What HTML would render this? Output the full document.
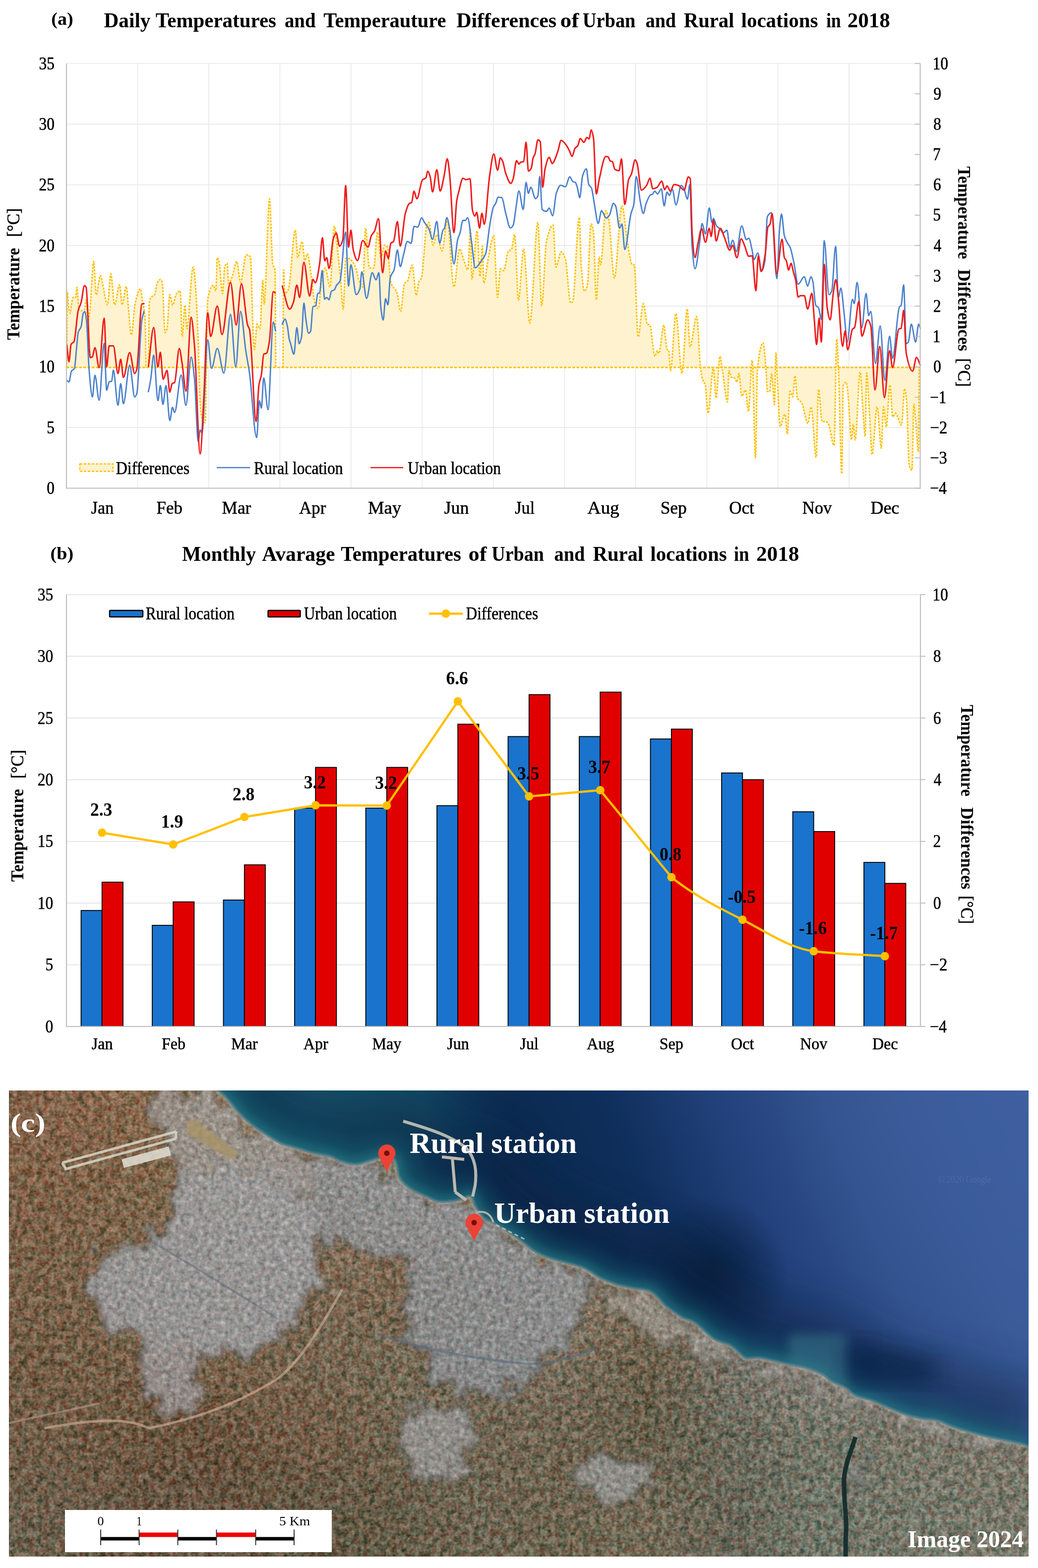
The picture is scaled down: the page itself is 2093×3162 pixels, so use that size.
<!DOCTYPE html>
<html><head><meta charset="utf-8"><title>Urban and Rural temperatures 2018</title>
<style>
html,body{margin:0;padding:0;background:#fff;}
body{width:2093px;height:3162px;overflow:hidden;position:relative;}
svg{position:absolute;left:0;top:0;display:block;}
</style></head><body>
<svg width="2093" height="3162" viewBox="0 0 2093 3162" xmlns="http://www.w3.org/2000/svg">
<rect width="2093" height="3162" fill="#fff"/>
<g id="chartA">
<line x1="134.0" y1="862.1" x2="1855.5" y2="862.1" stroke="#E8E8E8" stroke-width="1.6"/>
<line x1="134.0" y1="739.8" x2="1855.5" y2="739.8" stroke="#E8E8E8" stroke-width="1.6"/>
<line x1="134.0" y1="617.4" x2="1855.5" y2="617.4" stroke="#E8E8E8" stroke-width="1.6"/>
<line x1="134.0" y1="495.1" x2="1855.5" y2="495.1" stroke="#E8E8E8" stroke-width="1.6"/>
<line x1="134.0" y1="372.7" x2="1855.5" y2="372.7" stroke="#E8E8E8" stroke-width="1.6"/>
<line x1="134.0" y1="250.4" x2="1855.5" y2="250.4" stroke="#E8E8E8" stroke-width="1.6"/>
<line x1="134.0" y1="128.0" x2="1855.5" y2="128.0" stroke="#E8E8E8" stroke-width="1.6"/>
<line x1="277.5" y1="128.0" x2="277.5" y2="984.5" stroke="#E8E8E8" stroke-width="1.6"/>
<line x1="420.9" y1="128.0" x2="420.9" y2="984.5" stroke="#E8E8E8" stroke-width="1.6"/>
<line x1="564.4" y1="128.0" x2="564.4" y2="984.5" stroke="#E8E8E8" stroke-width="1.6"/>
<line x1="707.8" y1="128.0" x2="707.8" y2="984.5" stroke="#E8E8E8" stroke-width="1.6"/>
<line x1="851.3" y1="128.0" x2="851.3" y2="984.5" stroke="#E8E8E8" stroke-width="1.6"/>
<line x1="994.8" y1="128.0" x2="994.8" y2="984.5" stroke="#E8E8E8" stroke-width="1.6"/>
<line x1="1138.2" y1="128.0" x2="1138.2" y2="984.5" stroke="#E8E8E8" stroke-width="1.6"/>
<line x1="1281.7" y1="128.0" x2="1281.7" y2="984.5" stroke="#E8E8E8" stroke-width="1.6"/>
<line x1="1425.1" y1="128.0" x2="1425.1" y2="984.5" stroke="#E8E8E8" stroke-width="1.6"/>
<line x1="1568.6" y1="128.0" x2="1568.6" y2="984.5" stroke="#E8E8E8" stroke-width="1.6"/>
<line x1="1712.0" y1="128.0" x2="1712.0" y2="984.5" stroke="#E8E8E8" stroke-width="1.6"/>
<path d="M134.5,741.0 C134.9,689.9 135.3,587.8 135.7,587.8 C136.5,587.8 137.4,613.1 138.2,618.2 C139.3,625.2 140.5,631.7 141.6,631.7 C142.4,631.7 143.3,619.3 144.1,614.8 C145.2,608.6 146.4,599.6 147.5,599.6 C149.2,599.6 150.9,599.6 152.6,599.6 C153.4,599.6 154.3,579.4 155.1,579.4 C156.5,579.4 157.9,624.1 159.3,625.0 C161.0,626.1 162.7,626.6 164.4,626.6 C166.6,626.6 168.9,625.7 171.1,623.3 C172.0,622.4 172.8,604.7 173.7,604.7 C175.1,604.7 176.5,646.9 177.9,646.9 C179.0,646.9 180.2,634.3 181.3,625.0 C183.8,604.1 186.4,527.0 188.9,527.0 C190.6,527.0 192.3,594.6 194.0,594.6 C196.8,594.6 199.6,555.7 202.4,555.7 C203.8,555.7 205.2,565.4 206.6,570.9 C210.0,584.0 213.3,614.8 216.7,614.8 C219.0,614.8 221.2,552.3 223.5,552.3 C226.0,552.3 228.6,614.8 231.1,614.8 C234.5,614.8 237.8,574.3 241.2,574.3 C242.9,574.3 244.6,614.8 246.3,614.8 C249.1,614.8 251.9,577.7 254.7,577.7 C256.1,577.7 257.6,607.7 259.0,621.6 C261.0,640.6 262.9,675.6 264.9,675.6 C267.4,675.6 270.0,622.0 272.5,611.5 C276.1,596.4 279.8,582.7 283.4,582.7 C284.5,582.7 285.7,597.2 286.8,604.7 C288.8,617.8 290.7,617.1 292.7,645.2 C293.3,653.3 293.8,709.4 294.4,741.5 L294.4,741.0 L134.5,741.0 Z" fill="#FFF2CC" fill-opacity="0.95"/>
<path d="M299.0,741.0 C299.8,697.2 300.5,614.7 301.3,609.6 C302.2,603.4 303.2,601.3 304.1,600.0 C306.7,596.5 309.2,597.7 311.8,594.3 C313.7,591.8 315.6,572.5 317.5,569.4 C319.4,566.3 321.4,563.7 323.3,563.7 C324.6,563.7 325.8,566.1 327.1,569.4 C329.0,574.4 330.9,670.8 332.8,670.8 C334.1,670.8 335.4,667.4 336.7,663.2 C338.6,657.1 340.5,594.3 342.4,594.3 C344.3,594.3 346.2,615.3 348.1,615.3 C350.7,615.3 353.2,595.5 355.8,592.4 C358.3,589.3 360.9,586.6 363.4,586.6 C364.7,586.6 366.0,678.5 367.3,678.5 C369.2,678.5 371.1,615.3 373.0,615.3 C374.3,615.3 375.5,663.2 376.8,663.2 C381.0,663.2 385.1,538.8 389.3,538.8 C392.8,538.8 396.3,603.4 399.8,690.0 C400.2,699.9 400.6,728.6 401.0,741.0 C402.3,782.3 403.7,820.0 405.0,830.0 C406.7,842.6 408.3,852.0 410.0,852.0 C411.3,852.0 412.7,852.0 414.0,852.0 C414.7,852.0 415.3,775.2 416.0,741.0 C417.0,691.4 417.9,609.5 418.9,603.9 C422.7,581.8 426.6,575.2 430.4,575.2 C432.0,575.2 433.6,586.6 435.2,586.6 C436.2,586.6 437.1,519.7 438.1,519.7 C439.4,519.7 440.6,524.4 441.9,529.2 C444.1,537.6 446.4,592.4 448.6,592.4 C450.2,592.4 451.8,540.5 453.4,536.9 C455.0,533.4 456.5,531.1 458.1,531.1 C459.1,531.1 460.0,571.3 461.0,571.3 C463.6,571.3 466.1,562.4 468.7,556.0 C471.6,548.9 474.4,527.3 477.3,527.3 C479.9,527.3 482.4,569.4 485.0,569.4 C488.8,569.4 492.6,513.9 496.4,513.9 C499.3,513.9 502.1,515.1 505.0,517.8 C506.9,519.6 508.9,650.6 510.8,680.0 C511.5,691.1 512.3,705.0 513.0,705.0 C514.8,705.0 516.6,653.6 518.4,653.6 C520.3,653.6 522.3,663.2 524.2,663.2 C526.1,663.2 528.0,565.6 529.9,565.6 C530.9,565.6 531.8,613.4 532.8,613.4 C536.3,613.4 539.8,401.0 543.3,401.0 C545.5,401.0 547.8,522.4 550.0,533.0 C551.6,540.6 553.2,535.2 554.8,546.5 C555.1,548.6 555.4,627.2 555.7,680.0 C555.8,697.6 555.9,720.7 556.0,741.0 L556.0,741.0 L299.0,741.0 Z" fill="#FFF2CC" fill-opacity="0.95"/>
<path d="M570.7,741.0 C571.0,675.3 571.4,544.0 571.7,544.0 C572.7,544.0 573.6,591.8 574.6,591.8 C576.8,591.8 579.1,588.3 581.3,584.2 C586.1,575.5 590.8,463.9 595.6,463.9 C597.2,463.9 598.8,519.4 600.4,519.4 C603.3,519.4 606.1,486.9 609.0,486.9 C610.9,486.9 612.8,525.2 614.7,525.2 C616.3,525.2 617.9,511.8 619.5,511.8 C622.4,511.8 625.2,539.7 628.1,559.6 C629.7,570.7 631.3,595.3 632.9,601.7 C635.8,613.2 638.6,622.5 641.5,622.5 C644.1,622.5 646.6,572.9 649.2,561.5 C651.4,551.6 653.7,540.5 655.9,540.5 C659.1,540.5 662.2,578.7 665.4,578.7 C668.3,578.7 671.2,456.3 674.1,456.3 C676.6,456.3 679.2,492.1 681.7,513.7 C683.3,527.3 684.9,543.1 686.5,559.6 C688.4,579.2 690.3,623.5 692.2,623.5 C693.8,623.5 695.4,521.3 697.0,521.3 C698.9,521.3 700.9,521.3 702.8,521.3 C707.2,521.3 711.7,528.4 716.1,536.6 C718.7,541.3 721.2,559.2 723.8,565.3 C726.4,571.4 728.9,578.7 731.5,578.7 C733.4,578.7 735.3,460.1 737.2,460.1 C739.7,460.1 742.3,540.5 744.8,540.5 C747.7,540.5 750.6,540.5 753.5,540.5 C756.0,540.5 758.6,467.8 761.1,467.8 C763.3,467.8 765.6,521.3 767.8,521.3 C770.4,521.3 772.9,494.5 775.5,494.5 C777.4,494.5 779.3,496.0 781.2,498.4 C783.4,501.2 785.7,562.2 787.9,569.2 C792.0,582.2 796.2,579.4 800.3,590.2 C802.9,596.9 805.4,628.0 808.0,628.0 C810.5,628.0 813.1,574.1 815.6,571.1 C817.5,568.8 819.5,569.3 821.4,567.2 C824.6,563.8 827.8,534.5 831.0,534.5 C833.8,534.5 836.7,595.7 839.5,595.7 C841.1,595.7 842.7,573.3 844.3,569.2 C846.2,564.2 848.2,564.7 850.1,559.6 C853.6,550.3 857.1,461.8 860.6,454.4 C862.1,451.3 863.5,448.6 865.0,448.6 C867.7,448.6 870.5,494.3 873.2,494.3 C875.7,494.3 878.3,473.2 880.8,473.2 C884.3,473.2 887.9,505.8 891.4,505.8 C894.9,505.8 898.4,444.5 901.9,444.5 C906.4,444.5 910.8,578.6 915.3,578.6 C919.1,578.6 922.9,501.9 926.7,501.9 C929.6,501.9 932.5,517.4 935.4,524.9 C937.9,531.5 940.5,544.2 943.0,544.2 C944.9,544.2 946.8,463.7 948.7,463.7 C949.7,463.7 950.6,563.3 951.6,563.3 C955.1,563.3 958.6,465.6 962.1,465.6 C964.0,465.6 966.0,557.6 967.9,557.6 C969.5,557.6 971.1,496.2 972.7,496.2 C973.6,496.2 974.6,571.0 975.5,571.0 C978.7,571.0 981.9,532.2 985.1,517.2 C988.6,500.8 992.1,475.2 995.6,475.2 C998.2,475.2 1000.7,599.7 1003.3,599.7 C1005.2,599.7 1007.1,542.1 1009.0,542.1 C1011.2,542.1 1013.5,545.9 1015.7,545.9 C1018.9,545.9 1022.1,507.6 1025.3,505.8 C1027.2,504.7 1029.1,505.1 1031.0,503.9 C1033.2,502.5 1035.5,473.2 1037.7,473.2 C1040.3,473.2 1042.8,605.4 1045.4,605.4 C1048.9,605.4 1052.4,501.9 1055.9,501.9 C1060.0,501.9 1064.2,651.3 1068.3,651.3 C1073.7,651.3 1079.2,448.4 1084.6,448.4 C1087.1,448.4 1089.7,616.9 1092.2,616.9 C1095.4,616.9 1098.6,500.3 1101.8,486.6 C1106.3,467.5 1110.7,454.1 1115.2,454.1 C1117.1,454.1 1119.1,538.4 1121.0,538.4 C1124.5,538.4 1128.0,507.8 1131.5,507.8 C1134.4,507.8 1137.2,514.9 1140.1,523.1 C1143.6,533.2 1147.1,611.1 1150.6,611.1 C1151.9,611.1 1153.3,609.9 1154.6,608.5 C1159.1,603.7 1163.5,438.5 1168.0,438.5 C1169.3,438.5 1170.5,517.8 1171.8,533.9 C1174.0,562.4 1176.3,587.5 1178.5,587.5 C1180.4,587.5 1182.3,582.6 1184.2,576.0 C1186.8,567.1 1189.3,451.5 1191.9,451.5 C1193.5,451.5 1195.1,459.0 1196.7,468.9 C1198.6,480.6 1200.5,604.7 1202.4,604.7 C1204.3,604.7 1206.2,518.6 1208.1,518.6 C1209.1,518.6 1210.0,533.9 1211.0,533.9 C1214.5,533.9 1218.0,425.0 1221.5,425.0 C1223.4,425.0 1225.4,432.6 1227.3,440.2 C1231.1,455.2 1234.9,560.7 1238.7,560.7 C1243.8,560.7 1249.0,415.0 1254.1,415.0 C1257.9,415.0 1261.7,471.7 1265.5,491.8 C1268.7,508.7 1271.9,533.9 1275.1,533.9 C1276.4,533.9 1277.6,533.9 1278.9,533.9 C1281.5,533.9 1284.0,679.3 1286.6,679.3 C1290.1,679.3 1293.6,612.4 1297.1,612.4 C1300.0,612.4 1302.8,654.5 1305.7,654.5 C1307.0,654.5 1308.2,654.5 1309.5,654.5 C1310.0,654.5 1310.5,656.1 1311.0,657.4 C1314.2,665.8 1317.4,718.6 1320.6,718.6 C1322.2,718.6 1323.8,707.1 1325.4,707.1 C1326.4,707.1 1327.3,712.9 1328.3,712.9 C1331.8,712.9 1335.3,655.5 1338.8,655.5 C1339.8,655.5 1340.7,673.2 1341.7,680.4 C1343.0,689.9 1344.2,703.7 1345.5,705.2 C1346.5,706.3 1347.4,706.0 1348.4,707.1 C1349.7,708.6 1350.9,747.3 1352.2,747.3 C1355.7,747.3 1359.2,632.5 1362.7,632.5 C1366.8,632.5 1371.0,753.1 1375.1,753.1 C1378.6,753.1 1382.2,623.0 1385.7,623.0 C1387.6,623.0 1389.5,699.5 1391.4,699.5 C1395.9,699.5 1400.3,638.3 1404.8,638.3 C1407.3,638.3 1409.9,718.7 1412.4,739.7 C1413.7,750.5 1415.0,760.4 1416.3,764.5 C1418.2,770.5 1420.1,769.6 1422.0,776.0 C1423.9,782.5 1425.9,833.4 1427.8,833.4 C1431.3,833.4 1434.8,743.5 1438.3,743.5 C1440.2,743.5 1442.1,802.8 1444.0,802.8 C1446.6,802.8 1449.1,718.6 1451.7,718.6 C1453.3,718.6 1454.9,736.1 1456.5,745.4 C1460.0,765.8 1463.5,810.5 1467.0,810.5 C1467.9,810.5 1468.9,747.3 1469.8,747.3 C1471.4,747.3 1473.0,759.8 1474.6,760.7 C1476.8,761.9 1479.1,761.5 1481.3,762.6 C1482.9,763.4 1484.5,770.3 1486.1,770.3 C1487.4,770.3 1488.6,753.1 1489.9,753.1 C1491.8,753.1 1493.8,799.0 1495.7,799.0 C1498.2,799.0 1500.8,786.5 1503.3,786.5 C1505.2,786.5 1507.2,829.6 1509.1,829.6 C1511.6,829.6 1514.2,726.3 1516.7,726.3 C1518.9,726.3 1521.2,924.0 1523.4,924.0 C1524.7,924.0 1525.9,757.9 1527.2,745.4 C1531.0,707.7 1534.9,691.8 1538.7,691.8 C1540.6,691.8 1542.6,722.2 1544.5,745.4 C1545.4,756.6 1546.4,789.4 1547.3,789.4 C1548.9,789.4 1550.5,789.4 1552.1,789.4 C1553.4,789.4 1554.6,753.1 1555.9,753.1 C1557.8,753.1 1559.8,816.2 1561.7,816.2 C1562.7,816.2 1563.6,711.0 1564.6,711.0 C1565.5,711.0 1566.5,746.1 1567.4,762.6 C1569.3,796.8 1571.3,860.2 1573.2,860.2 C1576.4,860.2 1579.5,835.3 1582.7,835.3 C1584.3,835.3 1585.9,875.5 1587.5,875.5 C1589.3,875.5 1591.1,789.1 1592.9,789.1 C1594.8,789.1 1596.6,800.2 1598.5,800.2 C1600.0,800.2 1601.6,757.7 1603.1,757.7 C1604.6,757.7 1606.2,798.5 1607.7,802.1 C1610.8,809.3 1613.9,807.8 1617.0,813.2 C1621.0,820.1 1625.0,853.9 1629.0,853.9 C1631.2,853.9 1633.3,820.6 1635.5,820.6 C1638.9,820.6 1642.3,922.3 1645.7,922.3 C1647.2,922.3 1648.8,785.4 1650.3,785.4 C1652.8,785.4 1655.2,850.2 1657.7,850.2 C1660.2,850.2 1662.6,850.2 1665.1,850.2 C1666.9,850.2 1668.8,853.0 1670.6,855.7 C1674.3,861.2 1678.0,898.2 1681.7,898.2 C1683.6,898.2 1685.4,683.7 1687.3,683.7 C1688.5,683.7 1689.8,725.4 1691.0,754.0 C1693.1,803.5 1695.3,955.6 1697.4,955.6 C1698.3,955.6 1699.3,780.7 1700.2,778.0 C1702.1,772.6 1703.9,770.6 1705.8,770.6 C1707.0,770.6 1708.3,781.9 1709.5,791.0 C1712.0,809.3 1714.4,887.1 1716.9,887.1 C1718.1,887.1 1719.4,855.7 1720.6,855.7 C1721.8,855.7 1723.1,887.1 1724.3,887.1 C1727.7,887.1 1731.0,750.3 1734.4,750.3 C1736.3,750.3 1738.1,804.9 1740.0,828.0 C1741.5,847.0 1743.1,879.7 1744.6,879.7 C1745.5,879.7 1746.5,752.1 1747.4,752.1 C1749.2,752.1 1751.1,801.0 1752.9,828.0 C1754.8,855.5 1756.6,916.7 1758.5,916.7 C1761.9,916.7 1765.2,820.6 1768.6,820.6 C1771.4,820.6 1774.2,903.8 1777.0,903.8 C1778.5,903.8 1780.1,820.6 1781.6,820.6 C1783.4,820.6 1785.3,861.2 1787.1,861.2 C1789.6,861.2 1792.0,776.2 1794.5,776.2 C1796.4,776.2 1798.2,840.9 1800.1,840.9 C1801.9,840.9 1803.8,833.5 1805.6,833.5 C1809.6,833.5 1813.7,857.5 1817.7,857.5 C1819.8,857.5 1822.0,783.6 1824.1,783.6 C1825.3,783.6 1826.6,794.4 1827.8,805.8 C1829.7,823.0 1831.5,933.0 1833.4,938.9 C1835.2,944.7 1837.1,948.2 1838.9,948.2 C1840.1,948.2 1841.4,815.0 1842.6,815.0 C1843.8,815.0 1845.1,834.5 1846.3,846.5 C1848.2,864.6 1850.0,911.2 1851.9,911.2 C1852.5,911.2 1853.1,749.2 1853.7,743.0 C1853.8,742.0 1853.9,741.7 1854.0,741.0 L1854.0,741.0 L570.7,741.0 Z" fill="#FFF2CC" fill-opacity="0.95"/>
<path d="M134.5,741.0 C134.9,689.9 135.3,587.8 135.7,587.8 C136.5,587.8 137.4,613.1 138.2,618.2 C139.3,625.2 140.5,631.7 141.6,631.7 C142.4,631.7 143.3,619.3 144.1,614.8 C145.2,608.6 146.4,599.6 147.5,599.6 C149.2,599.6 150.9,599.6 152.6,599.6 C153.4,599.6 154.3,579.4 155.1,579.4 C156.5,579.4 157.9,624.1 159.3,625.0 C161.0,626.1 162.7,626.6 164.4,626.6 C166.6,626.6 168.9,625.7 171.1,623.3 C172.0,622.4 172.8,604.7 173.7,604.7 C175.1,604.7 176.5,646.9 177.9,646.9 C179.0,646.9 180.2,634.3 181.3,625.0 C183.8,604.1 186.4,527.0 188.9,527.0 C190.6,527.0 192.3,594.6 194.0,594.6 C196.8,594.6 199.6,555.7 202.4,555.7 C203.8,555.7 205.2,565.4 206.6,570.9 C210.0,584.0 213.3,614.8 216.7,614.8 C219.0,614.8 221.2,552.3 223.5,552.3 C226.0,552.3 228.6,614.8 231.1,614.8 C234.5,614.8 237.8,574.3 241.2,574.3 C242.9,574.3 244.6,614.8 246.3,614.8 C249.1,614.8 251.9,577.7 254.7,577.7 C256.1,577.7 257.6,607.7 259.0,621.6 C261.0,640.6 262.9,675.6 264.9,675.6 C267.4,675.6 270.0,622.0 272.5,611.5 C276.1,596.4 279.8,582.7 283.4,582.7 C284.5,582.7 285.7,597.2 286.8,604.7 C288.8,617.8 290.7,617.1 292.7,645.2 C293.3,653.3 293.8,709.4 294.4,741.5" fill="none" stroke="#FFC000" stroke-width="3" stroke-dasharray="4 2.5" stroke-linejoin="round"/>
<path d="M299.0,741.0 C299.8,697.2 300.5,614.7 301.3,609.6 C302.2,603.4 303.2,601.3 304.1,600.0 C306.7,596.5 309.2,597.7 311.8,594.3 C313.7,591.8 315.6,572.5 317.5,569.4 C319.4,566.3 321.4,563.7 323.3,563.7 C324.6,563.7 325.8,566.1 327.1,569.4 C329.0,574.4 330.9,670.8 332.8,670.8 C334.1,670.8 335.4,667.4 336.7,663.2 C338.6,657.1 340.5,594.3 342.4,594.3 C344.3,594.3 346.2,615.3 348.1,615.3 C350.7,615.3 353.2,595.5 355.8,592.4 C358.3,589.3 360.9,586.6 363.4,586.6 C364.7,586.6 366.0,678.5 367.3,678.5 C369.2,678.5 371.1,615.3 373.0,615.3 C374.3,615.3 375.5,663.2 376.8,663.2 C381.0,663.2 385.1,538.8 389.3,538.8 C392.8,538.8 396.3,603.4 399.8,690.0 C400.2,699.9 400.6,728.6 401.0,741.0 C402.3,782.3 403.7,820.0 405.0,830.0 C406.7,842.6 408.3,852.0 410.0,852.0 C411.3,852.0 412.7,852.0 414.0,852.0 C414.7,852.0 415.3,775.2 416.0,741.0 C417.0,691.4 417.9,609.5 418.9,603.9 C422.7,581.8 426.6,575.2 430.4,575.2 C432.0,575.2 433.6,586.6 435.2,586.6 C436.2,586.6 437.1,519.7 438.1,519.7 C439.4,519.7 440.6,524.4 441.9,529.2 C444.1,537.6 446.4,592.4 448.6,592.4 C450.2,592.4 451.8,540.5 453.4,536.9 C455.0,533.4 456.5,531.1 458.1,531.1 C459.1,531.1 460.0,571.3 461.0,571.3 C463.6,571.3 466.1,562.4 468.7,556.0 C471.6,548.9 474.4,527.3 477.3,527.3 C479.9,527.3 482.4,569.4 485.0,569.4 C488.8,569.4 492.6,513.9 496.4,513.9 C499.3,513.9 502.1,515.1 505.0,517.8 C506.9,519.6 508.9,650.6 510.8,680.0 C511.5,691.1 512.3,705.0 513.0,705.0 C514.8,705.0 516.6,653.6 518.4,653.6 C520.3,653.6 522.3,663.2 524.2,663.2 C526.1,663.2 528.0,565.6 529.9,565.6 C530.9,565.6 531.8,613.4 532.8,613.4 C536.3,613.4 539.8,401.0 543.3,401.0 C545.5,401.0 547.8,522.4 550.0,533.0 C551.6,540.6 553.2,535.2 554.8,546.5 C555.1,548.6 555.4,627.2 555.7,680.0 C555.8,697.6 555.9,720.7 556.0,741.0" fill="none" stroke="#FFC000" stroke-width="3" stroke-dasharray="4 2.5" stroke-linejoin="round"/>
<path d="M570.7,741.0 C571.0,675.3 571.4,544.0 571.7,544.0 C572.7,544.0 573.6,591.8 574.6,591.8 C576.8,591.8 579.1,588.3 581.3,584.2 C586.1,575.5 590.8,463.9 595.6,463.9 C597.2,463.9 598.8,519.4 600.4,519.4 C603.3,519.4 606.1,486.9 609.0,486.9 C610.9,486.9 612.8,525.2 614.7,525.2 C616.3,525.2 617.9,511.8 619.5,511.8 C622.4,511.8 625.2,539.7 628.1,559.6 C629.7,570.7 631.3,595.3 632.9,601.7 C635.8,613.2 638.6,622.5 641.5,622.5 C644.1,622.5 646.6,572.9 649.2,561.5 C651.4,551.6 653.7,540.5 655.9,540.5 C659.1,540.5 662.2,578.7 665.4,578.7 C668.3,578.7 671.2,456.3 674.1,456.3 C676.6,456.3 679.2,492.1 681.7,513.7 C683.3,527.3 684.9,543.1 686.5,559.6 C688.4,579.2 690.3,623.5 692.2,623.5 C693.8,623.5 695.4,521.3 697.0,521.3 C698.9,521.3 700.9,521.3 702.8,521.3 C707.2,521.3 711.7,528.4 716.1,536.6 C718.7,541.3 721.2,559.2 723.8,565.3 C726.4,571.4 728.9,578.7 731.5,578.7 C733.4,578.7 735.3,460.1 737.2,460.1 C739.7,460.1 742.3,540.5 744.8,540.5 C747.7,540.5 750.6,540.5 753.5,540.5 C756.0,540.5 758.6,467.8 761.1,467.8 C763.3,467.8 765.6,521.3 767.8,521.3 C770.4,521.3 772.9,494.5 775.5,494.5 C777.4,494.5 779.3,496.0 781.2,498.4 C783.4,501.2 785.7,562.2 787.9,569.2 C792.0,582.2 796.2,579.4 800.3,590.2 C802.9,596.9 805.4,628.0 808.0,628.0 C810.5,628.0 813.1,574.1 815.6,571.1 C817.5,568.8 819.5,569.3 821.4,567.2 C824.6,563.8 827.8,534.5 831.0,534.5 C833.8,534.5 836.7,595.7 839.5,595.7 C841.1,595.7 842.7,573.3 844.3,569.2 C846.2,564.2 848.2,564.7 850.1,559.6 C853.6,550.3 857.1,461.8 860.6,454.4 C862.1,451.3 863.5,448.6 865.0,448.6 C867.7,448.6 870.5,494.3 873.2,494.3 C875.7,494.3 878.3,473.2 880.8,473.2 C884.3,473.2 887.9,505.8 891.4,505.8 C894.9,505.8 898.4,444.5 901.9,444.5 C906.4,444.5 910.8,578.6 915.3,578.6 C919.1,578.6 922.9,501.9 926.7,501.9 C929.6,501.9 932.5,517.4 935.4,524.9 C937.9,531.5 940.5,544.2 943.0,544.2 C944.9,544.2 946.8,463.7 948.7,463.7 C949.7,463.7 950.6,563.3 951.6,563.3 C955.1,563.3 958.6,465.6 962.1,465.6 C964.0,465.6 966.0,557.6 967.9,557.6 C969.5,557.6 971.1,496.2 972.7,496.2 C973.6,496.2 974.6,571.0 975.5,571.0 C978.7,571.0 981.9,532.2 985.1,517.2 C988.6,500.8 992.1,475.2 995.6,475.2 C998.2,475.2 1000.7,599.7 1003.3,599.7 C1005.2,599.7 1007.1,542.1 1009.0,542.1 C1011.2,542.1 1013.5,545.9 1015.7,545.9 C1018.9,545.9 1022.1,507.6 1025.3,505.8 C1027.2,504.7 1029.1,505.1 1031.0,503.9 C1033.2,502.5 1035.5,473.2 1037.7,473.2 C1040.3,473.2 1042.8,605.4 1045.4,605.4 C1048.9,605.4 1052.4,501.9 1055.9,501.9 C1060.0,501.9 1064.2,651.3 1068.3,651.3 C1073.7,651.3 1079.2,448.4 1084.6,448.4 C1087.1,448.4 1089.7,616.9 1092.2,616.9 C1095.4,616.9 1098.6,500.3 1101.8,486.6 C1106.3,467.5 1110.7,454.1 1115.2,454.1 C1117.1,454.1 1119.1,538.4 1121.0,538.4 C1124.5,538.4 1128.0,507.8 1131.5,507.8 C1134.4,507.8 1137.2,514.9 1140.1,523.1 C1143.6,533.2 1147.1,611.1 1150.6,611.1 C1151.9,611.1 1153.3,609.9 1154.6,608.5 C1159.1,603.7 1163.5,438.5 1168.0,438.5 C1169.3,438.5 1170.5,517.8 1171.8,533.9 C1174.0,562.4 1176.3,587.5 1178.5,587.5 C1180.4,587.5 1182.3,582.6 1184.2,576.0 C1186.8,567.1 1189.3,451.5 1191.9,451.5 C1193.5,451.5 1195.1,459.0 1196.7,468.9 C1198.6,480.6 1200.5,604.7 1202.4,604.7 C1204.3,604.7 1206.2,518.6 1208.1,518.6 C1209.1,518.6 1210.0,533.9 1211.0,533.9 C1214.5,533.9 1218.0,425.0 1221.5,425.0 C1223.4,425.0 1225.4,432.6 1227.3,440.2 C1231.1,455.2 1234.9,560.7 1238.7,560.7 C1243.8,560.7 1249.0,415.0 1254.1,415.0 C1257.9,415.0 1261.7,471.7 1265.5,491.8 C1268.7,508.7 1271.9,533.9 1275.1,533.9 C1276.4,533.9 1277.6,533.9 1278.9,533.9 C1281.5,533.9 1284.0,679.3 1286.6,679.3 C1290.1,679.3 1293.6,612.4 1297.1,612.4 C1300.0,612.4 1302.8,654.5 1305.7,654.5 C1307.0,654.5 1308.2,654.5 1309.5,654.5 C1310.0,654.5 1310.5,656.1 1311.0,657.4 C1314.2,665.8 1317.4,718.6 1320.6,718.6 C1322.2,718.6 1323.8,707.1 1325.4,707.1 C1326.4,707.1 1327.3,712.9 1328.3,712.9 C1331.8,712.9 1335.3,655.5 1338.8,655.5 C1339.8,655.5 1340.7,673.2 1341.7,680.4 C1343.0,689.9 1344.2,703.7 1345.5,705.2 C1346.5,706.3 1347.4,706.0 1348.4,707.1 C1349.7,708.6 1350.9,747.3 1352.2,747.3 C1355.7,747.3 1359.2,632.5 1362.7,632.5 C1366.8,632.5 1371.0,753.1 1375.1,753.1 C1378.6,753.1 1382.2,623.0 1385.7,623.0 C1387.6,623.0 1389.5,699.5 1391.4,699.5 C1395.9,699.5 1400.3,638.3 1404.8,638.3 C1407.3,638.3 1409.9,718.7 1412.4,739.7 C1413.7,750.5 1415.0,760.4 1416.3,764.5 C1418.2,770.5 1420.1,769.6 1422.0,776.0 C1423.9,782.5 1425.9,833.4 1427.8,833.4 C1431.3,833.4 1434.8,743.5 1438.3,743.5 C1440.2,743.5 1442.1,802.8 1444.0,802.8 C1446.6,802.8 1449.1,718.6 1451.7,718.6 C1453.3,718.6 1454.9,736.1 1456.5,745.4 C1460.0,765.8 1463.5,810.5 1467.0,810.5 C1467.9,810.5 1468.9,747.3 1469.8,747.3 C1471.4,747.3 1473.0,759.8 1474.6,760.7 C1476.8,761.9 1479.1,761.5 1481.3,762.6 C1482.9,763.4 1484.5,770.3 1486.1,770.3 C1487.4,770.3 1488.6,753.1 1489.9,753.1 C1491.8,753.1 1493.8,799.0 1495.7,799.0 C1498.2,799.0 1500.8,786.5 1503.3,786.5 C1505.2,786.5 1507.2,829.6 1509.1,829.6 C1511.6,829.6 1514.2,726.3 1516.7,726.3 C1518.9,726.3 1521.2,924.0 1523.4,924.0 C1524.7,924.0 1525.9,757.9 1527.2,745.4 C1531.0,707.7 1534.9,691.8 1538.7,691.8 C1540.6,691.8 1542.6,722.2 1544.5,745.4 C1545.4,756.6 1546.4,789.4 1547.3,789.4 C1548.9,789.4 1550.5,789.4 1552.1,789.4 C1553.4,789.4 1554.6,753.1 1555.9,753.1 C1557.8,753.1 1559.8,816.2 1561.7,816.2 C1562.7,816.2 1563.6,711.0 1564.6,711.0 C1565.5,711.0 1566.5,746.1 1567.4,762.6 C1569.3,796.8 1571.3,860.2 1573.2,860.2 C1576.4,860.2 1579.5,835.3 1582.7,835.3 C1584.3,835.3 1585.9,875.5 1587.5,875.5 C1589.3,875.5 1591.1,789.1 1592.9,789.1 C1594.8,789.1 1596.6,800.2 1598.5,800.2 C1600.0,800.2 1601.6,757.7 1603.1,757.7 C1604.6,757.7 1606.2,798.5 1607.7,802.1 C1610.8,809.3 1613.9,807.8 1617.0,813.2 C1621.0,820.1 1625.0,853.9 1629.0,853.9 C1631.2,853.9 1633.3,820.6 1635.5,820.6 C1638.9,820.6 1642.3,922.3 1645.7,922.3 C1647.2,922.3 1648.8,785.4 1650.3,785.4 C1652.8,785.4 1655.2,850.2 1657.7,850.2 C1660.2,850.2 1662.6,850.2 1665.1,850.2 C1666.9,850.2 1668.8,853.0 1670.6,855.7 C1674.3,861.2 1678.0,898.2 1681.7,898.2 C1683.6,898.2 1685.4,683.7 1687.3,683.7 C1688.5,683.7 1689.8,725.4 1691.0,754.0 C1693.1,803.5 1695.3,955.6 1697.4,955.6 C1698.3,955.6 1699.3,780.7 1700.2,778.0 C1702.1,772.6 1703.9,770.6 1705.8,770.6 C1707.0,770.6 1708.3,781.9 1709.5,791.0 C1712.0,809.3 1714.4,887.1 1716.9,887.1 C1718.1,887.1 1719.4,855.7 1720.6,855.7 C1721.8,855.7 1723.1,887.1 1724.3,887.1 C1727.7,887.1 1731.0,750.3 1734.4,750.3 C1736.3,750.3 1738.1,804.9 1740.0,828.0 C1741.5,847.0 1743.1,879.7 1744.6,879.7 C1745.5,879.7 1746.5,752.1 1747.4,752.1 C1749.2,752.1 1751.1,801.0 1752.9,828.0 C1754.8,855.5 1756.6,916.7 1758.5,916.7 C1761.9,916.7 1765.2,820.6 1768.6,820.6 C1771.4,820.6 1774.2,903.8 1777.0,903.8 C1778.5,903.8 1780.1,820.6 1781.6,820.6 C1783.4,820.6 1785.3,861.2 1787.1,861.2 C1789.6,861.2 1792.0,776.2 1794.5,776.2 C1796.4,776.2 1798.2,840.9 1800.1,840.9 C1801.9,840.9 1803.8,833.5 1805.6,833.5 C1809.6,833.5 1813.7,857.5 1817.7,857.5 C1819.8,857.5 1822.0,783.6 1824.1,783.6 C1825.3,783.6 1826.6,794.4 1827.8,805.8 C1829.7,823.0 1831.5,933.0 1833.4,938.9 C1835.2,944.7 1837.1,948.2 1838.9,948.2 C1840.1,948.2 1841.4,815.0 1842.6,815.0 C1843.8,815.0 1845.1,834.5 1846.3,846.5 C1848.2,864.6 1850.0,911.2 1851.9,911.2 C1852.5,911.2 1853.1,749.2 1853.7,743.0 C1853.8,742.0 1853.9,741.7 1854.0,741.0" fill="none" stroke="#FFC000" stroke-width="3" stroke-dasharray="4 2.5" stroke-linejoin="round"/>
<line x1="134.0" y1="741.0" x2="1855.5" y2="741.0" stroke="#FFC000" stroke-width="3" stroke-dasharray="5.5 3"/>
<path d="M134.8,766.8 C136.2,767.9 137.7,770.2 139.1,770.2 C140.8,770.2 142.4,750.6 144.1,748.2 C146.1,745.4 148.0,746.4 150.0,743.2 C151.4,740.9 152.9,716.3 154.3,702.6 C155.4,692.1 156.5,674.5 157.6,670.6 C159.6,663.6 161.6,665.0 163.6,658.7 C165.0,654.3 166.4,634.1 167.8,631.7 C168.9,629.8 170.0,628.3 171.1,628.3 C172.2,628.3 173.4,637.6 174.5,646.9 C176.2,660.9 177.9,724.8 179.6,744.9 C181.8,771.3 184.1,800.6 186.3,800.6 C188.0,800.6 189.7,756.7 191.4,756.7 C194.2,756.7 197.1,807.3 199.9,807.3 C203.3,807.3 206.6,692.5 210.0,692.5 C211.7,692.5 213.4,787.1 215.1,787.1 C216.8,787.1 218.4,771.2 220.1,770.2 C221.8,769.2 223.5,769.6 225.2,768.5 C226.3,767.7 227.5,746.5 228.6,746.5 C231.7,746.5 234.8,817.5 237.9,817.5 C239.7,817.5 241.6,773.6 243.4,773.6 C245.2,773.6 247.0,814.1 248.8,814.1 C253.0,814.1 257.3,736.4 261.5,736.4 C264.9,736.4 268.2,800.6 271.6,800.6 C273.0,800.6 274.4,797.5 275.8,793.8 C279.2,784.9 282.6,665.1 286.0,645.2 C287.4,637.0 288.8,633.9 290.2,628.3" fill="none" stroke="#4A80CC" stroke-width="2.8" stroke-linejoin="round" stroke-linecap="round"/>
<path d="M299.3,789.8 C300.9,781.2 302.5,774.3 304.1,763.9 C306.0,751.4 308.0,716.1 309.9,716.1 C312.8,716.1 315.6,807.9 318.5,807.9 C320.1,807.9 321.7,777.3 323.3,777.3 C325.1,777.3 326.8,815.6 328.6,815.6 C330.6,815.6 332.7,777.3 334.7,777.3 C337.3,777.3 339.8,848.1 342.4,848.1 C344.2,848.1 346.0,821.3 347.8,821.3 C349.2,821.3 350.6,831.8 352.0,831.8 C356.5,831.8 360.9,756.3 365.4,756.3 C368.6,756.3 371.7,817.5 374.9,817.5 C378.4,817.5 381.9,719.9 385.4,719.9 C387.6,719.9 389.9,743.2 392.1,763.9 C394.7,787.7 397.2,890.2 399.8,890.2 C401.1,890.2 402.3,867.2 403.6,867.2 C404.9,867.2 406.1,873.0 407.4,873.0 C411.2,873.0 415.1,685.5 418.9,685.5 C421.5,685.5 424.0,742.9 426.6,742.9 C430.4,742.9 434.3,702.7 438.1,702.7 C442.6,702.7 447.0,752.4 451.5,752.4 C455.9,752.4 460.4,634.0 464.8,634.0 C468.3,634.0 471.9,740.0 475.4,740.0 C478.6,740.0 481.8,627.8 485.0,627.8 C488.5,627.8 492.0,683.2 495.5,706.5 C498.0,723.3 500.6,734.4 503.1,752.4 C507.9,786.5 512.7,882.5 517.5,882.5 C519.4,882.5 521.3,807.9 523.2,807.9 C524.5,807.9 525.7,823.2 527.0,823.2 C528.6,823.2 530.2,762.0 531.8,762.0 C534.7,762.0 537.5,826.1 540.4,826.1 C543.9,826.1 547.5,649.5 551.0,649.5 C552.6,649.5 554.1,661.2 555.7,667.0" fill="none" stroke="#4A80CC" stroke-width="2.8" stroke-linejoin="round" stroke-linecap="round"/>
<path d="M569.1,653.6 C570.9,650.2 572.8,643.5 574.6,643.5 C576.2,643.5 577.7,650.5 579.3,656.9 C580.6,662.2 581.9,677.9 583.2,683.7 C584.1,687.9 585.1,690.1 586.0,693.2 C588.2,700.5 590.5,714.3 592.7,714.3 C594.6,714.3 596.6,660.7 598.5,660.7 C600.1,660.7 601.7,693.2 603.3,693.2 C604.9,693.2 606.4,687.2 608.0,679.8 C609.6,672.2 611.2,611.0 612.8,611.0 C614.1,611.0 615.4,635.2 616.7,643.5 C618.6,655.6 620.5,672.2 622.4,672.2 C623.7,672.2 624.9,670.6 626.2,668.4 C627.8,665.6 629.4,619.7 631.0,618.6 C632.9,617.3 634.8,618.0 636.7,616.7 C638.0,615.8 639.3,591.8 640.6,591.5 C641.9,591.2 643.1,591.3 644.4,591.0 C646.1,590.6 647.9,545.5 649.6,545.5 C651.2,545.5 652.9,603.5 654.5,603.5 C655.9,603.5 657.3,599.8 658.7,599.8 C660.3,599.8 661.9,604.5 663.5,604.5 C665.1,604.5 666.7,588.7 668.3,587.3 C670.2,585.6 672.2,586.0 674.1,584.5 C675.7,583.2 677.2,577.2 678.8,574.9 C681.0,571.6 683.3,571.4 685.5,567.2 C689.3,559.9 693.2,467.8 697.0,467.8 C698.9,467.8 700.9,576.8 702.8,576.8 C704.4,576.8 705.9,533.8 707.5,533.8 C711.0,533.8 714.6,594.0 718.1,594.0 C720.6,594.0 723.2,589.6 725.7,582.5 C727.0,578.9 728.2,548.1 729.5,548.1 C732.7,548.1 735.9,601.7 739.1,601.7 C742.9,601.7 746.8,550.0 750.6,550.0 C753.1,550.0 755.7,564.4 758.2,564.4 C760.1,564.4 762.1,549.7 764.0,549.7 C765.3,549.7 766.5,607.6 767.8,618.6 C769.4,632.5 771.0,645.4 772.6,645.4 C774.2,645.4 775.8,602.4 777.4,602.4 C779.0,602.4 780.6,614.8 782.2,614.8 C783.8,614.8 785.3,565.1 786.9,559.5 C789.5,550.3 792.0,552.0 794.6,544.3 C796.8,537.6 799.1,504.1 801.3,504.1 C803.2,504.1 805.1,537.6 807.0,537.6 C809.2,537.6 811.5,521.6 813.7,513.7 C816.3,504.7 818.8,486.9 821.4,486.9 C823.9,486.9 826.5,490.7 829.0,490.7 C830.9,490.7 832.9,456.3 834.8,456.3 C837.3,456.3 839.9,458.2 842.4,458.2 C845.0,458.2 847.5,439.1 850.1,439.1 C852.0,439.1 853.9,445.6 855.8,448.6 C858.9,453.4 861.9,456.0 865.0,462.0 C867.4,466.7 869.8,482.8 872.2,482.8 C875.1,482.8 877.9,446.5 880.8,446.5 C882.7,446.5 884.7,490.5 886.6,490.5 C888.8,490.5 891.1,467.1 893.3,463.7 C894.2,462.3 895.2,462.3 896.1,460.8 C897.7,458.2 899.3,438.8 900.9,438.8 C902.8,438.8 904.8,451.7 906.7,461.8 C909.6,476.8 912.4,532.5 915.3,532.5 C917.8,532.5 920.4,492.4 922.9,482.8 C924.5,476.7 926.1,474.8 927.7,469.4 C929.6,463.0 931.5,444.5 933.4,444.5 C935.0,444.5 936.6,444.5 938.2,444.5 C939.8,444.5 941.4,438.8 943.0,438.8 C945.6,438.8 948.1,469.6 950.7,486.6 C953.2,503.3 955.8,540.2 958.3,540.2 C962.1,540.2 966.0,532.0 969.8,526.8 C973.0,522.5 976.2,520.0 979.4,511.5 C981.9,504.7 984.5,473.1 987.0,457.9 C989.6,442.5 992.1,423.8 994.7,417.8 C996.3,414.0 997.9,413.3 999.5,410.1 C1001.1,407.0 1002.6,397.7 1004.2,397.7 C1006.8,397.7 1009.3,398.0 1011.9,398.6 C1014.4,399.2 1017.0,420.1 1019.5,429.2 C1022.7,440.6 1025.9,459.8 1029.1,459.8 C1031.0,459.8 1032.9,457.4 1034.8,454.1 C1036.7,450.8 1038.7,429.4 1040.6,417.8 C1042.5,406.4 1044.4,385.2 1046.3,385.2 C1049.2,385.2 1052.1,422.5 1055.0,422.5 C1056.9,422.5 1058.8,368.0 1060.7,368.0 C1062.3,368.0 1063.9,390.0 1065.5,390.0 C1067.1,390.0 1068.6,377.6 1070.2,377.6 C1073.4,377.6 1076.6,400.5 1079.8,400.5 C1081.4,400.5 1083.0,398.3 1084.6,394.8 C1085.9,392.0 1087.1,355.6 1088.4,355.6 C1090.0,355.6 1091.6,421.0 1093.2,422.5 C1096.1,425.3 1098.9,426.4 1101.8,426.4 C1103.7,426.4 1105.6,419.7 1107.5,419.7 C1109.7,419.7 1112.0,435.0 1114.2,435.0 C1116.8,435.0 1119.3,396.2 1121.9,389.1 C1124.8,381.1 1127.6,373.7 1130.5,373.7 C1133.7,373.7 1136.9,376.6 1140.1,376.6 C1143.0,376.6 1145.8,356.5 1148.7,356.5 C1150.8,356.5 1152.9,364.8 1155.0,366.1 C1156.8,367.2 1158.5,366.9 1160.3,368.2 C1161.6,369.1 1162.8,373.8 1164.1,377.8 C1165.7,382.9 1167.3,398.8 1168.9,398.8 C1170.8,398.8 1172.8,360.8 1174.7,354.8 C1177.2,346.9 1179.8,340.4 1182.3,340.4 C1183.9,340.4 1185.5,368.3 1187.1,372.0 C1189.0,376.3 1190.9,375.6 1192.8,379.7 C1194.7,383.9 1196.7,401.9 1198.6,412.2 C1201.1,425.7 1203.7,450.5 1206.2,450.5 C1208.4,450.5 1210.7,425.0 1212.9,425.0 C1216.1,425.0 1219.3,440.0 1222.5,440.0 C1224.7,440.0 1227.0,436.6 1229.2,433.2 C1231.7,429.4 1234.3,410.0 1236.8,410.0 C1238.4,410.0 1240.0,412.9 1241.6,416.0 C1244.2,421.0 1246.7,460.0 1249.3,460.0 C1250.9,460.0 1252.5,452.0 1254.1,452.0 C1256.0,452.0 1257.9,503.2 1259.8,503.2 C1263.9,503.2 1268.1,448.1 1272.2,431.3 C1274.1,423.4 1276.1,422.3 1278.0,412.2 C1279.6,403.8 1281.2,355.8 1282.8,355.8 C1285.7,355.8 1288.5,395.0 1291.4,408.4 C1293.3,417.3 1295.2,430.4 1297.1,430.4 C1299.0,430.4 1300.9,415.2 1302.8,410.3 C1305.7,402.8 1308.6,395.0 1311.5,393.1 C1313.1,392.1 1314.6,392.2 1316.2,391.1 C1317.5,390.2 1318.8,385.4 1320.1,385.4 C1322.0,385.4 1323.9,391.1 1325.8,391.1 C1328.4,391.1 1330.9,380.6 1333.5,380.6 C1335.4,380.6 1337.3,415.1 1339.2,415.1 C1341.1,415.1 1343.1,387.3 1345.0,387.3 C1346.6,387.3 1348.1,394.0 1349.7,394.0 C1351.6,394.0 1353.6,381.6 1355.5,381.6 C1358.0,381.6 1360.6,413.1 1363.1,413.1 C1366.6,413.1 1370.1,373.9 1373.6,373.9 C1375.5,373.9 1377.5,378.1 1379.4,381.6 C1381.6,385.7 1383.9,401.7 1386.1,401.7 C1387.7,401.7 1389.3,372.0 1390.9,372.0 C1392.5,372.0 1394.0,479.5 1395.6,498.3 C1397.5,521.5 1399.5,542.0 1401.4,542.0 C1404.6,542.0 1407.7,509.2 1410.9,488.0 C1412.5,477.3 1414.1,450.6 1415.7,450.6 C1417.9,450.6 1420.2,472.0 1422.4,472.0 C1425.0,472.0 1427.5,419.5 1430.1,419.5 C1432.0,419.5 1433.9,449.0 1435.8,449.0 C1436.8,449.0 1437.7,440.5 1438.7,440.5 C1440.8,440.5 1442.9,453.1 1445.0,455.8 C1447.5,459.0 1449.9,459.7 1452.4,462.3 C1454.3,464.3 1456.3,469.9 1458.2,469.9 C1460.7,469.9 1463.3,464.2 1465.8,464.2 C1467.7,464.2 1469.7,498.6 1471.6,498.6 C1473.5,498.6 1475.4,484.3 1477.3,484.3 C1479.9,484.3 1482.4,507.2 1485.0,507.2 C1488.5,507.2 1492.0,455.6 1495.5,455.6 C1498.7,455.6 1501.8,483.3 1505.0,483.3 C1506.6,483.3 1508.2,480.4 1509.8,480.4 C1512.0,480.4 1514.3,495.0 1516.5,504.4 C1517.8,509.9 1519.1,523.5 1520.4,523.5 C1522.9,523.5 1525.5,510.1 1528.0,510.1 C1530.6,510.1 1533.1,546.5 1535.7,546.5 C1537.9,546.5 1540.2,538.0 1542.4,525.4 C1544.0,516.6 1545.5,440.6 1547.1,437.4 C1550.0,431.4 1552.9,428.8 1555.8,428.8 C1559.3,428.8 1562.8,561.8 1566.3,561.8 C1568.2,561.8 1570.1,480.0 1572.0,460.4 C1573.3,447.3 1574.5,431.7 1575.8,431.7 C1577.7,431.7 1579.7,468.8 1581.6,475.7 C1583.5,482.5 1585.4,485.4 1587.3,489.1 C1589.2,492.8 1591.2,494.2 1593.1,498.6 C1595.6,504.4 1598.2,517.8 1600.7,529.2 C1603.6,542.1 1606.4,573.2 1609.3,573.2 C1613.5,573.2 1617.6,557.9 1621.8,557.9 C1624.0,557.9 1626.3,577.1 1628.5,577.1 C1630.7,577.1 1633.0,557.9 1635.2,557.9 C1636.5,557.9 1637.7,562.8 1639.0,567.5 C1640.9,574.6 1642.8,611.9 1644.7,615.3 C1646.6,618.8 1648.6,618.0 1650.5,621.1 C1652.4,624.1 1654.3,644.0 1656.2,644.0 C1658.1,644.0 1660.0,485.2 1661.9,485.2 C1665.1,485.2 1668.3,594.3 1671.5,594.3 C1673.4,594.3 1675.3,591.0 1677.2,586.6 C1679.8,580.6 1682.3,496.7 1684.9,496.7 C1686.8,496.7 1688.7,600.0 1690.6,600.0 C1692.2,600.0 1693.8,580.9 1695.4,580.9 C1697.6,580.9 1699.9,614.0 1702.1,632.5 C1704.2,650.2 1706.4,689.8 1708.5,689.8 C1711.9,689.8 1715.4,603.7 1718.8,603.7 C1720.0,603.7 1721.1,612.3 1722.3,612.3 C1724.3,612.3 1726.3,569.3 1728.3,569.3 C1731.5,569.3 1734.6,660.5 1737.8,660.5 C1740.7,660.5 1743.5,591.7 1746.4,591.7 C1748.1,591.7 1749.8,636.4 1751.5,636.4 C1752.9,636.4 1754.4,627.8 1755.8,627.8 C1759.0,627.8 1762.1,732.9 1765.3,732.9 C1768.5,732.9 1771.6,657.1 1774.8,657.1 C1777.9,657.1 1781.1,767.3 1784.2,767.3 C1787.4,767.3 1790.5,677.8 1793.7,677.8 C1795.7,677.8 1797.7,722.5 1799.7,722.5 C1804.3,722.5 1808.9,626.1 1813.5,619.2 C1814.7,617.5 1815.8,617.7 1817.0,615.8 C1818.7,613.0 1820.4,574.4 1822.1,574.4 C1823.8,574.4 1825.6,693.3 1827.3,693.3 C1828.7,693.3 1830.2,691.8 1831.6,689.8 C1833.6,687.0 1835.6,653.6 1837.6,653.6 C1840.5,653.6 1843.3,689.8 1846.2,689.8 C1848.2,689.8 1850.3,653.6 1852.3,653.6 C1853.4,653.6 1854.6,659.4 1855.7,662.3" fill="none" stroke="#4A80CC" stroke-width="2.8" stroke-linejoin="round" stroke-linecap="round"/>
<path d="M134.8,695.9 C136.2,707.1 137.7,729.6 139.1,729.6 C140.5,729.6 141.9,696.5 143.3,694.2 C145.3,691.0 147.2,692.0 149.2,689.1 C152.0,685.0 154.8,637.7 157.6,626.6 C159.6,618.7 161.6,617.0 163.6,609.8 C165.8,601.8 168.1,576.0 170.3,576.0 C171.4,576.0 172.6,577.5 173.7,579.4 C176.5,584.1 179.3,721.2 182.1,721.2 C183.5,721.2 184.9,720.5 186.3,719.5 C188.0,718.3 189.7,701.0 191.4,701.0 C194.2,701.0 197.1,741.5 199.9,741.5 C203.3,741.5 206.6,641.8 210.0,641.8 C211.7,641.8 213.4,739.8 215.1,739.8 C216.8,739.8 218.4,697.6 220.1,697.6 C222.9,697.6 225.8,697.6 228.6,697.6 C231.7,697.6 234.8,753.3 237.9,753.3 C239.7,753.3 241.6,724.6 243.4,724.6 C245.2,724.6 247.0,760.9 248.8,760.9 C253.0,760.9 257.3,711.1 261.5,711.1 C264.9,711.1 268.2,753.3 271.6,753.3 C273.0,753.3 274.4,749.3 275.8,744.9 C279.2,734.2 282.6,614.2 286.0,613.1 C287.4,612.6 288.8,612.6 290.2,612.3" fill="none" stroke="#EE1C1C" stroke-width="3" stroke-linejoin="round" stroke-linecap="round"/>
<path d="M299.3,739.1 C302.8,712.9 306.4,660.6 309.9,660.6 C312.8,660.6 315.6,740.0 318.5,740.0 C320.1,740.0 321.7,710.4 323.3,710.4 C325.2,710.4 327.1,764.9 329.0,764.9 C331.6,764.9 334.1,746.7 336.7,746.7 C338.6,746.7 340.5,790.7 342.4,790.7 C344.0,790.7 345.6,774.6 347.2,773.5 C348.8,772.4 350.4,772.7 352.0,771.6 C355.2,769.4 358.3,702.7 361.5,702.7 C363.4,702.7 365.4,721.5 367.3,733.3 C369.8,748.7 372.4,788.8 374.9,788.8 C378.4,788.8 381.9,639.8 385.4,639.8 C387.6,639.8 389.9,671.6 392.1,697.0 C395.9,740.7 399.8,915.1 403.6,915.1 C406.1,915.1 408.5,844.4 411.0,800.0 C413.6,752.6 416.3,630.6 418.9,630.6 C420.8,630.6 422.8,678.5 424.7,678.5 C429.2,678.5 433.6,617.2 438.1,617.2 C441.3,617.2 444.4,674.6 447.6,674.6 C453.3,674.6 459.1,569.4 464.8,569.4 C468.6,569.4 472.5,655.5 476.3,655.5 C479.8,655.5 483.3,572.3 486.8,572.3 C491.0,572.3 495.1,642.2 499.3,655.5 C500.6,659.5 501.8,659.9 503.1,664.4 C507.6,680.2 512.0,850.0 516.5,850.0 C518.4,850.0 520.3,786.8 522.2,775.4 C523.8,765.8 525.4,765.1 527.0,756.3 C528.6,747.5 530.2,715.3 531.8,714.2 C533.7,712.9 535.6,713.5 537.5,712.3 C539.4,711.1 541.4,699.6 543.3,687.4 C545.9,671.3 548.4,588.5 551.0,588.5 C552.3,588.5 553.5,589.8 554.8,590.5" fill="none" stroke="#EE1C1C" stroke-width="3" stroke-linejoin="round" stroke-linecap="round"/>
<path d="M569.1,577.1 C574.1,592.5 579.1,623.4 584.1,623.4 C586.7,623.4 589.2,616.3 591.8,609.3 C594.0,603.2 596.3,574.9 598.5,574.9 C600.4,574.9 602.3,599.8 604.2,599.8 C607.1,599.8 609.9,529.0 612.8,529.0 C616.6,529.0 620.5,597.0 624.3,597.0 C626.5,597.0 628.8,563.4 631.0,563.4 C632.6,563.4 634.2,570.1 635.8,570.1 C638.7,570.1 641.5,550.3 644.4,532.8 C646.3,521.2 648.2,479.2 650.1,479.2 C651.7,479.2 653.3,526.1 654.9,526.1 C656.2,526.1 657.4,519.4 658.7,519.4 C660.3,519.4 661.9,541.4 663.5,541.4 C666.4,541.4 669.2,489.6 672.1,481.1 C674.0,475.4 676.0,469.7 677.9,469.7 C680.1,469.7 682.4,496.5 684.6,496.5 C686.8,496.5 689.1,491.4 691.3,483.1 C693.2,476.1 695.1,374.0 697.0,374.0 C698.9,374.0 700.9,498.4 702.8,498.4 C704.4,498.4 705.9,463.9 707.5,463.9 C709.1,463.9 710.7,497.7 712.3,504.1 C715.2,515.6 718.0,525.2 720.9,525.2 C724.4,525.2 728.0,485.0 731.5,485.0 C735.0,485.0 738.5,498.4 742.0,498.4 C744.2,498.4 746.5,479.9 748.7,475.4 C750.9,470.9 753.2,470.2 755.4,465.8 C757.9,460.8 760.5,441.0 763.0,441.0 C765.9,441.0 768.7,550.0 771.6,550.0 C773.5,550.0 775.5,506.0 777.4,506.0 C779.3,506.0 781.2,521.3 783.1,521.3 C784.7,521.3 786.3,492.7 787.9,490.7 C789.8,488.4 791.7,489.1 793.6,486.9 C796.2,484.0 798.7,446.7 801.3,446.7 C803.2,446.7 805.1,496.5 807.0,496.5 C810.5,496.5 814.0,441.7 817.5,429.5 C820.1,420.5 822.6,412.1 825.2,410.4 C826.8,409.3 828.4,409.6 830.0,408.4 C831.6,407.2 833.2,385.5 834.8,385.5 C836.7,385.5 838.6,400.8 840.5,400.8 C844.3,400.8 848.2,366.0 852.0,362.5 C854.2,360.5 856.5,361.0 858.7,358.7 C860.0,357.4 861.2,345.3 862.5,345.3 C864.1,345.3 865.8,351.0 867.4,356.5 C869.0,361.9 870.6,387.1 872.2,387.1 C875.1,387.1 877.9,342.2 880.8,342.2 C883.0,342.2 885.3,385.2 887.5,385.2 C890.1,385.2 892.6,367.9 895.2,356.5 C897.4,346.6 899.7,320.2 901.9,320.2 C903.5,320.2 905.1,338.7 906.7,352.7 C909.6,377.8 912.4,469.0 915.3,469.0 C917.2,469.0 919.1,416.3 921.0,404.4 C922.6,394.4 924.2,389.2 925.8,383.3 C928.3,373.9 930.9,359.4 933.4,359.4 C935.3,359.4 937.3,362.3 939.2,362.3 C942.1,362.3 944.9,360.4 947.8,360.4 C949.4,360.4 951.0,416.6 952.6,423.5 C954.2,430.4 955.8,435.9 957.4,435.9 C958.7,435.9 959.9,428.3 961.2,428.3 C963.1,428.3 965.0,459.8 966.9,459.8 C968.5,459.8 970.1,430.2 971.7,430.2 C973.3,430.2 974.9,452.2 976.5,452.2 C980.0,452.2 983.5,379.9 987.0,356.5 C989.9,337.4 992.7,310.6 995.6,310.6 C998.2,310.6 1000.7,343.1 1003.3,343.1 C1005.2,343.1 1007.1,318.3 1009.0,318.3 C1010.6,318.3 1012.2,322.3 1013.8,325.9 C1015.7,330.2 1017.6,343.7 1019.5,348.9 C1023.0,358.6 1026.6,369.9 1030.1,369.9 C1031.7,369.9 1033.2,364.9 1034.8,360.4 C1037.0,354.0 1039.3,324.0 1041.5,324.0 C1043.1,324.0 1044.7,330.7 1046.3,330.7 C1047.6,330.7 1048.9,327.3 1050.2,326.9 C1052.1,326.3 1054.0,326.6 1055.9,325.9 C1057.5,325.3 1059.1,286.7 1060.7,286.7 C1062.3,286.7 1063.9,345.0 1065.5,345.0 C1067.4,345.0 1069.3,342.7 1071.2,339.3 C1072.5,337.1 1073.7,322.1 1075.0,318.3 C1076.3,314.5 1077.5,314.1 1078.8,310.6 C1080.7,305.2 1082.7,281.9 1084.6,281.9 C1086.2,281.9 1087.8,283.3 1089.4,285.7 C1091.0,288.1 1092.6,377.6 1094.2,377.6 C1095.8,377.6 1097.3,347.9 1098.9,341.2 C1101.8,328.9 1104.6,317.3 1107.5,317.3 C1109.4,317.3 1111.4,329.7 1113.3,329.7 C1117.1,329.7 1121.0,315.1 1124.8,304.9 C1127.0,299.0 1129.3,282.9 1131.5,282.9 C1134.4,282.9 1137.2,287.2 1140.1,290.5 C1142.6,293.4 1145.2,298.3 1147.7,303.0 C1149.6,306.6 1151.6,315.4 1153.5,315.4 C1155.4,315.4 1157.4,302.1 1159.3,299.3 C1161.2,296.5 1163.2,296.5 1165.1,293.6 C1166.7,291.2 1168.3,279.2 1169.9,279.2 C1172.4,279.2 1175.0,286.9 1177.5,286.9 C1179.4,286.9 1181.4,277.3 1183.3,277.3 C1184.9,277.3 1186.4,280.2 1188.0,280.2 C1189.3,280.2 1190.6,262.0 1191.9,262.0 C1193.5,262.0 1195.1,269.2 1196.7,278.3 C1198.6,289.1 1200.5,391.1 1202.4,391.1 C1204.3,391.1 1206.2,370.4 1208.1,362.4 C1212.6,343.5 1217.0,315.6 1221.5,315.6 C1223.1,315.6 1224.7,315.9 1226.3,316.5 C1227.6,316.9 1228.8,323.3 1230.1,324.2 C1231.7,325.3 1233.3,325.0 1234.9,326.1 C1236.5,327.2 1238.1,340.3 1239.7,341.4 C1242.6,343.3 1245.4,344.3 1248.3,344.3 C1249.9,344.3 1251.5,320.4 1253.1,320.4 C1255.3,320.4 1257.6,412.2 1259.8,412.2 C1262.3,412.2 1264.9,369.9 1267.4,362.4 C1269.3,356.7 1271.3,355.9 1273.2,351.0 C1275.7,344.5 1278.3,322.3 1280.8,322.3 C1282.1,322.3 1283.4,326.3 1284.7,329.9 C1287.6,337.9 1290.4,383.5 1293.3,383.5 C1296.8,383.5 1300.3,378.5 1303.8,373.9 C1306.0,371.0 1308.3,359.6 1310.5,359.6 C1312.4,359.6 1314.3,380.6 1316.2,380.6 C1319.1,380.6 1321.9,379.3 1324.8,377.8 C1328.0,376.2 1331.2,365.3 1334.4,365.3 C1336.3,365.3 1338.3,382.5 1340.2,382.5 C1341.8,382.5 1343.4,374.9 1345.0,374.9 C1347.2,374.9 1349.4,385.4 1351.6,385.4 C1354.2,385.4 1356.7,372.0 1359.3,372.0 C1362.2,372.0 1365.0,372.9 1367.9,373.9 C1371.7,375.2 1375.6,383.5 1379.4,383.5 C1382.3,383.5 1385.1,356.7 1388.0,356.7 C1389.3,356.7 1390.5,358.1 1391.8,360.5 C1393.1,362.9 1394.3,452.2 1395.6,469.6 C1397.5,496.1 1399.5,519.3 1401.4,519.3 C1403.3,519.3 1405.2,500.8 1407.1,492.5 C1409.7,481.2 1412.2,461.0 1414.8,461.0 C1417.3,461.0 1419.9,488.5 1422.4,488.5 C1425.0,488.5 1427.5,460.5 1430.1,460.5 C1431.4,460.5 1432.6,477.0 1433.9,477.0 C1435.5,477.0 1437.1,444.0 1438.7,444.0 C1440.5,444.0 1442.2,486.0 1444.0,486.0 C1446.8,486.0 1449.6,460.4 1452.4,460.4 C1455.3,460.4 1458.1,473.0 1461.0,479.5 C1464.5,487.6 1468.1,504.4 1471.6,504.4 C1473.5,504.4 1475.4,494.8 1477.3,494.8 C1480.2,494.8 1483.0,519.7 1485.9,519.7 C1488.8,519.7 1491.6,481.4 1494.5,481.4 C1496.7,481.4 1499.0,489.8 1501.2,494.8 C1504.1,501.2 1506.9,516.8 1509.8,516.8 C1512.0,516.8 1514.3,515.8 1516.5,515.8 C1519.1,515.8 1521.6,586.6 1524.2,586.6 C1525.8,586.6 1527.4,515.8 1529.0,515.8 C1530.9,515.8 1532.8,547.4 1534.7,547.4 C1537.6,547.4 1540.4,528.6 1543.3,510.1 C1544.9,499.8 1546.5,462.4 1548.1,458.4 C1549.7,454.4 1551.3,455.4 1552.9,451.7 C1554.2,448.8 1555.4,430.7 1556.7,430.7 C1559.9,430.7 1563.1,552.2 1566.3,552.2 C1569.8,552.2 1573.3,482.4 1576.8,482.4 C1578.4,482.4 1580.0,515.8 1581.6,519.7 C1582.9,522.8 1584.1,522.7 1585.4,525.4 C1587.0,528.8 1588.6,544.5 1590.2,544.5 C1591.8,544.5 1593.4,531.1 1595.0,531.1 C1596.6,531.1 1598.2,542.6 1599.8,548.4 C1601.4,554.1 1602.9,558.1 1604.5,565.6 C1606.1,573.3 1607.7,599.1 1609.3,599.1 C1610.9,599.1 1612.5,596.2 1614.1,596.2 C1616.7,596.2 1619.2,596.2 1621.8,596.2 C1624.0,596.2 1626.3,623.0 1628.5,623.0 C1631.4,623.0 1634.2,591.4 1637.1,591.4 C1638.5,591.4 1639.9,621.0 1641.3,636.4 C1643.0,655.4 1644.8,695.0 1646.5,695.0 C1648.2,695.0 1650.0,641.6 1651.7,641.6 C1653.1,641.6 1654.6,689.8 1656.0,689.8 C1658.0,689.8 1660.0,533.0 1662.0,533.0 C1664.0,533.0 1666.0,608.3 1668.0,620.9 C1670.0,633.5 1672.0,645.0 1674.0,645.0 C1676.0,645.0 1678.1,605.2 1680.1,591.7 C1681.8,580.4 1683.5,564.1 1685.2,564.1 C1686.9,564.1 1688.7,587.0 1690.4,602.0 C1693.3,626.9 1696.1,698.4 1699.0,698.4 C1700.7,698.4 1702.5,667.4 1704.2,667.4 C1705.9,667.4 1707.6,705.3 1709.3,705.3 C1712.5,705.3 1715.6,668.0 1718.8,664.0 C1720.2,662.2 1721.7,662.4 1723.1,660.5 C1726.0,656.7 1728.8,608.0 1731.7,608.0 C1733.7,608.0 1735.8,677.8 1737.8,677.8 C1741.8,677.8 1745.8,645.0 1749.8,645.0 C1751.8,645.0 1753.8,650.3 1755.8,657.1 C1758.7,666.9 1761.5,786.2 1764.4,786.2 C1767.6,786.2 1770.7,698.4 1773.9,698.4 C1777.1,698.4 1780.2,801.7 1783.4,801.7 C1786.8,801.7 1790.3,707.0 1793.7,707.0 C1795.7,707.0 1797.7,741.5 1799.7,741.5 C1804.0,741.5 1808.4,664.5 1812.7,663.1 C1814.1,662.7 1815.6,662.8 1817.0,662.3 C1818.7,661.7 1820.4,626.1 1822.1,626.1 C1823.8,626.1 1825.6,703.0 1827.3,712.2 C1831.6,735.1 1835.9,748.4 1840.2,748.4 C1842.8,748.4 1845.4,720.8 1848.0,720.8 C1850.6,720.8 1853.1,731.1 1855.7,736.3" fill="none" stroke="#EE1C1C" stroke-width="3" stroke-linejoin="round" stroke-linecap="round"/>
<line x1="134.0" y1="128.0" x2="134.0" y2="985.5" stroke="#BFBFBF" stroke-width="2.2"/>
<line x1="133.0" y1="984.5" x2="1856.5" y2="984.5" stroke="#BFBFBF" stroke-width="2.2"/>
<line x1="1855.5" y1="128.0" x2="1855.5" y2="985.5" stroke="#BFBFBF" stroke-width="2.2"/>
<line x1="1844.5" y1="128.0" x2="1855.5" y2="128.0" stroke="#BFBFBF" stroke-width="2"/>
<line x1="1844.5" y1="189.2" x2="1855.5" y2="189.2" stroke="#BFBFBF" stroke-width="2"/>
<line x1="1844.5" y1="250.4" x2="1855.5" y2="250.4" stroke="#BFBFBF" stroke-width="2"/>
<line x1="1844.5" y1="311.5" x2="1855.5" y2="311.5" stroke="#BFBFBF" stroke-width="2"/>
<line x1="1844.5" y1="372.7" x2="1855.5" y2="372.7" stroke="#BFBFBF" stroke-width="2"/>
<line x1="1844.5" y1="433.9" x2="1855.5" y2="433.9" stroke="#BFBFBF" stroke-width="2"/>
<line x1="1844.5" y1="495.1" x2="1855.5" y2="495.1" stroke="#BFBFBF" stroke-width="2"/>
<line x1="1844.5" y1="556.2" x2="1855.5" y2="556.2" stroke="#BFBFBF" stroke-width="2"/>
<line x1="1844.5" y1="617.4" x2="1855.5" y2="617.4" stroke="#BFBFBF" stroke-width="2"/>
<line x1="1844.5" y1="678.6" x2="1855.5" y2="678.6" stroke="#BFBFBF" stroke-width="2"/>
<line x1="1844.5" y1="739.8" x2="1855.5" y2="739.8" stroke="#BFBFBF" stroke-width="2"/>
<line x1="1844.5" y1="801.0" x2="1855.5" y2="801.0" stroke="#BFBFBF" stroke-width="2"/>
<line x1="1844.5" y1="862.1" x2="1855.5" y2="862.1" stroke="#BFBFBF" stroke-width="2"/>
<line x1="1844.5" y1="923.3" x2="1855.5" y2="923.3" stroke="#BFBFBF" stroke-width="2"/>
<line x1="1844.5" y1="984.5" x2="1855.5" y2="984.5" stroke="#BFBFBF" stroke-width="2"/>
<text x="94.25" y="996.10" font-family="'Liberation Serif','Times New Roman',serif" font-size="35" stroke="#000" stroke-width="0.55" fill="#000" textLength="15.75" lengthAdjust="spacingAndGlyphs" xml:space="preserve" >0</text>
<text x="94.28" y="873.74" font-family="'Liberation Serif','Times New Roman',serif" font-size="35" stroke="#000" stroke-width="0.55" fill="#000" textLength="15.75" lengthAdjust="spacingAndGlyphs" xml:space="preserve" >5</text>
<text x="78.50" y="751.39" font-family="'Liberation Serif','Times New Roman',serif" font-size="35" stroke="#000" stroke-width="0.55" fill="#000" textLength="31.50" lengthAdjust="spacingAndGlyphs" xml:space="preserve" >10</text>
<text x="78.53" y="629.03" font-family="'Liberation Serif','Times New Roman',serif" font-size="35" stroke="#000" stroke-width="0.55" fill="#000" textLength="31.50" lengthAdjust="spacingAndGlyphs" xml:space="preserve" >15</text>
<text x="78.50" y="506.67" font-family="'Liberation Serif','Times New Roman',serif" font-size="35" stroke="#000" stroke-width="0.55" fill="#000" textLength="31.50" lengthAdjust="spacingAndGlyphs" xml:space="preserve" >20</text>
<text x="78.53" y="384.31" font-family="'Liberation Serif','Times New Roman',serif" font-size="35" stroke="#000" stroke-width="0.55" fill="#000" textLength="31.50" lengthAdjust="spacingAndGlyphs" xml:space="preserve" >25</text>
<text x="78.50" y="261.96" font-family="'Liberation Serif','Times New Roman',serif" font-size="35" stroke="#000" stroke-width="0.55" fill="#000" textLength="31.50" lengthAdjust="spacingAndGlyphs" xml:space="preserve" >30</text>
<text x="78.53" y="139.60" font-family="'Liberation Serif','Times New Roman',serif" font-size="35" stroke="#000" stroke-width="0.55" fill="#000" textLength="31.50" lengthAdjust="spacingAndGlyphs" xml:space="preserve" >35</text>
<text x="1880.43" y="139.60" font-family="'Liberation Serif','Times New Roman',serif" font-size="35" stroke="#000" stroke-width="0.55" fill="#000" textLength="31.50" lengthAdjust="spacingAndGlyphs" xml:space="preserve" >10</text>
<text x="1882.18" y="200.78" font-family="'Liberation Serif','Times New Roman',serif" font-size="35" stroke="#000" stroke-width="0.55" fill="#000" textLength="15.75" lengthAdjust="spacingAndGlyphs" xml:space="preserve" >9</text>
<text x="1882.00" y="261.96" font-family="'Liberation Serif','Times New Roman',serif" font-size="35" stroke="#000" stroke-width="0.55" fill="#000" textLength="15.75" lengthAdjust="spacingAndGlyphs" xml:space="preserve" >8</text>
<text x="1881.12" y="323.14" font-family="'Liberation Serif','Times New Roman',serif" font-size="35" stroke="#000" stroke-width="0.55" fill="#000" textLength="15.75" lengthAdjust="spacingAndGlyphs" xml:space="preserve" >7</text>
<text x="1881.85" y="384.31" font-family="'Liberation Serif','Times New Roman',serif" font-size="35" stroke="#000" stroke-width="0.55" fill="#000" textLength="15.75" lengthAdjust="spacingAndGlyphs" xml:space="preserve" >6</text>
<text x="1881.37" y="445.49" font-family="'Liberation Serif','Times New Roman',serif" font-size="35" stroke="#000" stroke-width="0.55" fill="#000" textLength="15.75" lengthAdjust="spacingAndGlyphs" xml:space="preserve" >5</text>
<text x="1882.58" y="506.67" font-family="'Liberation Serif','Times New Roman',serif" font-size="35" stroke="#000" stroke-width="0.55" fill="#000" textLength="15.75" lengthAdjust="spacingAndGlyphs" xml:space="preserve" >4</text>
<text x="1881.69" y="567.85" font-family="'Liberation Serif','Times New Roman',serif" font-size="35" stroke="#000" stroke-width="0.55" fill="#000" textLength="15.75" lengthAdjust="spacingAndGlyphs" xml:space="preserve" >3</text>
<text x="1881.82" y="629.03" font-family="'Liberation Serif','Times New Roman',serif" font-size="35" stroke="#000" stroke-width="0.55" fill="#000" textLength="15.75" lengthAdjust="spacingAndGlyphs" xml:space="preserve" >2</text>
<text x="1880.43" y="690.21" font-family="'Liberation Serif','Times New Roman',serif" font-size="35" stroke="#000" stroke-width="0.55" fill="#000" textLength="15.75" lengthAdjust="spacingAndGlyphs" xml:space="preserve" >1</text>
<text x="1882.00" y="751.39" font-family="'Liberation Serif','Times New Roman',serif" font-size="35" stroke="#000" stroke-width="0.55" fill="#000" textLength="15.75" lengthAdjust="spacingAndGlyphs" xml:space="preserve" >0</text>
<text x="1875.27" y="812.56" font-family="'Liberation Serif','Times New Roman',serif" font-size="35" stroke="#000" stroke-width="0.55" fill="#000" textLength="32.79" lengthAdjust="spacingAndGlyphs" xml:space="preserve" >−1</text>
<text x="1875.15" y="873.74" font-family="'Liberation Serif','Times New Roman',serif" font-size="35" stroke="#000" stroke-width="0.55" fill="#000" textLength="35.17" lengthAdjust="spacingAndGlyphs" xml:space="preserve" >−2</text>
<text x="1875.18" y="934.92" font-family="'Liberation Serif','Times New Roman',serif" font-size="35" stroke="#000" stroke-width="0.55" fill="#000" textLength="34.59" lengthAdjust="spacingAndGlyphs" xml:space="preserve" >−3</text>
<text x="1875.22" y="996.10" font-family="'Liberation Serif','Times New Roman',serif" font-size="35" stroke="#000" stroke-width="0.55" fill="#000" textLength="33.78" lengthAdjust="spacingAndGlyphs" xml:space="preserve" >−4</text>
<text x="183.78" y="1035.80" font-family="'Liberation Serif','Times New Roman',serif" font-size="35" stroke="#000" stroke-width="0.55" fill="#000" textLength="45.43" lengthAdjust="spacingAndGlyphs" xml:space="preserve" >Jan</text>
<text x="315.60" y="1035.80" font-family="'Liberation Serif','Times New Roman',serif" font-size="35" stroke="#000" stroke-width="0.55" fill="#000" textLength="52.23" lengthAdjust="spacingAndGlyphs" xml:space="preserve" >Feb</text>
<text x="447.58" y="1035.80" font-family="'Liberation Serif','Times New Roman',serif" font-size="35" stroke="#000" stroke-width="0.55" fill="#000" textLength="58.73" lengthAdjust="spacingAndGlyphs" xml:space="preserve" >Mar</text>
<text x="603.26" y="1035.80" font-family="'Liberation Serif','Times New Roman',serif" font-size="35" stroke="#000" stroke-width="0.55" fill="#000" textLength="53.94" lengthAdjust="spacingAndGlyphs" xml:space="preserve" >Apr</text>
<text x="741.94" y="1035.80" font-family="'Liberation Serif','Times New Roman',serif" font-size="35" stroke="#000" stroke-width="0.55" fill="#000" textLength="67.20" lengthAdjust="spacingAndGlyphs" xml:space="preserve" >May</text>
<text x="895.54" y="1035.80" font-family="'Liberation Serif','Times New Roman',serif" font-size="35" stroke="#000" stroke-width="0.55" fill="#000" textLength="50.10" lengthAdjust="spacingAndGlyphs" xml:space="preserve" >Jun</text>
<text x="1038.28" y="1035.80" font-family="'Liberation Serif','Times New Roman',serif" font-size="35" stroke="#000" stroke-width="0.55" fill="#000" textLength="39.90" lengthAdjust="spacingAndGlyphs" xml:space="preserve" >Jul</text>
<text x="1184.44" y="1035.80" font-family="'Liberation Serif','Times New Roman',serif" font-size="35" stroke="#000" stroke-width="0.55" fill="#000" textLength="64.28" lengthAdjust="spacingAndGlyphs" xml:space="preserve" >Aug</text>
<text x="1331.63" y="1035.80" font-family="'Liberation Serif','Times New Roman',serif" font-size="35" stroke="#000" stroke-width="0.55" fill="#000" textLength="53.15" lengthAdjust="spacingAndGlyphs" xml:space="preserve" >Sep</text>
<text x="1470.37" y="1035.80" font-family="'Liberation Serif','Times New Roman',serif" font-size="35" stroke="#000" stroke-width="0.55" fill="#000" textLength="50.44" lengthAdjust="spacingAndGlyphs" xml:space="preserve" >Oct</text>
<text x="1617.80" y="1035.80" font-family="'Liberation Serif','Times New Roman',serif" font-size="35" stroke="#000" stroke-width="0.55" fill="#000" textLength="59.50" lengthAdjust="spacingAndGlyphs" xml:space="preserve" >Nov</text>
<text x="1755.46" y="1035.80" font-family="'Liberation Serif','Times New Roman',serif" font-size="35" stroke="#000" stroke-width="0.55" fill="#000" textLength="57.84" lengthAdjust="spacingAndGlyphs" xml:space="preserve" >Dec</text>
<rect x="161" y="935.5" width="67" height="15" fill="#FFF2CC" stroke="#FFC000" stroke-width="2.4" stroke-dasharray="5 3"/>
<text x="233.78" y="955.50" font-family="'Liberation Serif','Times New Roman',serif" font-size="36" stroke="#000" stroke-width="0.55" fill="#000" textLength="148.37" lengthAdjust="spacingAndGlyphs" xml:space="preserve" >Differences</text>
<line x1="437" y1="943" x2="504.5" y2="943" stroke="#4A7FCB" stroke-width="2.6"/>
<text x="512.09" y="955.50" font-family="'Liberation Serif','Times New Roman',serif" font-size="36" stroke="#000" stroke-width="0.55" fill="#000" textLength="179.38" lengthAdjust="spacingAndGlyphs" xml:space="preserve" >Rural location</text>
<line x1="747" y1="943" x2="813" y2="943" stroke="#F21818" stroke-width="2.6"/>
<text x="822.34" y="955.50" font-family="'Liberation Serif','Times New Roman',serif" font-size="36" stroke="#000" stroke-width="0.55" fill="#000" textLength="187.74" lengthAdjust="spacingAndGlyphs" xml:space="preserve" >Urban location</text>
<g transform="translate(39,685) rotate(-90)">
<text x="-0.51" y="0.00" font-family="'Liberation Serif','Times New Roman',serif" font-size="36" font-weight="bold" fill="#000" textLength="185.56" lengthAdjust="spacingAndGlyphs" xml:space="preserve" >Temperature</text>
<text x="207.22" y="0.00" font-family="'Liberation Serif','Times New Roman',serif" font-size="36" stroke="#000" stroke-width="0.55" fill="#000" textLength="57.97" lengthAdjust="spacingAndGlyphs" xml:space="preserve" >[°C]</text>
</g>
<g transform="translate(1932.3,336) rotate(90)">
<text x="-0.52" y="0.00" font-family="'Liberation Serif','Times New Roman',serif" font-size="36" font-weight="bold" fill="#000" textLength="187.07" lengthAdjust="spacingAndGlyphs" xml:space="preserve" >Temperature</text>
<text x="206.90" y="0.00" font-family="'Liberation Serif','Times New Roman',serif" font-size="36" font-weight="bold" fill="#000" textLength="165.34" lengthAdjust="spacingAndGlyphs" xml:space="preserve" >Differences</text>
<text x="386.54" y="0.00" font-family="'Liberation Serif','Times New Roman',serif" font-size="36" stroke="#000" stroke-width="0.55" fill="#000" textLength="57.53" lengthAdjust="spacingAndGlyphs" xml:space="preserve" >[°C]</text>
</g>
<text x="103.22" y="49.60" font-family="'Liberation Serif','Times New Roman',serif" font-size="35.3" font-weight="bold" fill="#000" textLength="44.45" lengthAdjust="spacingAndGlyphs" xml:space="preserve" >(a)</text>
<text x="209.47" y="55.40" font-family="'Liberation Serif','Times New Roman',serif" font-size="43" font-weight="bold" fill="#000" textLength="94.03" lengthAdjust="spacingAndGlyphs" xml:space="preserve" >Daily</text>
<text x="313.67" y="55.40" font-family="'Liberation Serif','Times New Roman',serif" font-size="43" font-weight="bold" fill="#000" textLength="243.41" lengthAdjust="spacingAndGlyphs" xml:space="preserve" >Temperatures</text>
<text x="573.95" y="55.40" font-family="'Liberation Serif','Times New Roman',serif" font-size="43" font-weight="bold" fill="#000" textLength="62.59" lengthAdjust="spacingAndGlyphs" xml:space="preserve" >and</text>
<text x="652.28" y="55.40" font-family="'Liberation Serif','Times New Roman',serif" font-size="43" font-weight="bold" fill="#000" textLength="247.25" lengthAdjust="spacingAndGlyphs" xml:space="preserve" >Temperauture</text>
<text x="920.17" y="55.40" font-family="'Liberation Serif','Times New Roman',serif" font-size="43" font-weight="bold" fill="#000" textLength="201.96" lengthAdjust="spacingAndGlyphs" xml:space="preserve" >Differences</text>
<text x="1129.56" y="55.40" font-family="'Liberation Serif','Times New Roman',serif" font-size="43" font-weight="bold" fill="#000" textLength="37.99" lengthAdjust="spacingAndGlyphs" xml:space="preserve" >of</text>
<text x="1174.74" y="55.40" font-family="'Liberation Serif','Times New Roman',serif" font-size="43" font-weight="bold" fill="#000" textLength="106.74" lengthAdjust="spacingAndGlyphs" xml:space="preserve" >Urban</text>
<text x="1301.67" y="55.40" font-family="'Liberation Serif','Times New Roman',serif" font-size="43" font-weight="bold" fill="#000" textLength="61.35" lengthAdjust="spacingAndGlyphs" xml:space="preserve" >and</text>
<text x="1378.81" y="55.40" font-family="'Liberation Serif','Times New Roman',serif" font-size="43" font-weight="bold" fill="#000" textLength="101.59" lengthAdjust="spacingAndGlyphs" xml:space="preserve" >Rural</text>
<text x="1494.50" y="55.40" font-family="'Liberation Serif','Times New Roman',serif" font-size="43" font-weight="bold" fill="#000" textLength="154.90" lengthAdjust="spacingAndGlyphs" xml:space="preserve" >locations</text>
<text x="1665.91" y="55.40" font-family="'Liberation Serif','Times New Roman',serif" font-size="43" font-weight="bold" fill="#000" textLength="29.93" lengthAdjust="spacingAndGlyphs" xml:space="preserve" >in</text>
<text x="1708.80" y="55.40" font-family="'Liberation Serif','Times New Roman',serif" font-size="43" font-weight="bold" fill="#000" textLength="85.93" lengthAdjust="spacingAndGlyphs" xml:space="preserve" >2018</text>
</g>
<g id="chartB">
<line x1="134.0" y1="1945.6" x2="1856.0" y2="1945.6" stroke="#E3E3E3" stroke-width="1.8"/>
<line x1="134.0" y1="1821.2" x2="1856.0" y2="1821.2" stroke="#E3E3E3" stroke-width="1.8"/>
<line x1="134.0" y1="1696.8" x2="1856.0" y2="1696.8" stroke="#E3E3E3" stroke-width="1.8"/>
<line x1="134.0" y1="1572.3" x2="1856.0" y2="1572.3" stroke="#E3E3E3" stroke-width="1.8"/>
<line x1="134.0" y1="1447.9" x2="1856.0" y2="1447.9" stroke="#E3E3E3" stroke-width="1.8"/>
<line x1="134.0" y1="1323.5" x2="1856.0" y2="1323.5" stroke="#E3E3E3" stroke-width="1.8"/>
<line x1="134.0" y1="1199.1" x2="1856.0" y2="1199.1" stroke="#E3E3E3" stroke-width="1.8"/>
<rect x="163.5" y="1836.1" width="42.2" height="233.9" fill="#1A73CC" stroke="#000" stroke-width="1.8"/>
<rect x="205.8" y="1778.9" width="42.2" height="291.1" fill="#E00000" stroke="#000" stroke-width="1.8"/>
<rect x="307.0" y="1866.0" width="42.2" height="204.0" fill="#1A73CC" stroke="#000" stroke-width="1.8"/>
<rect x="349.2" y="1818.7" width="42.2" height="251.3" fill="#E00000" stroke="#000" stroke-width="1.8"/>
<rect x="450.5" y="1815.0" width="42.2" height="255.0" fill="#1A73CC" stroke="#000" stroke-width="1.8"/>
<rect x="492.8" y="1744.0" width="42.2" height="326.0" fill="#E00000" stroke="#000" stroke-width="1.8"/>
<rect x="594.0" y="1629.6" width="42.2" height="440.4" fill="#1A73CC" stroke="#000" stroke-width="1.8"/>
<rect x="636.2" y="1547.5" width="42.2" height="522.5" fill="#E00000" stroke="#000" stroke-width="1.8"/>
<rect x="737.5" y="1629.6" width="42.2" height="440.4" fill="#1A73CC" stroke="#000" stroke-width="1.8"/>
<rect x="779.8" y="1547.5" width="42.2" height="522.5" fill="#E00000" stroke="#000" stroke-width="1.8"/>
<rect x="881.0" y="1624.6" width="42.2" height="445.4" fill="#1A73CC" stroke="#000" stroke-width="1.8"/>
<rect x="923.2" y="1460.4" width="42.2" height="609.6" fill="#E00000" stroke="#000" stroke-width="1.8"/>
<rect x="1024.5" y="1485.3" width="42.2" height="584.7" fill="#1A73CC" stroke="#000" stroke-width="1.8"/>
<rect x="1066.8" y="1400.7" width="42.2" height="669.3" fill="#E00000" stroke="#000" stroke-width="1.8"/>
<rect x="1168.0" y="1485.3" width="42.2" height="584.7" fill="#1A73CC" stroke="#000" stroke-width="1.8"/>
<rect x="1210.2" y="1395.7" width="42.2" height="674.3" fill="#E00000" stroke="#000" stroke-width="1.8"/>
<rect x="1311.5" y="1490.2" width="42.2" height="579.8" fill="#1A73CC" stroke="#000" stroke-width="1.8"/>
<rect x="1353.8" y="1470.3" width="42.2" height="599.7" fill="#E00000" stroke="#000" stroke-width="1.8"/>
<rect x="1455.0" y="1558.7" width="42.2" height="511.3" fill="#1A73CC" stroke="#000" stroke-width="1.8"/>
<rect x="1497.2" y="1572.3" width="42.2" height="497.7" fill="#E00000" stroke="#000" stroke-width="1.8"/>
<rect x="1598.5" y="1637.0" width="42.2" height="433.0" fill="#1A73CC" stroke="#000" stroke-width="1.8"/>
<rect x="1640.8" y="1676.9" width="42.2" height="393.1" fill="#E00000" stroke="#000" stroke-width="1.8"/>
<rect x="1742.0" y="1739.1" width="42.2" height="330.9" fill="#1A73CC" stroke="#000" stroke-width="1.8"/>
<rect x="1784.2" y="1781.4" width="42.2" height="288.6" fill="#E00000" stroke="#000" stroke-width="1.8"/>
<line x1="134.0" y1="1199.1" x2="134.0" y2="2071.0" stroke="#BFBFBF" stroke-width="2.2"/>
<line x1="133.0" y1="2070.0" x2="1857.0" y2="2070.0" stroke="#BFBFBF" stroke-width="2.2"/>
<line x1="1856.0" y1="1199.1" x2="1856.0" y2="2071.0" stroke="#BFBFBF" stroke-width="2.2"/>
<line x1="1856.0" y1="1199.1" x2="1866.0" y2="1199.1" stroke="#BFBFBF" stroke-width="2"/>
<line x1="1856.0" y1="1323.5" x2="1866.0" y2="1323.5" stroke="#BFBFBF" stroke-width="2"/>
<line x1="1856.0" y1="1447.9" x2="1866.0" y2="1447.9" stroke="#BFBFBF" stroke-width="2"/>
<line x1="1856.0" y1="1572.3" x2="1866.0" y2="1572.3" stroke="#BFBFBF" stroke-width="2"/>
<line x1="1856.0" y1="1696.8" x2="1866.0" y2="1696.8" stroke="#BFBFBF" stroke-width="2"/>
<line x1="1856.0" y1="1821.2" x2="1866.0" y2="1821.2" stroke="#BFBFBF" stroke-width="2"/>
<line x1="1856.0" y1="1945.6" x2="1866.0" y2="1945.6" stroke="#BFBFBF" stroke-width="2"/>
<line x1="1856.0" y1="2070.0" x2="1866.0" y2="2070.0" stroke="#BFBFBF" stroke-width="2"/>
<path d="M205.8,1679.3 L349.2,1703.0 L492.8,1647.6 L636.2,1624.0 L779.8,1624.6 L923.2,1414.3 L1066.8,1605.9 L1210.2,1593.5 L1353.8,1768.9 C1401.6,1807.3 1449.4,1830.4 1497.2,1854.8 C1545.1,1879.1 1592.9,1912.5 1640.8,1918.2 C1688.6,1924.0 1736.4,1924.8 1784.2,1928.2" fill="none" stroke="#FFC000" stroke-width="4.5" stroke-linejoin="round"/>
<circle cx="205.8" cy="1679.3" r="8.5" fill="#FFC000"/>
<circle cx="349.2" cy="1703.0" r="8.5" fill="#FFC000"/>
<circle cx="492.8" cy="1647.6" r="8.5" fill="#FFC000"/>
<circle cx="636.2" cy="1624.0" r="8.5" fill="#FFC000"/>
<circle cx="779.8" cy="1624.6" r="8.5" fill="#FFC000"/>
<circle cx="923.2" cy="1414.3" r="8.5" fill="#FFC000"/>
<circle cx="1066.8" cy="1605.9" r="8.5" fill="#FFC000"/>
<circle cx="1210.2" cy="1593.5" r="8.5" fill="#FFC000"/>
<circle cx="1353.8" cy="1768.9" r="8.5" fill="#FFC000"/>
<circle cx="1497.2" cy="1854.8" r="8.5" fill="#FFC000"/>
<circle cx="1640.8" cy="1918.2" r="8.5" fill="#FFC000"/>
<circle cx="1784.2" cy="1928.2" r="8.5" fill="#FFC000"/>
<text x="181.91" y="1645.34" font-family="'Liberation Serif','Times New Roman',serif" font-size="37" font-weight="bold" fill="#000" textLength="44.40" lengthAdjust="spacingAndGlyphs" xml:space="preserve" >2.3</text>
<text x="324.77" y="1668.98" font-family="'Liberation Serif','Times New Roman',serif" font-size="37" font-weight="bold" fill="#000" textLength="44.40" lengthAdjust="spacingAndGlyphs" xml:space="preserve" >1.9</text>
<text x="468.89" y="1613.61" font-family="'Liberation Serif','Times New Roman',serif" font-size="37" font-weight="bold" fill="#000" textLength="44.40" lengthAdjust="spacingAndGlyphs" xml:space="preserve" >2.8</text>
<text x="612.65" y="1589.97" font-family="'Liberation Serif','Times New Roman',serif" font-size="37" font-weight="bold" fill="#000" textLength="44.40" lengthAdjust="spacingAndGlyphs" xml:space="preserve" >3.2</text>
<text x="756.15" y="1590.60" font-family="'Liberation Serif','Times New Roman',serif" font-size="37" font-weight="bold" fill="#000" textLength="44.40" lengthAdjust="spacingAndGlyphs" xml:space="preserve" >3.2</text>
<text x="899.46" y="1380.34" font-family="'Liberation Serif','Times New Roman',serif" font-size="37" font-weight="bold" fill="#000" textLength="44.40" lengthAdjust="spacingAndGlyphs" xml:space="preserve" >6.6</text>
<text x="1043.03" y="1571.93" font-family="'Liberation Serif','Times New Roman',serif" font-size="37" font-weight="bold" fill="#000" textLength="44.40" lengthAdjust="spacingAndGlyphs" xml:space="preserve" >3.5</text>
<text x="1186.32" y="1559.49" font-family="'Liberation Serif','Times New Roman',serif" font-size="37" font-weight="bold" fill="#000" textLength="44.40" lengthAdjust="spacingAndGlyphs" xml:space="preserve" >3.7</text>
<text x="1329.96" y="1734.92" font-family="'Liberation Serif','Times New Roman',serif" font-size="37" font-weight="bold" fill="#000" textLength="44.40" lengthAdjust="spacingAndGlyphs" xml:space="preserve" >0.8</text>
<text x="1467.64" y="1820.76" font-family="'Liberation Serif','Times New Roman',serif" font-size="37" font-weight="bold" fill="#000" textLength="56.23" lengthAdjust="spacingAndGlyphs" xml:space="preserve" >-0.5</text>
<text x="1611.01" y="1884.21" font-family="'Liberation Serif','Times New Roman',serif" font-size="37" font-weight="bold" fill="#000" textLength="56.23" lengthAdjust="spacingAndGlyphs" xml:space="preserve" >-1.6</text>
<text x="1754.42" y="1894.17" font-family="'Liberation Serif','Times New Roman',serif" font-size="37" font-weight="bold" fill="#000" textLength="56.23" lengthAdjust="spacingAndGlyphs" xml:space="preserve" >-1.7</text>
<text x="91.45" y="2081.60" font-family="'Liberation Serif','Times New Roman',serif" font-size="35" stroke="#000" stroke-width="0.55" fill="#000" textLength="15.75" lengthAdjust="spacingAndGlyphs" xml:space="preserve" >0</text>
<text x="91.48" y="1957.19" font-family="'Liberation Serif','Times New Roman',serif" font-size="35" stroke="#000" stroke-width="0.55" fill="#000" textLength="15.75" lengthAdjust="spacingAndGlyphs" xml:space="preserve" >5</text>
<text x="75.70" y="1832.77" font-family="'Liberation Serif','Times New Roman',serif" font-size="35" stroke="#000" stroke-width="0.55" fill="#000" textLength="31.50" lengthAdjust="spacingAndGlyphs" xml:space="preserve" >10</text>
<text x="75.73" y="1708.36" font-family="'Liberation Serif','Times New Roman',serif" font-size="35" stroke="#000" stroke-width="0.55" fill="#000" textLength="31.50" lengthAdjust="spacingAndGlyphs" xml:space="preserve" >15</text>
<text x="75.70" y="1583.94" font-family="'Liberation Serif','Times New Roman',serif" font-size="35" stroke="#000" stroke-width="0.55" fill="#000" textLength="31.50" lengthAdjust="spacingAndGlyphs" xml:space="preserve" >20</text>
<text x="75.73" y="1459.53" font-family="'Liberation Serif','Times New Roman',serif" font-size="35" stroke="#000" stroke-width="0.55" fill="#000" textLength="31.50" lengthAdjust="spacingAndGlyphs" xml:space="preserve" >25</text>
<text x="75.70" y="1335.11" font-family="'Liberation Serif','Times New Roman',serif" font-size="35" stroke="#000" stroke-width="0.55" fill="#000" textLength="31.50" lengthAdjust="spacingAndGlyphs" xml:space="preserve" >30</text>
<text x="75.73" y="1210.70" font-family="'Liberation Serif','Times New Roman',serif" font-size="35" stroke="#000" stroke-width="0.55" fill="#000" textLength="31.50" lengthAdjust="spacingAndGlyphs" xml:space="preserve" >35</text>
<text x="1880.23" y="1210.70" font-family="'Liberation Serif','Times New Roman',serif" font-size="35" stroke="#000" stroke-width="0.55" fill="#000" textLength="31.50" lengthAdjust="spacingAndGlyphs" xml:space="preserve" >10</text>
<text x="1881.80" y="1335.11" font-family="'Liberation Serif','Times New Roman',serif" font-size="35" stroke="#000" stroke-width="0.55" fill="#000" textLength="15.75" lengthAdjust="spacingAndGlyphs" xml:space="preserve" >8</text>
<text x="1881.65" y="1459.53" font-family="'Liberation Serif','Times New Roman',serif" font-size="35" stroke="#000" stroke-width="0.55" fill="#000" textLength="15.75" lengthAdjust="spacingAndGlyphs" xml:space="preserve" >6</text>
<text x="1882.38" y="1583.94" font-family="'Liberation Serif','Times New Roman',serif" font-size="35" stroke="#000" stroke-width="0.55" fill="#000" textLength="15.75" lengthAdjust="spacingAndGlyphs" xml:space="preserve" >4</text>
<text x="1881.62" y="1708.36" font-family="'Liberation Serif','Times New Roman',serif" font-size="35" stroke="#000" stroke-width="0.55" fill="#000" textLength="15.75" lengthAdjust="spacingAndGlyphs" xml:space="preserve" >2</text>
<text x="1881.80" y="1832.77" font-family="'Liberation Serif','Times New Roman',serif" font-size="35" stroke="#000" stroke-width="0.55" fill="#000" textLength="15.75" lengthAdjust="spacingAndGlyphs" xml:space="preserve" >0</text>
<text x="1874.83" y="1957.19" font-family="'Liberation Serif','Times New Roman',serif" font-size="35" stroke="#000" stroke-width="0.55" fill="#000" textLength="35.61" lengthAdjust="spacingAndGlyphs" xml:space="preserve" >−2</text>
<text x="1874.90" y="2081.60" font-family="'Liberation Serif','Times New Roman',serif" font-size="35" stroke="#000" stroke-width="0.55" fill="#000" textLength="34.20" lengthAdjust="spacingAndGlyphs" xml:space="preserve" >−4</text>
<text x="184.82" y="2116.00" font-family="'Liberation Serif','Times New Roman',serif" font-size="33" stroke="#000" stroke-width="0.55" fill="#000" textLength="42.67" lengthAdjust="spacingAndGlyphs" xml:space="preserve" >Jan</text>
<text x="325.89" y="2116.00" font-family="'Liberation Serif','Times New Roman',serif" font-size="33" stroke="#000" stroke-width="0.55" fill="#000" textLength="48.02" lengthAdjust="spacingAndGlyphs" xml:space="preserve" >Feb</text>
<text x="466.27" y="2116.00" font-family="'Liberation Serif','Times New Roman',serif" font-size="33" stroke="#000" stroke-width="0.55" fill="#000" textLength="53.33" lengthAdjust="spacingAndGlyphs" xml:space="preserve" >Mar</text>
<text x="611.84" y="2116.00" font-family="'Liberation Serif','Times New Roman',serif" font-size="33" stroke="#000" stroke-width="0.55" fill="#000" textLength="49.78" lengthAdjust="spacingAndGlyphs" xml:space="preserve" >Apr</text>
<text x="750.51" y="2116.00" font-family="'Liberation Serif','Times New Roman',serif" font-size="33" stroke="#000" stroke-width="0.55" fill="#000" textLength="58.67" lengthAdjust="spacingAndGlyphs" xml:space="preserve" >May</text>
<text x="901.42" y="2116.00" font-family="'Liberation Serif','Times New Roman',serif" font-size="33" stroke="#000" stroke-width="0.55" fill="#000" textLength="44.47" lengthAdjust="spacingAndGlyphs" xml:space="preserve" >Jun</text>
<text x="1048.56" y="2116.00" font-family="'Liberation Serif','Times New Roman',serif" font-size="33" stroke="#000" stroke-width="0.55" fill="#000" textLength="37.36" lengthAdjust="spacingAndGlyphs" xml:space="preserve" >Jul</text>
<text x="1183.34" y="2116.00" font-family="'Liberation Serif','Times New Roman',serif" font-size="33" stroke="#000" stroke-width="0.55" fill="#000" textLength="55.13" lengthAdjust="spacingAndGlyphs" xml:space="preserve" >Aug</text>
<text x="1329.80" y="2116.00" font-family="'Liberation Serif','Times New Roman',serif" font-size="33" stroke="#000" stroke-width="0.55" fill="#000" textLength="48.01" lengthAdjust="spacingAndGlyphs" xml:space="preserve" >Sep</text>
<text x="1474.08" y="2116.00" font-family="'Liberation Serif','Times New Roman',serif" font-size="33" stroke="#000" stroke-width="0.55" fill="#000" textLength="46.22" lengthAdjust="spacingAndGlyphs" xml:space="preserve" >Oct</text>
<text x="1613.23" y="2116.00" font-family="'Liberation Serif','Times New Roman',serif" font-size="33" stroke="#000" stroke-width="0.55" fill="#000" textLength="55.13" lengthAdjust="spacingAndGlyphs" xml:space="preserve" >Nov</text>
<text x="1759.02" y="2116.00" font-family="'Liberation Serif','Times New Roman',serif" font-size="33" stroke="#000" stroke-width="0.55" fill="#000" textLength="51.53" lengthAdjust="spacingAndGlyphs" xml:space="preserve" >Dec</text>
<rect x="221" y="1231" width="67" height="13" fill="#1A73CC" stroke="#000" stroke-width="2.4" rx="1.5"/>
<text x="293.79" y="1249.00" font-family="'Liberation Serif','Times New Roman',serif" font-size="36" stroke="#000" stroke-width="0.55" fill="#000" textLength="179.28" lengthAdjust="spacingAndGlyphs" xml:space="preserve" >Rural location</text>
<rect x="540.5" y="1231" width="65" height="13" fill="#E00000" stroke="#000" stroke-width="2.4" rx="1.5"/>
<text x="612.64" y="1249.00" font-family="'Liberation Serif','Times New Roman',serif" font-size="36" stroke="#000" stroke-width="0.55" fill="#000" textLength="187.64" lengthAdjust="spacingAndGlyphs" xml:space="preserve" >Urban location</text>
<line x1="865" y1="1237.5" x2="933.5" y2="1237.5" stroke="#FFC000" stroke-width="4.5"/>
<circle cx="899" cy="1237.5" r="8.5" fill="#FFC000"/>
<text x="939.50" y="1249.00" font-family="'Liberation Serif','Times New Roman',serif" font-size="36" stroke="#000" stroke-width="0.55" fill="#000" textLength="145.63" lengthAdjust="spacingAndGlyphs" xml:space="preserve" >Differences</text>
<g transform="translate(46.6,1777.4) rotate(-90)">
<text x="-0.52" y="0.00" font-family="'Liberation Serif','Times New Roman',serif" font-size="36" font-weight="bold" fill="#000" textLength="186.97" lengthAdjust="spacingAndGlyphs" xml:space="preserve" >Temperature</text>
<text x="207.32" y="0.00" font-family="'Liberation Serif','Times New Roman',serif" font-size="36" stroke="#000" stroke-width="0.55" fill="#000" textLength="57.86" lengthAdjust="spacingAndGlyphs" xml:space="preserve" >[°C]</text>
</g>
<g transform="translate(1938,1421.7) rotate(90)">
<text x="-0.51" y="0.00" font-family="'Liberation Serif','Times New Roman',serif" font-size="36" font-weight="bold" fill="#000" textLength="184.75" lengthAdjust="spacingAndGlyphs" xml:space="preserve" >Temperature</text>
<text x="206.40" y="0.00" font-family="'Liberation Serif','Times New Roman',serif" font-size="36" font-weight="bold" fill="#000" textLength="165.34" lengthAdjust="spacingAndGlyphs" xml:space="preserve" >Differences</text>
<text x="384.45" y="0.00" font-family="'Liberation Serif','Times New Roman',serif" font-size="36" stroke="#000" stroke-width="0.55" fill="#000" textLength="57.20" lengthAdjust="spacingAndGlyphs" xml:space="preserve" >[°C]</text>
</g>
<text x="101.62" y="1127.90" font-family="'Liberation Serif','Times New Roman',serif" font-size="35.3" font-weight="bold" fill="#000" textLength="46.66" lengthAdjust="spacingAndGlyphs" xml:space="preserve" >(b)</text>
<text x="366.90" y="1130.80" font-family="'Liberation Serif','Times New Roman',serif" font-size="42.3" font-weight="bold" fill="#000" textLength="149.19" lengthAdjust="spacingAndGlyphs" xml:space="preserve" >Monthly</text>
<text x="528.30" y="1130.80" font-family="'Liberation Serif','Times New Roman',serif" font-size="42.3" font-weight="bold" fill="#000" textLength="147.15" lengthAdjust="spacingAndGlyphs" xml:space="preserve" >Avarage</text>
<text x="687.17" y="1130.80" font-family="'Liberation Serif','Times New Roman',serif" font-size="42.3" font-weight="bold" fill="#000" textLength="242.81" lengthAdjust="spacingAndGlyphs" xml:space="preserve" >Temperatures</text>
<text x="944.61" y="1130.80" font-family="'Liberation Serif','Times New Roman',serif" font-size="42.3" font-weight="bold" fill="#000" textLength="36.96" lengthAdjust="spacingAndGlyphs" xml:space="preserve" >of</text>
<text x="991.25" y="1130.80" font-family="'Liberation Serif','Times New Roman',serif" font-size="42.3" font-weight="bold" fill="#000" textLength="105.62" lengthAdjust="spacingAndGlyphs" xml:space="preserve" >Urban</text>
<text x="1117.56" y="1130.80" font-family="'Liberation Serif','Times New Roman',serif" font-size="42.3" font-weight="bold" fill="#000" textLength="61.87" lengthAdjust="spacingAndGlyphs" xml:space="preserve" >and</text>
<text x="1195.61" y="1130.80" font-family="'Liberation Serif','Times New Roman',serif" font-size="42.3" font-weight="bold" fill="#000" textLength="101.39" lengthAdjust="spacingAndGlyphs" xml:space="preserve" >Rural</text>
<text x="1311.30" y="1130.80" font-family="'Liberation Serif','Times New Roman',serif" font-size="42.3" font-weight="bold" fill="#000" textLength="154.40" lengthAdjust="spacingAndGlyphs" xml:space="preserve" >locations</text>
<text x="1479.69" y="1130.80" font-family="'Liberation Serif','Times New Roman',serif" font-size="42.3" font-weight="bold" fill="#000" textLength="30.87" lengthAdjust="spacingAndGlyphs" xml:space="preserve" >in</text>
<text x="1524.98" y="1130.80" font-family="'Liberation Serif','Times New Roman',serif" font-size="42.3" font-weight="bold" fill="#000" textLength="86.45" lengthAdjust="spacingAndGlyphs" xml:space="preserve" >2018</text>
</g>
<defs><linearGradient id="lg0" gradientUnits="userSpaceOnUse" x1="18.0" y1="0" x2="2074.0" y2="0"><stop offset="0" stop-color="#806654"/><stop offset="0.0417" stop-color="#806654"/><stop offset="0.1250" stop-color="#826a56"/><stop offset="0.2083" stop-color="#8d7f6a"/><stop offset="0.2917" stop-color="#877d70"/><stop offset="0.3750" stop-color="#8c877d"/><stop offset="0.4583" stop-color="#8c877d"/><stop offset="0.5417" stop-color="#8c877d"/><stop offset="0.6250" stop-color="#8c877d"/><stop offset="0.7083" stop-color="#8c877d"/><stop offset="0.7917" stop-color="#8c877d"/><stop offset="0.8750" stop-color="#8b867c"/><stop offset="0.9583" stop-color="#8b867c"/><stop offset="1" stop-color="#8b867c"/></linearGradient><linearGradient id="lg1" gradientUnits="userSpaceOnUse" x1="18.0" y1="0" x2="2074.0" y2="0"><stop offset="0" stop-color="#806654"/><stop offset="0.0417" stop-color="#806654"/><stop offset="0.1250" stop-color="#826a56"/><stop offset="0.2083" stop-color="#8d7f6b"/><stop offset="0.2917" stop-color="#877d70"/><stop offset="0.3750" stop-color="#8c877d"/><stop offset="0.4583" stop-color="#8c877d"/><stop offset="0.5417" stop-color="#8c877d"/><stop offset="0.6250" stop-color="#8c877d"/><stop offset="0.7083" stop-color="#8c877d"/><stop offset="0.7917" stop-color="#8c877d"/><stop offset="0.8750" stop-color="#8b867c"/><stop offset="0.9583" stop-color="#8b867c"/><stop offset="1" stop-color="#8b867c"/></linearGradient><linearGradient id="lg2" gradientUnits="userSpaceOnUse" x1="18.0" y1="0" x2="2074.0" y2="0"><stop offset="0" stop-color="#806654"/><stop offset="0.0417" stop-color="#806654"/><stop offset="0.1250" stop-color="#826a56"/><stop offset="0.2083" stop-color="#8d7f6a"/><stop offset="0.2917" stop-color="#877d70"/><stop offset="0.3750" stop-color="#8c877d"/><stop offset="0.4583" stop-color="#8c877d"/><stop offset="0.5417" stop-color="#8c877d"/><stop offset="0.6250" stop-color="#8c877d"/><stop offset="0.7083" stop-color="#8c877d"/><stop offset="0.7917" stop-color="#8c877d"/><stop offset="0.8750" stop-color="#8b867c"/><stop offset="0.9583" stop-color="#8b867c"/><stop offset="1" stop-color="#8b867c"/></linearGradient><linearGradient id="lg3" gradientUnits="userSpaceOnUse" x1="18.0" y1="0" x2="2074.0" y2="0"><stop offset="0" stop-color="#806654"/><stop offset="0.0417" stop-color="#806654"/><stop offset="0.1250" stop-color="#826a56"/><stop offset="0.2083" stop-color="#8c7e6a"/><stop offset="0.2917" stop-color="#877d70"/><stop offset="0.3750" stop-color="#8c877d"/><stop offset="0.4583" stop-color="#8c877d"/><stop offset="0.5417" stop-color="#8c877d"/><stop offset="0.6250" stop-color="#8c877d"/><stop offset="0.7083" stop-color="#8c877d"/><stop offset="0.7917" stop-color="#8c877d"/><stop offset="0.8750" stop-color="#8b867c"/><stop offset="0.9583" stop-color="#8b867c"/><stop offset="1" stop-color="#8b867c"/></linearGradient><linearGradient id="lg4" gradientUnits="userSpaceOnUse" x1="18.0" y1="0" x2="2074.0" y2="0"><stop offset="0" stop-color="#806654"/><stop offset="0.0417" stop-color="#806654"/><stop offset="0.1250" stop-color="#826a56"/><stop offset="0.2083" stop-color="#8c7e6a"/><stop offset="0.2917" stop-color="#877d70"/><stop offset="0.3750" stop-color="#8c877d"/><stop offset="0.4583" stop-color="#8c877d"/><stop offset="0.5417" stop-color="#8c877d"/><stop offset="0.6250" stop-color="#8c877d"/><stop offset="0.7083" stop-color="#8c877d"/><stop offset="0.7917" stop-color="#8c877d"/><stop offset="0.8750" stop-color="#8b867c"/><stop offset="0.9583" stop-color="#8b867c"/><stop offset="1" stop-color="#8b867c"/></linearGradient><linearGradient id="lg5" gradientUnits="userSpaceOnUse" x1="18.0" y1="0" x2="2074.0" y2="0"><stop offset="0" stop-color="#7f6553"/><stop offset="0.0417" stop-color="#7f6553"/><stop offset="0.1250" stop-color="#816955"/><stop offset="0.2083" stop-color="#8b7d69"/><stop offset="0.2917" stop-color="#867c6f"/><stop offset="0.3750" stop-color="#8b867c"/><stop offset="0.4583" stop-color="#8b867c"/><stop offset="0.5417" stop-color="#8b867c"/><stop offset="0.6250" stop-color="#8b867c"/><stop offset="0.7083" stop-color="#8b867c"/><stop offset="0.7917" stop-color="#8c867c"/><stop offset="0.8750" stop-color="#8c877d"/><stop offset="0.9583" stop-color="#8c877d"/><stop offset="1" stop-color="#8c877d"/></linearGradient><linearGradient id="lg6" gradientUnits="userSpaceOnUse" x1="18.0" y1="0" x2="2074.0" y2="0"><stop offset="0" stop-color="#7f6553"/><stop offset="0.0417" stop-color="#7f6553"/><stop offset="0.1250" stop-color="#816955"/><stop offset="0.2083" stop-color="#8a7c68"/><stop offset="0.2917" stop-color="#867b6e"/><stop offset="0.3750" stop-color="#8b867b"/><stop offset="0.4583" stop-color="#8b867c"/><stop offset="0.5417" stop-color="#8b867c"/><stop offset="0.6250" stop-color="#8b857b"/><stop offset="0.7083" stop-color="#8b867c"/><stop offset="0.7917" stop-color="#8c867c"/><stop offset="0.8750" stop-color="#8c877d"/><stop offset="0.9583" stop-color="#8c877d"/><stop offset="1" stop-color="#8c877d"/></linearGradient><linearGradient id="lg7" gradientUnits="userSpaceOnUse" x1="18.0" y1="0" x2="2074.0" y2="0"><stop offset="0" stop-color="#7e6553"/><stop offset="0.0417" stop-color="#7e6553"/><stop offset="0.1250" stop-color="#806955"/><stop offset="0.2083" stop-color="#887a66"/><stop offset="0.2917" stop-color="#857a6d"/><stop offset="0.3750" stop-color="#8b857a"/><stop offset="0.4583" stop-color="#8b857b"/><stop offset="0.5417" stop-color="#8b867c"/><stop offset="0.6250" stop-color="#8b857a"/><stop offset="0.7083" stop-color="#8b857c"/><stop offset="0.7917" stop-color="#8c867c"/><stop offset="0.8750" stop-color="#8d887e"/><stop offset="0.9583" stop-color="#8d887e"/><stop offset="1" stop-color="#8d887e"/></linearGradient><linearGradient id="lg8" gradientUnits="userSpaceOnUse" x1="18.0" y1="0" x2="2074.0" y2="0"><stop offset="0" stop-color="#7e6553"/><stop offset="0.0417" stop-color="#7e6553"/><stop offset="0.1250" stop-color="#7f6955"/><stop offset="0.2083" stop-color="#877865"/><stop offset="0.2917" stop-color="#84796c"/><stop offset="0.3750" stop-color="#8a8479"/><stop offset="0.4583" stop-color="#8a857b"/><stop offset="0.5417" stop-color="#8b857b"/><stop offset="0.6250" stop-color="#8a8479"/><stop offset="0.7083" stop-color="#8b857b"/><stop offset="0.7917" stop-color="#8c867c"/><stop offset="0.8750" stop-color="#8d887e"/><stop offset="0.9583" stop-color="#8d887e"/><stop offset="1" stop-color="#8d887e"/></linearGradient><linearGradient id="lg9" gradientUnits="userSpaceOnUse" x1="18.0" y1="0" x2="2074.0" y2="0"><stop offset="0" stop-color="#7d6552"/><stop offset="0.0417" stop-color="#7d6552"/><stop offset="0.1250" stop-color="#7e6955"/><stop offset="0.2083" stop-color="#857663"/><stop offset="0.2917" stop-color="#84786a"/><stop offset="0.3750" stop-color="#8a8378"/><stop offset="0.4583" stop-color="#8a847a"/><stop offset="0.5417" stop-color="#8b857b"/><stop offset="0.6250" stop-color="#8a8277"/><stop offset="0.7083" stop-color="#8b847a"/><stop offset="0.7917" stop-color="#8c867c"/><stop offset="0.8750" stop-color="#8e897f"/><stop offset="0.9583" stop-color="#8e897f"/><stop offset="1" stop-color="#8e897f"/></linearGradient><linearGradient id="lg10" gradientUnits="userSpaceOnUse" x1="18.0" y1="0" x2="2074.0" y2="0"><stop offset="0" stop-color="#7c6452"/><stop offset="0.0417" stop-color="#7c6452"/><stop offset="0.1250" stop-color="#7d6855"/><stop offset="0.2083" stop-color="#837461"/><stop offset="0.2917" stop-color="#837769"/><stop offset="0.3750" stop-color="#8a8276"/><stop offset="0.4583" stop-color="#898379"/><stop offset="0.5417" stop-color="#8b847a"/><stop offset="0.6250" stop-color="#898176"/><stop offset="0.7083" stop-color="#8b847a"/><stop offset="0.7917" stop-color="#8c867c"/><stop offset="0.8750" stop-color="#8e897f"/><stop offset="0.9583" stop-color="#8e897f"/><stop offset="1" stop-color="#8e897f"/></linearGradient><linearGradient id="lg11" gradientUnits="userSpaceOnUse" x1="18.0" y1="0" x2="2074.0" y2="0"><stop offset="0" stop-color="#7c6452"/><stop offset="0.0417" stop-color="#7c6452"/><stop offset="0.1250" stop-color="#7c6855"/><stop offset="0.2083" stop-color="#817260"/><stop offset="0.2917" stop-color="#827667"/><stop offset="0.3750" stop-color="#898175"/><stop offset="0.4583" stop-color="#898279"/><stop offset="0.5417" stop-color="#8b837a"/><stop offset="0.6250" stop-color="#888074"/><stop offset="0.7083" stop-color="#8a8379"/><stop offset="0.7917" stop-color="#8c867c"/><stop offset="0.8750" stop-color="#8f8a80"/><stop offset="0.9583" stop-color="#8f8a80"/><stop offset="1" stop-color="#8f8a80"/></linearGradient><linearGradient id="lg12" gradientUnits="userSpaceOnUse" x1="18.0" y1="0" x2="2074.0" y2="0"><stop offset="0" stop-color="#7b6452"/><stop offset="0.0417" stop-color="#7b6452"/><stop offset="0.1250" stop-color="#7b6855"/><stop offset="0.2083" stop-color="#7f705e"/><stop offset="0.2917" stop-color="#817566"/><stop offset="0.3750" stop-color="#888073"/><stop offset="0.4583" stop-color="#888278"/><stop offset="0.5417" stop-color="#8a8379"/><stop offset="0.6250" stop-color="#887f72"/><stop offset="0.7083" stop-color="#8a8379"/><stop offset="0.7917" stop-color="#8c867c"/><stop offset="0.8750" stop-color="#908b81"/><stop offset="0.9583" stop-color="#908b81"/><stop offset="1" stop-color="#908b81"/></linearGradient><linearGradient id="lg13" gradientUnits="userSpaceOnUse" x1="18.0" y1="0" x2="2074.0" y2="0"><stop offset="0" stop-color="#7a6452"/><stop offset="0.0417" stop-color="#7a6452"/><stop offset="0.1250" stop-color="#7a6855"/><stop offset="0.2083" stop-color="#7e6f5d"/><stop offset="0.2917" stop-color="#807465"/><stop offset="0.3750" stop-color="#887e71"/><stop offset="0.4583" stop-color="#878177"/><stop offset="0.5417" stop-color="#8a8278"/><stop offset="0.6250" stop-color="#877e71"/><stop offset="0.7083" stop-color="#8a8278"/><stop offset="0.7917" stop-color="#8c867c"/><stop offset="0.8750" stop-color="#908b81"/><stop offset="0.9583" stop-color="#908b81"/><stop offset="1" stop-color="#908b81"/></linearGradient><linearGradient id="lg14" gradientUnits="userSpaceOnUse" x1="18.0" y1="0" x2="2074.0" y2="0"><stop offset="0" stop-color="#7a6452"/><stop offset="0.0417" stop-color="#7a6452"/><stop offset="0.1250" stop-color="#7a6855"/><stop offset="0.2083" stop-color="#7d6e5c"/><stop offset="0.2917" stop-color="#807364"/><stop offset="0.3750" stop-color="#877d70"/><stop offset="0.4583" stop-color="#878076"/><stop offset="0.5417" stop-color="#8a8278"/><stop offset="0.6250" stop-color="#877d70"/><stop offset="0.7083" stop-color="#8a8278"/><stop offset="0.7917" stop-color="#8c867c"/><stop offset="0.8750" stop-color="#908b81"/><stop offset="0.9583" stop-color="#908b81"/><stop offset="1" stop-color="#908b81"/></linearGradient><linearGradient id="lg15" gradientUnits="userSpaceOnUse" x1="18.0" y1="0" x2="2074.0" y2="0"><stop offset="0" stop-color="#796352"/><stop offset="0.0417" stop-color="#796352"/><stop offset="0.1250" stop-color="#796756"/><stop offset="0.2083" stop-color="#7c6d5b"/><stop offset="0.2917" stop-color="#7f7263"/><stop offset="0.3750" stop-color="#867b6e"/><stop offset="0.4583" stop-color="#867f74"/><stop offset="0.5417" stop-color="#898177"/><stop offset="0.6250" stop-color="#867c6f"/><stop offset="0.7083" stop-color="#898177"/><stop offset="0.7917" stop-color="#8c857b"/><stop offset="0.8750" stop-color="#918c82"/><stop offset="0.9583" stop-color="#918c82"/><stop offset="1" stop-color="#918c82"/></linearGradient><linearGradient id="lg16" gradientUnits="userSpaceOnUse" x1="18.0" y1="0" x2="2074.0" y2="0"><stop offset="0" stop-color="#796352"/><stop offset="0.0417" stop-color="#796352"/><stop offset="0.1250" stop-color="#796756"/><stop offset="0.2083" stop-color="#7b6c5b"/><stop offset="0.2917" stop-color="#7e7162"/><stop offset="0.3750" stop-color="#84796c"/><stop offset="0.4583" stop-color="#857d73"/><stop offset="0.5417" stop-color="#898076"/><stop offset="0.6250" stop-color="#867b6e"/><stop offset="0.7083" stop-color="#898177"/><stop offset="0.7917" stop-color="#8c857b"/><stop offset="0.8750" stop-color="#918c82"/><stop offset="0.9583" stop-color="#918c82"/><stop offset="1" stop-color="#918c82"/></linearGradient><linearGradient id="lg17" gradientUnits="userSpaceOnUse" x1="18.0" y1="0" x2="2074.0" y2="0"><stop offset="0" stop-color="#786352"/><stop offset="0.0417" stop-color="#786352"/><stop offset="0.1250" stop-color="#796756"/><stop offset="0.2083" stop-color="#7b6c5b"/><stop offset="0.2917" stop-color="#7e7061"/><stop offset="0.3750" stop-color="#83776a"/><stop offset="0.4583" stop-color="#847c71"/><stop offset="0.5417" stop-color="#888075"/><stop offset="0.6250" stop-color="#857a6d"/><stop offset="0.7083" stop-color="#898176"/><stop offset="0.7917" stop-color="#8c857b"/><stop offset="0.8750" stop-color="#918c82"/><stop offset="0.9583" stop-color="#918c82"/><stop offset="1" stop-color="#918c82"/></linearGradient><linearGradient id="lg18" gradientUnits="userSpaceOnUse" x1="18.0" y1="0" x2="2074.0" y2="0"><stop offset="0" stop-color="#786452"/><stop offset="0.0417" stop-color="#786452"/><stop offset="0.1250" stop-color="#786856"/><stop offset="0.2083" stop-color="#7b6c5b"/><stop offset="0.2917" stop-color="#7d6f61"/><stop offset="0.3750" stop-color="#817567"/><stop offset="0.4583" stop-color="#837a6f"/><stop offset="0.5417" stop-color="#887f75"/><stop offset="0.6250" stop-color="#85796c"/><stop offset="0.7083" stop-color="#898176"/><stop offset="0.7917" stop-color="#8c857b"/><stop offset="0.8750" stop-color="#918c82"/><stop offset="0.9583" stop-color="#918c82"/><stop offset="1" stop-color="#918c82"/></linearGradient><linearGradient id="lg19" gradientUnits="userSpaceOnUse" x1="18.0" y1="0" x2="2074.0" y2="0"><stop offset="0" stop-color="#786453"/><stop offset="0.0417" stop-color="#786453"/><stop offset="0.1250" stop-color="#786857"/><stop offset="0.2083" stop-color="#7a6c5b"/><stop offset="0.2917" stop-color="#7d6f60"/><stop offset="0.3750" stop-color="#7f7265"/><stop offset="0.4583" stop-color="#82796d"/><stop offset="0.5417" stop-color="#877f74"/><stop offset="0.6250" stop-color="#84786b"/><stop offset="0.7083" stop-color="#898175"/><stop offset="0.7917" stop-color="#8c857b"/><stop offset="0.8750" stop-color="#918c82"/><stop offset="0.9583" stop-color="#918c82"/><stop offset="1" stop-color="#918c82"/></linearGradient><linearGradient id="lg20" gradientUnits="userSpaceOnUse" x1="18.0" y1="0" x2="2074.0" y2="0"><stop offset="0" stop-color="#776453"/><stop offset="0.0417" stop-color="#776453"/><stop offset="0.1250" stop-color="#786857"/><stop offset="0.2083" stop-color="#7a6c5b"/><stop offset="0.2917" stop-color="#7c6e60"/><stop offset="0.3750" stop-color="#7d7062"/><stop offset="0.4583" stop-color="#81776b"/><stop offset="0.5417" stop-color="#877e73"/><stop offset="0.6250" stop-color="#84786a"/><stop offset="0.7083" stop-color="#898175"/><stop offset="0.7917" stop-color="#8c857b"/><stop offset="0.8750" stop-color="#918c81"/><stop offset="0.9583" stop-color="#918c81"/><stop offset="1" stop-color="#918c81"/></linearGradient><linearGradient id="lg21" gradientUnits="userSpaceOnUse" x1="18.0" y1="0" x2="2074.0" y2="0"><stop offset="0" stop-color="#776453"/><stop offset="0.0417" stop-color="#776453"/><stop offset="0.1250" stop-color="#786857"/><stop offset="0.2083" stop-color="#7a6c5b"/><stop offset="0.2917" stop-color="#7b6d5f"/><stop offset="0.3750" stop-color="#7c6e60"/><stop offset="0.4583" stop-color="#7f766a"/><stop offset="0.5417" stop-color="#867e72"/><stop offset="0.6250" stop-color="#837769"/><stop offset="0.7083" stop-color="#888175"/><stop offset="0.7917" stop-color="#8c857b"/><stop offset="0.8750" stop-color="#918c81"/><stop offset="0.9583" stop-color="#918c81"/><stop offset="1" stop-color="#918c81"/></linearGradient><linearGradient id="lg22" gradientUnits="userSpaceOnUse" x1="18.0" y1="0" x2="2074.0" y2="0"><stop offset="0" stop-color="#766453"/><stop offset="0.0417" stop-color="#766453"/><stop offset="0.1250" stop-color="#786857"/><stop offset="0.2083" stop-color="#7a6c5c"/><stop offset="0.2917" stop-color="#7b6d5e"/><stop offset="0.3750" stop-color="#7a6c5e"/><stop offset="0.4583" stop-color="#7e7568"/><stop offset="0.5417" stop-color="#857d71"/><stop offset="0.6250" stop-color="#827668"/><stop offset="0.7083" stop-color="#888074"/><stop offset="0.7917" stop-color="#8c857b"/><stop offset="0.8750" stop-color="#918c81"/><stop offset="0.9583" stop-color="#918c81"/><stop offset="1" stop-color="#918c81"/></linearGradient><linearGradient id="lg23" gradientUnits="userSpaceOnUse" x1="18.0" y1="0" x2="2074.0" y2="0"><stop offset="0" stop-color="#766454"/><stop offset="0.0417" stop-color="#766454"/><stop offset="0.1250" stop-color="#786858"/><stop offset="0.2083" stop-color="#7a6c5c"/><stop offset="0.2917" stop-color="#7a6c5e"/><stop offset="0.3750" stop-color="#796b5d"/><stop offset="0.4583" stop-color="#7d7367"/><stop offset="0.5417" stop-color="#847c70"/><stop offset="0.6250" stop-color="#817567"/><stop offset="0.7083" stop-color="#878074"/><stop offset="0.7917" stop-color="#8c857b"/><stop offset="0.8750" stop-color="#918c81"/><stop offset="0.9583" stop-color="#918c81"/><stop offset="1" stop-color="#918c81"/></linearGradient><linearGradient id="lg24" gradientUnits="userSpaceOnUse" x1="18.0" y1="0" x2="2074.0" y2="0"><stop offset="0" stop-color="#756353"/><stop offset="0.0417" stop-color="#756353"/><stop offset="0.1250" stop-color="#776757"/><stop offset="0.2083" stop-color="#796b5b"/><stop offset="0.2917" stop-color="#796b5d"/><stop offset="0.3750" stop-color="#77695b"/><stop offset="0.4583" stop-color="#7c7265"/><stop offset="0.5417" stop-color="#837b6f"/><stop offset="0.6250" stop-color="#7f7365"/><stop offset="0.7083" stop-color="#867f73"/><stop offset="0.7917" stop-color="#8b867c"/><stop offset="0.8750" stop-color="#908b82"/><stop offset="0.9583" stop-color="#908b82"/><stop offset="1" stop-color="#908b82"/></linearGradient><linearGradient id="lg25" gradientUnits="userSpaceOnUse" x1="18.0" y1="0" x2="2074.0" y2="0"><stop offset="0" stop-color="#756353"/><stop offset="0.0417" stop-color="#756353"/><stop offset="0.1250" stop-color="#776757"/><stop offset="0.2083" stop-color="#796b5b"/><stop offset="0.2917" stop-color="#796b5d"/><stop offset="0.3750" stop-color="#77695b"/><stop offset="0.4583" stop-color="#7c7265"/><stop offset="0.5417" stop-color="#827b6f"/><stop offset="0.6250" stop-color="#7e7264"/><stop offset="0.7083" stop-color="#857f73"/><stop offset="0.7917" stop-color="#8b867c"/><stop offset="0.8750" stop-color="#908b82"/><stop offset="0.9583" stop-color="#908b82"/><stop offset="1" stop-color="#908b82"/></linearGradient><linearGradient id="lg26" gradientUnits="userSpaceOnUse" x1="18.0" y1="0" x2="2074.0" y2="0"><stop offset="0" stop-color="#746353"/><stop offset="0.0417" stop-color="#746353"/><stop offset="0.1250" stop-color="#776757"/><stop offset="0.2083" stop-color="#796b5b"/><stop offset="0.2917" stop-color="#786b5d"/><stop offset="0.3750" stop-color="#76695b"/><stop offset="0.4583" stop-color="#7b7164"/><stop offset="0.5417" stop-color="#817a6e"/><stop offset="0.6250" stop-color="#7c7062"/><stop offset="0.7083" stop-color="#847e73"/><stop offset="0.7917" stop-color="#8b867d"/><stop offset="0.8750" stop-color="#908b82"/><stop offset="0.9583" stop-color="#908b82"/><stop offset="1" stop-color="#908b82"/></linearGradient><linearGradient id="lg27" gradientUnits="userSpaceOnUse" x1="18.0" y1="0" x2="2074.0" y2="0"><stop offset="0" stop-color="#746253"/><stop offset="0.0417" stop-color="#746253"/><stop offset="0.1250" stop-color="#776757"/><stop offset="0.2083" stop-color="#796a5a"/><stop offset="0.2917" stop-color="#776a5c"/><stop offset="0.3750" stop-color="#75695b"/><stop offset="0.4583" stop-color="#7a7164"/><stop offset="0.5417" stop-color="#80796d"/><stop offset="0.6250" stop-color="#796f60"/><stop offset="0.7083" stop-color="#827d73"/><stop offset="0.7917" stop-color="#8b877e"/><stop offset="0.8750" stop-color="#8f8b83"/><stop offset="0.9583" stop-color="#8f8b83"/><stop offset="1" stop-color="#8f8b83"/></linearGradient><linearGradient id="lg28" gradientUnits="userSpaceOnUse" x1="18.0" y1="0" x2="2074.0" y2="0"><stop offset="0" stop-color="#736252"/><stop offset="0.0417" stop-color="#736252"/><stop offset="0.1250" stop-color="#766656"/><stop offset="0.2083" stop-color="#786a5a"/><stop offset="0.2917" stop-color="#766a5c"/><stop offset="0.3750" stop-color="#75695b"/><stop offset="0.4583" stop-color="#797164"/><stop offset="0.5417" stop-color="#7f786c"/><stop offset="0.6250" stop-color="#776d5f"/><stop offset="0.7083" stop-color="#807c73"/><stop offset="0.7917" stop-color="#8b8780"/><stop offset="0.8750" stop-color="#8f8b84"/><stop offset="0.9583" stop-color="#8f8b84"/><stop offset="1" stop-color="#8f8b84"/></linearGradient><linearGradient id="lg29" gradientUnits="userSpaceOnUse" x1="18.0" y1="0" x2="2074.0" y2="0"><stop offset="0" stop-color="#726151"/><stop offset="0.0417" stop-color="#726151"/><stop offset="0.1250" stop-color="#766656"/><stop offset="0.2083" stop-color="#786959"/><stop offset="0.2917" stop-color="#766a5c"/><stop offset="0.3750" stop-color="#746a5c"/><stop offset="0.4583" stop-color="#797164"/><stop offset="0.5417" stop-color="#7e776c"/><stop offset="0.6250" stop-color="#746b5d"/><stop offset="0.7083" stop-color="#7e7b73"/><stop offset="0.7917" stop-color="#8b8781"/><stop offset="0.8750" stop-color="#8e8b85"/><stop offset="0.9583" stop-color="#8e8b85"/><stop offset="1" stop-color="#8e8b85"/></linearGradient><linearGradient id="lg30" gradientUnits="userSpaceOnUse" x1="18.0" y1="0" x2="2074.0" y2="0"><stop offset="0" stop-color="#726151"/><stop offset="0.0417" stop-color="#726151"/><stop offset="0.1250" stop-color="#766656"/><stop offset="0.2083" stop-color="#786959"/><stop offset="0.2917" stop-color="#75695b"/><stop offset="0.3750" stop-color="#746a5c"/><stop offset="0.4583" stop-color="#787064"/><stop offset="0.5417" stop-color="#7c766b"/><stop offset="0.6250" stop-color="#71695b"/><stop offset="0.7083" stop-color="#7c7a73"/><stop offset="0.7917" stop-color="#8b8882"/><stop offset="0.8750" stop-color="#8d8b85"/><stop offset="0.9583" stop-color="#8d8b85"/><stop offset="1" stop-color="#8d8b85"/></linearGradient><linearGradient id="lg31" gradientUnits="userSpaceOnUse" x1="18.0" y1="0" x2="2074.0" y2="0"><stop offset="0" stop-color="#716050"/><stop offset="0.0417" stop-color="#716050"/><stop offset="0.1250" stop-color="#756555"/><stop offset="0.2083" stop-color="#776858"/><stop offset="0.2917" stop-color="#74695b"/><stop offset="0.3750" stop-color="#746b5d"/><stop offset="0.4583" stop-color="#777064"/><stop offset="0.5417" stop-color="#7b756a"/><stop offset="0.6250" stop-color="#6f6759"/><stop offset="0.7083" stop-color="#7a7973"/><stop offset="0.7917" stop-color="#8a8883"/><stop offset="0.8750" stop-color="#8c8b86"/><stop offset="0.9583" stop-color="#8c8b86"/><stop offset="1" stop-color="#8c8b86"/></linearGradient><linearGradient id="lg32" gradientUnits="userSpaceOnUse" x1="18.0" y1="0" x2="2074.0" y2="0"><stop offset="0" stop-color="#706050"/><stop offset="0.0417" stop-color="#706050"/><stop offset="0.1250" stop-color="#756555"/><stop offset="0.2083" stop-color="#776757"/><stop offset="0.2917" stop-color="#74685a"/><stop offset="0.3750" stop-color="#736b5d"/><stop offset="0.4583" stop-color="#777064"/><stop offset="0.5417" stop-color="#7a7469"/><stop offset="0.6250" stop-color="#6d6658"/><stop offset="0.7083" stop-color="#787872"/><stop offset="0.7917" stop-color="#898884"/><stop offset="0.8750" stop-color="#8c8b86"/><stop offset="0.9583" stop-color="#8b8b86"/><stop offset="1" stop-color="#8b8b86"/></linearGradient><linearGradient id="lg33" gradientUnits="userSpaceOnUse" x1="18.0" y1="0" x2="2074.0" y2="0"><stop offset="0" stop-color="#706050"/><stop offset="0.0417" stop-color="#706050"/><stop offset="0.1250" stop-color="#746454"/><stop offset="0.2083" stop-color="#766656"/><stop offset="0.2917" stop-color="#73685a"/><stop offset="0.3750" stop-color="#736c5e"/><stop offset="0.4583" stop-color="#767064"/><stop offset="0.5417" stop-color="#787368"/><stop offset="0.6250" stop-color="#6b6456"/><stop offset="0.7083" stop-color="#777772"/><stop offset="0.7917" stop-color="#888884"/><stop offset="0.8750" stop-color="#8a8a86"/><stop offset="0.9583" stop-color="#8a8a86"/><stop offset="1" stop-color="#8a8a86"/></linearGradient><linearGradient id="lg34" gradientUnits="userSpaceOnUse" x1="18.0" y1="0" x2="2074.0" y2="0"><stop offset="0" stop-color="#6f5f4f"/><stop offset="0.0417" stop-color="#6f5f4f"/><stop offset="0.1250" stop-color="#736353"/><stop offset="0.2083" stop-color="#756555"/><stop offset="0.2917" stop-color="#726759"/><stop offset="0.3750" stop-color="#726b5d"/><stop offset="0.4583" stop-color="#756f63"/><stop offset="0.5417" stop-color="#777267"/><stop offset="0.6250" stop-color="#696355"/><stop offset="0.7083" stop-color="#757671"/><stop offset="0.7917" stop-color="#878783"/><stop offset="0.8750" stop-color="#898985"/><stop offset="0.9583" stop-color="#898985"/><stop offset="1" stop-color="#898985"/></linearGradient><linearGradient id="lg35" gradientUnits="userSpaceOnUse" x1="18.0" y1="0" x2="2074.0" y2="0"><stop offset="0" stop-color="#6f5f4f"/><stop offset="0.0417" stop-color="#6f5f4f"/><stop offset="0.1250" stop-color="#726253"/><stop offset="0.2083" stop-color="#746454"/><stop offset="0.2917" stop-color="#726759"/><stop offset="0.3750" stop-color="#726b5d"/><stop offset="0.4583" stop-color="#756f63"/><stop offset="0.5417" stop-color="#767166"/><stop offset="0.6250" stop-color="#686355"/><stop offset="0.7083" stop-color="#747570"/><stop offset="0.7917" stop-color="#858682"/><stop offset="0.8750" stop-color="#888884"/><stop offset="0.9583" stop-color="#888884"/><stop offset="1" stop-color="#888884"/></linearGradient><linearGradient id="lg36" gradientUnits="userSpaceOnUse" x1="18.0" y1="0" x2="2074.0" y2="0"><stop offset="0" stop-color="#6f5f50"/><stop offset="0.0417" stop-color="#6f5f50"/><stop offset="0.1250" stop-color="#726152"/><stop offset="0.2083" stop-color="#736353"/><stop offset="0.2917" stop-color="#726658"/><stop offset="0.3750" stop-color="#716b5d"/><stop offset="0.4583" stop-color="#746e62"/><stop offset="0.5417" stop-color="#757065"/><stop offset="0.6250" stop-color="#676254"/><stop offset="0.7083" stop-color="#72746f"/><stop offset="0.7917" stop-color="#838581"/><stop offset="0.8750" stop-color="#868783"/><stop offset="0.9583" stop-color="#868783"/><stop offset="1" stop-color="#868783"/></linearGradient><linearGradient id="lg37" gradientUnits="userSpaceOnUse" x1="18.0" y1="0" x2="2074.0" y2="0"><stop offset="0" stop-color="#6f5f50"/><stop offset="0.0417" stop-color="#6f5f50"/><stop offset="0.1250" stop-color="#706051"/><stop offset="0.2083" stop-color="#716151"/><stop offset="0.2917" stop-color="#726557"/><stop offset="0.3750" stop-color="#716a5c"/><stop offset="0.4583" stop-color="#736e62"/><stop offset="0.5417" stop-color="#746f63"/><stop offset="0.6250" stop-color="#666254"/><stop offset="0.7083" stop-color="#71736e"/><stop offset="0.7917" stop-color="#81837f"/><stop offset="0.8750" stop-color="#848581"/><stop offset="0.9583" stop-color="#858581"/><stop offset="1" stop-color="#858581"/></linearGradient><linearGradient id="lg38" gradientUnits="userSpaceOnUse" x1="18.0" y1="0" x2="2074.0" y2="0"><stop offset="0" stop-color="#6e5f50"/><stop offset="0.0417" stop-color="#6e5f50"/><stop offset="0.1250" stop-color="#6f5f50"/><stop offset="0.2083" stop-color="#705f50"/><stop offset="0.2917" stop-color="#726456"/><stop offset="0.3750" stop-color="#716a5b"/><stop offset="0.4583" stop-color="#736d61"/><stop offset="0.5417" stop-color="#736d62"/><stop offset="0.6250" stop-color="#666154"/><stop offset="0.7083" stop-color="#6f726d"/><stop offset="0.7917" stop-color="#7e817d"/><stop offset="0.8750" stop-color="#82837e"/><stop offset="0.9583" stop-color="#83847f"/><stop offset="1" stop-color="#83847f"/></linearGradient><linearGradient id="lg39" gradientUnits="userSpaceOnUse" x1="18.0" y1="0" x2="2074.0" y2="0"><stop offset="0" stop-color="#6e5f50"/><stop offset="0.0417" stop-color="#6e5f50"/><stop offset="0.1250" stop-color="#6e5e4f"/><stop offset="0.2083" stop-color="#6e5e4f"/><stop offset="0.2917" stop-color="#726355"/><stop offset="0.3750" stop-color="#70695b"/><stop offset="0.4583" stop-color="#726c60"/><stop offset="0.5417" stop-color="#726c61"/><stop offset="0.6250" stop-color="#656154"/><stop offset="0.7083" stop-color="#6e716b"/><stop offset="0.7917" stop-color="#7b7f7a"/><stop offset="0.8750" stop-color="#80817c"/><stop offset="0.9583" stop-color="#81827d"/><stop offset="1" stop-color="#81827d"/></linearGradient><linearGradient id="lg40" gradientUnits="userSpaceOnUse" x1="18.0" y1="0" x2="2074.0" y2="0"><stop offset="0" stop-color="#6e5f50"/><stop offset="0.0417" stop-color="#6e5f50"/><stop offset="0.1250" stop-color="#6d5d4e"/><stop offset="0.2083" stop-color="#6c5c4d"/><stop offset="0.2917" stop-color="#716254"/><stop offset="0.3750" stop-color="#70685a"/><stop offset="0.4583" stop-color="#716c60"/><stop offset="0.5417" stop-color="#706b5f"/><stop offset="0.6250" stop-color="#656154"/><stop offset="0.7083" stop-color="#6d706a"/><stop offset="0.7917" stop-color="#797e78"/><stop offset="0.8750" stop-color="#7e7f7a"/><stop offset="0.9583" stop-color="#80807a"/><stop offset="1" stop-color="#80807a"/></linearGradient><linearGradient id="lg41" gradientUnits="userSpaceOnUse" x1="18.0" y1="0" x2="2074.0" y2="0"><stop offset="0" stop-color="#6e5f51"/><stop offset="0.0417" stop-color="#6e5f51"/><stop offset="0.1250" stop-color="#6c5c4d"/><stop offset="0.2083" stop-color="#6b5a4c"/><stop offset="0.2917" stop-color="#716153"/><stop offset="0.3750" stop-color="#6f6759"/><stop offset="0.4583" stop-color="#716b5f"/><stop offset="0.5417" stop-color="#6f6a5e"/><stop offset="0.6250" stop-color="#656254"/><stop offset="0.7083" stop-color="#6c6f68"/><stop offset="0.7917" stop-color="#767c76"/><stop offset="0.8750" stop-color="#7c7e78"/><stop offset="0.9583" stop-color="#7e7f78"/><stop offset="1" stop-color="#7e7f78"/></linearGradient><linearGradient id="lg42" gradientUnits="userSpaceOnUse" x1="18.0" y1="0" x2="2074.0" y2="0"><stop offset="0" stop-color="#6e5f51"/><stop offset="0.0417" stop-color="#6e5f51"/><stop offset="0.1250" stop-color="#6b5b4c"/><stop offset="0.2083" stop-color="#69594b"/><stop offset="0.2917" stop-color="#716153"/><stop offset="0.3750" stop-color="#6f6759"/><stop offset="0.4583" stop-color="#706a5e"/><stop offset="0.5417" stop-color="#6f695d"/><stop offset="0.6250" stop-color="#656255"/><stop offset="0.7083" stop-color="#6b6e67"/><stop offset="0.7917" stop-color="#747a74"/><stop offset="0.8750" stop-color="#7a7c76"/><stop offset="0.9583" stop-color="#7c7d77"/><stop offset="1" stop-color="#7c7d77"/></linearGradient><linearGradient id="lg43" gradientUnits="userSpaceOnUse" x1="18.0" y1="0" x2="2074.0" y2="0"><stop offset="0" stop-color="#6e5f51"/><stop offset="0.0417" stop-color="#6e5f51"/><stop offset="0.1250" stop-color="#6a5a4c"/><stop offset="0.2083" stop-color="#68584a"/><stop offset="0.2917" stop-color="#706052"/><stop offset="0.3750" stop-color="#6e6658"/><stop offset="0.4583" stop-color="#706a5e"/><stop offset="0.5417" stop-color="#6e685c"/><stop offset="0.6250" stop-color="#656255"/><stop offset="0.7083" stop-color="#6a6d66"/><stop offset="0.7917" stop-color="#727972"/><stop offset="0.8750" stop-color="#787b74"/><stop offset="0.9583" stop-color="#7b7c75"/><stop offset="1" stop-color="#7b7c75"/></linearGradient><linearGradient id="lg44" gradientUnits="userSpaceOnUse" x1="18.0" y1="0" x2="2074.0" y2="0"><stop offset="0" stop-color="#6d6052"/><stop offset="0.0417" stop-color="#6d6052"/><stop offset="0.1250" stop-color="#69594b"/><stop offset="0.2083" stop-color="#675749"/><stop offset="0.2917" stop-color="#6f5f51"/><stop offset="0.3750" stop-color="#6d6557"/><stop offset="0.4583" stop-color="#6f695d"/><stop offset="0.5417" stop-color="#6d675b"/><stop offset="0.6250" stop-color="#666356"/><stop offset="0.7083" stop-color="#696c65"/><stop offset="0.7917" stop-color="#717871"/><stop offset="0.8750" stop-color="#777a73"/><stop offset="0.9583" stop-color="#7a7b74"/><stop offset="1" stop-color="#7a7b74"/></linearGradient><linearGradient id="lg45" gradientUnits="userSpaceOnUse" x1="18.0" y1="0" x2="2074.0" y2="0"><stop offset="0" stop-color="#6d6052"/><stop offset="0.0417" stop-color="#6d6052"/><stop offset="0.1250" stop-color="#69594b"/><stop offset="0.2083" stop-color="#665749"/><stop offset="0.2917" stop-color="#6e5f51"/><stop offset="0.3750" stop-color="#6c6457"/><stop offset="0.4583" stop-color="#6f695d"/><stop offset="0.5417" stop-color="#6d675b"/><stop offset="0.6250" stop-color="#666357"/><stop offset="0.7083" stop-color="#696c64"/><stop offset="0.7917" stop-color="#707871"/><stop offset="0.8750" stop-color="#767a72"/><stop offset="0.9583" stop-color="#797b73"/><stop offset="1" stop-color="#797b73"/></linearGradient><linearGradient id="lg46" gradientUnits="userSpaceOnUse" x1="18.0" y1="0" x2="2074.0" y2="0"><stop offset="0" stop-color="#6d6052"/><stop offset="0.0417" stop-color="#6d6052"/><stop offset="0.1250" stop-color="#68594b"/><stop offset="0.2083" stop-color="#665749"/><stop offset="0.2917" stop-color="#6c5e50"/><stop offset="0.3750" stop-color="#6b6456"/><stop offset="0.4583" stop-color="#6e695d"/><stop offset="0.5417" stop-color="#6c675a"/><stop offset="0.6250" stop-color="#676458"/><stop offset="0.7083" stop-color="#686b64"/><stop offset="0.7917" stop-color="#707770"/><stop offset="0.8750" stop-color="#757972"/><stop offset="0.9583" stop-color="#787a73"/><stop offset="1" stop-color="#787a73"/></linearGradient><linearGradient id="lg47" gradientUnits="userSpaceOnUse" x1="18.0" y1="0" x2="2074.0" y2="0"><stop offset="0" stop-color="#6c6053"/><stop offset="0.0417" stop-color="#6c6053"/><stop offset="0.1250" stop-color="#67594c"/><stop offset="0.2083" stop-color="#655649"/><stop offset="0.2917" stop-color="#6a5d50"/><stop offset="0.3750" stop-color="#6a6355"/><stop offset="0.4583" stop-color="#6e685c"/><stop offset="0.5417" stop-color="#6c675a"/><stop offset="0.6250" stop-color="#686559"/><stop offset="0.7083" stop-color="#686a63"/><stop offset="0.7917" stop-color="#6f7770"/><stop offset="0.8750" stop-color="#757972"/><stop offset="0.9583" stop-color="#787a73"/><stop offset="1" stop-color="#787a73"/></linearGradient><linearGradient id="lg48" gradientUnits="userSpaceOnUse" x1="18.0" y1="0" x2="2074.0" y2="0"><stop offset="0" stop-color="#6c6053"/><stop offset="0.0417" stop-color="#6c6053"/><stop offset="0.1250" stop-color="#67594c"/><stop offset="0.2083" stop-color="#65574a"/><stop offset="0.2917" stop-color="#685d4f"/><stop offset="0.3750" stop-color="#696254"/><stop offset="0.4583" stop-color="#6d685c"/><stop offset="0.5417" stop-color="#6c675a"/><stop offset="0.6250" stop-color="#6a665a"/><stop offset="0.7083" stop-color="#676a63"/><stop offset="0.7917" stop-color="#6f7770"/><stop offset="0.8750" stop-color="#747972"/><stop offset="0.9583" stop-color="#777a73"/><stop offset="1" stop-color="#777a73"/></linearGradient><linearGradient id="lg49" gradientUnits="userSpaceOnUse" x1="18.0" y1="0" x2="2074.0" y2="0"><stop offset="0" stop-color="#6b6154"/><stop offset="0.0417" stop-color="#6b6154"/><stop offset="0.1250" stop-color="#67594c"/><stop offset="0.2083" stop-color="#64574a"/><stop offset="0.2917" stop-color="#665c4f"/><stop offset="0.3750" stop-color="#686154"/><stop offset="0.4583" stop-color="#6d685c"/><stop offset="0.5417" stop-color="#6c675a"/><stop offset="0.6250" stop-color="#6b685b"/><stop offset="0.7083" stop-color="#676a63"/><stop offset="0.7917" stop-color="#6f7871"/><stop offset="0.8750" stop-color="#747972"/><stop offset="0.9583" stop-color="#777a73"/><stop offset="1" stop-color="#777a73"/></linearGradient><linearGradient id="lg50" gradientUnits="userSpaceOnUse" x1="18.0" y1="0" x2="2074.0" y2="0"><stop offset="0" stop-color="#6b6154"/><stop offset="0.0417" stop-color="#6b6154"/><stop offset="0.1250" stop-color="#66594d"/><stop offset="0.2083" stop-color="#64574a"/><stop offset="0.2917" stop-color="#645c4e"/><stop offset="0.3750" stop-color="#666053"/><stop offset="0.4583" stop-color="#6c685c"/><stop offset="0.5417" stop-color="#6c675a"/><stop offset="0.6250" stop-color="#6c695c"/><stop offset="0.7083" stop-color="#676962"/><stop offset="0.7917" stop-color="#6f7871"/><stop offset="0.8750" stop-color="#737972"/><stop offset="0.9583" stop-color="#767a73"/><stop offset="1" stop-color="#767a73"/></linearGradient><linearGradient id="lg51" gradientUnits="userSpaceOnUse" x1="18.0" y1="0" x2="2074.0" y2="0"><stop offset="0" stop-color="#6a6155"/><stop offset="0.0417" stop-color="#6a6155"/><stop offset="0.1250" stop-color="#66594d"/><stop offset="0.2083" stop-color="#64574b"/><stop offset="0.2917" stop-color="#635b4e"/><stop offset="0.3750" stop-color="#656053"/><stop offset="0.4583" stop-color="#6c685c"/><stop offset="0.5417" stop-color="#6c675a"/><stop offset="0.6250" stop-color="#6d6a5e"/><stop offset="0.7083" stop-color="#676962"/><stop offset="0.7917" stop-color="#6f7871"/><stop offset="0.8750" stop-color="#737972"/><stop offset="0.9583" stop-color="#767a73"/><stop offset="1" stop-color="#767a73"/></linearGradient><linearGradient id="lg52" gradientUnits="userSpaceOnUse" x1="18.0" y1="0" x2="2074.0" y2="0"><stop offset="0" stop-color="#6a6155"/><stop offset="0.0417" stop-color="#6a6155"/><stop offset="0.1250" stop-color="#66594d"/><stop offset="0.2083" stop-color="#64574b"/><stop offset="0.2917" stop-color="#615b4e"/><stop offset="0.3750" stop-color="#645f52"/><stop offset="0.4583" stop-color="#6c685c"/><stop offset="0.5417" stop-color="#6c675a"/><stop offset="0.6250" stop-color="#6f6b5f"/><stop offset="0.7083" stop-color="#676962"/><stop offset="0.7917" stop-color="#707871"/><stop offset="0.8750" stop-color="#737972"/><stop offset="0.9583" stop-color="#767a73"/><stop offset="1" stop-color="#767a73"/></linearGradient><linearGradient id="lg53" gradientUnits="userSpaceOnUse" x1="18.0" y1="0" x2="2074.0" y2="0"><stop offset="0" stop-color="#6a6155"/><stop offset="0.0417" stop-color="#6a6155"/><stop offset="0.1250" stop-color="#66594d"/><stop offset="0.2083" stop-color="#64574b"/><stop offset="0.2917" stop-color="#605b4e"/><stop offset="0.3750" stop-color="#645f52"/><stop offset="0.4583" stop-color="#6c685c"/><stop offset="0.5417" stop-color="#6c675b"/><stop offset="0.6250" stop-color="#6f6b5f"/><stop offset="0.7083" stop-color="#676962"/><stop offset="0.7917" stop-color="#707871"/><stop offset="0.8750" stop-color="#737a73"/><stop offset="0.9583" stop-color="#767b74"/><stop offset="1" stop-color="#767b74"/></linearGradient><linearGradient id="lg54" gradientUnits="userSpaceOnUse" x1="18.0" y1="0" x2="2074.0" y2="0"><stop offset="0" stop-color="#696256"/><stop offset="0.0417" stop-color="#696256"/><stop offset="0.1250" stop-color="#655a4e"/><stop offset="0.2083" stop-color="#63584c"/><stop offset="0.2917" stop-color="#5f5a4d"/><stop offset="0.3750" stop-color="#635e51"/><stop offset="0.4583" stop-color="#6b675b"/><stop offset="0.5417" stop-color="#6b685a"/><stop offset="0.6250" stop-color="#706c60"/><stop offset="0.7083" stop-color="#666861"/><stop offset="0.7917" stop-color="#6f7972"/><stop offset="0.8750" stop-color="#727972"/><stop offset="0.9583" stop-color="#757a73"/><stop offset="1" stop-color="#757a73"/></linearGradient><linearGradient id="lg55" gradientUnits="userSpaceOnUse" x1="18.0" y1="0" x2="2074.0" y2="0"><stop offset="0" stop-color="#696256"/><stop offset="0.0417" stop-color="#696256"/><stop offset="0.1250" stop-color="#655a4e"/><stop offset="0.2083" stop-color="#63584c"/><stop offset="0.2917" stop-color="#5f5a4d"/><stop offset="0.3750" stop-color="#635e51"/><stop offset="0.4583" stop-color="#6b675b"/><stop offset="0.5417" stop-color="#6b685a"/><stop offset="0.6250" stop-color="#706c60"/><stop offset="0.7083" stop-color="#666861"/><stop offset="0.7917" stop-color="#6f7972"/><stop offset="0.8750" stop-color="#727972"/><stop offset="0.9583" stop-color="#757a73"/><stop offset="1" stop-color="#757a73"/></linearGradient><linearGradient id="lg56" gradientUnits="userSpaceOnUse" x1="18.0" y1="0" x2="2074.0" y2="0"><stop offset="0" stop-color="#696256"/><stop offset="0.0417" stop-color="#696256"/><stop offset="0.1250" stop-color="#655a4e"/><stop offset="0.2083" stop-color="#63584c"/><stop offset="0.2917" stop-color="#5e5a4d"/><stop offset="0.3750" stop-color="#635e51"/><stop offset="0.4583" stop-color="#6b675b"/><stop offset="0.5417" stop-color="#6b685a"/><stop offset="0.6250" stop-color="#706c60"/><stop offset="0.7083" stop-color="#666861"/><stop offset="0.7917" stop-color="#6f7972"/><stop offset="0.8750" stop-color="#727972"/><stop offset="0.9583" stop-color="#757a73"/><stop offset="1" stop-color="#757a73"/></linearGradient><linearGradient id="lg57" gradientUnits="userSpaceOnUse" x1="18.0" y1="0" x2="2074.0" y2="0"><stop offset="0" stop-color="#696256"/><stop offset="0.0417" stop-color="#696256"/><stop offset="0.1250" stop-color="#655a4e"/><stop offset="0.2083" stop-color="#63584c"/><stop offset="0.2917" stop-color="#5e5a4d"/><stop offset="0.3750" stop-color="#635e51"/><stop offset="0.4583" stop-color="#6b675b"/><stop offset="0.5417" stop-color="#6b685a"/><stop offset="0.6250" stop-color="#706c60"/><stop offset="0.7083" stop-color="#666861"/><stop offset="0.7917" stop-color="#6f7972"/><stop offset="0.8750" stop-color="#727972"/><stop offset="0.9583" stop-color="#757a73"/><stop offset="1" stop-color="#757a73"/></linearGradient><linearGradient id="lg58" gradientUnits="userSpaceOnUse" x1="18.0" y1="0" x2="2074.0" y2="0"><stop offset="0" stop-color="#696256"/><stop offset="0.0417" stop-color="#696256"/><stop offset="0.1250" stop-color="#655a4e"/><stop offset="0.2083" stop-color="#63584c"/><stop offset="0.2917" stop-color="#5e5a4d"/><stop offset="0.3750" stop-color="#635e51"/><stop offset="0.4583" stop-color="#6b675b"/><stop offset="0.5417" stop-color="#6b685a"/><stop offset="0.6250" stop-color="#706c60"/><stop offset="0.7083" stop-color="#666861"/><stop offset="0.7917" stop-color="#6f7972"/><stop offset="0.8750" stop-color="#727972"/><stop offset="0.9583" stop-color="#757a73"/><stop offset="1" stop-color="#757a73"/></linearGradient></defs>
<defs>
<clipPath id="mapclip"><rect x="18" y="2199" width="2056" height="940"/></clipPath>
<clipPath id="landclip"><path d="M437.0,2199.0 C440.0,2201.7 447.8,2207.3 455.0,2215.0 C462.2,2222.7 471.7,2236.2 480.0,2245.0 C488.3,2253.8 496.3,2261.0 505.0,2268.0 C513.7,2275.0 522.0,2280.5 532.0,2287.0 C542.0,2293.5 554.0,2302.0 565.0,2307.0 C576.0,2312.0 587.2,2313.7 598.0,2317.0 C608.8,2320.3 619.2,2324.3 630.0,2327.0 C640.8,2329.7 653.7,2330.3 663.0,2333.0 C672.3,2335.7 677.2,2340.2 686.0,2343.0 C694.8,2345.8 706.2,2350.0 716.0,2350.0 C725.8,2350.0 736.3,2345.2 745.0,2343.0 C753.7,2340.8 759.8,2337.5 768.0,2337.0 C776.2,2336.5 788.0,2333.5 794.0,2340.0 C800.0,2346.5 798.5,2366.2 804.0,2376.0 C809.5,2385.8 817.7,2392.5 827.0,2399.0 C836.3,2405.5 850.2,2410.7 860.0,2415.0 C869.8,2419.3 875.2,2423.8 886.0,2425.0 C896.8,2426.2 914.7,2423.8 925.0,2422.0 C935.3,2420.2 942.8,2412.3 948.0,2414.0 C953.2,2415.7 951.5,2424.7 956.0,2432.0 C960.5,2439.3 967.5,2451.5 975.0,2458.0 C982.5,2464.5 989.2,2463.8 1001.0,2471.0 C1012.8,2478.2 1033.0,2491.8 1046.0,2501.0 C1059.0,2510.2 1068.0,2519.5 1079.0,2526.0 C1090.0,2532.5 1101.2,2536.2 1112.0,2540.0 C1122.8,2543.8 1133.2,2545.8 1144.0,2549.0 C1154.8,2552.2 1166.0,2554.0 1177.0,2559.0 C1188.0,2564.0 1199.0,2573.5 1210.0,2579.0 C1221.0,2584.5 1232.2,2588.7 1243.0,2592.0 C1253.8,2595.3 1264.2,2596.8 1275.0,2599.0 C1285.8,2601.2 1299.7,2601.8 1308.0,2605.0 C1316.3,2608.2 1319.5,2613.0 1325.0,2618.0 C1330.5,2623.0 1332.8,2628.3 1341.0,2635.0 C1349.2,2641.7 1364.2,2652.3 1374.0,2658.0 C1383.8,2663.7 1389.2,2661.7 1400.0,2669.0 C1410.8,2676.3 1427.0,2694.3 1439.0,2702.0 C1451.0,2709.7 1462.7,2709.5 1472.0,2715.0 C1481.3,2720.5 1489.5,2730.7 1495.0,2735.0 C1500.5,2739.3 1499.2,2740.2 1505.0,2741.0 C1510.8,2741.8 1520.8,2739.2 1530.0,2740.0 C1539.2,2740.8 1549.5,2743.7 1560.0,2746.0 C1570.5,2748.3 1582.0,2751.5 1593.0,2754.0 C1604.0,2756.5 1615.2,2757.7 1626.0,2761.0 C1636.8,2764.3 1649.8,2769.7 1658.0,2774.0 C1666.2,2778.3 1667.3,2782.7 1675.0,2787.0 C1682.7,2791.3 1695.8,2795.2 1704.0,2800.0 C1712.2,2804.8 1715.2,2811.7 1724.0,2816.0 C1732.8,2820.3 1746.0,2822.0 1757.0,2826.0 C1768.0,2830.0 1779.2,2835.5 1790.0,2840.0 C1800.8,2844.5 1811.2,2849.3 1822.0,2853.0 C1832.8,2856.7 1844.0,2859.8 1855.0,2862.0 C1866.0,2864.2 1877.0,2863.2 1888.0,2866.0 C1899.0,2868.8 1910.2,2875.2 1921.0,2879.0 C1931.8,2882.8 1942.2,2885.8 1953.0,2889.0 C1963.8,2892.2 1975.0,2895.3 1986.0,2898.0 C1997.0,2900.7 2008.0,2902.7 2019.0,2905.0 C2030.0,2907.3 2042.8,2909.8 2052.0,2912.0 C2061.2,2914.2 2070.3,2917.0 2074.0,2918.0 L2074,3139 L18,3139 L18,2199 Z"/></clipPath>
<clipPath id="seaclip"><path d="M437.0,2199.0 C440.0,2201.7 447.8,2207.3 455.0,2215.0 C462.2,2222.7 471.7,2236.2 480.0,2245.0 C488.3,2253.8 496.3,2261.0 505.0,2268.0 C513.7,2275.0 522.0,2280.5 532.0,2287.0 C542.0,2293.5 554.0,2302.0 565.0,2307.0 C576.0,2312.0 587.2,2313.7 598.0,2317.0 C608.8,2320.3 619.2,2324.3 630.0,2327.0 C640.8,2329.7 653.7,2330.3 663.0,2333.0 C672.3,2335.7 677.2,2340.2 686.0,2343.0 C694.8,2345.8 706.2,2350.0 716.0,2350.0 C725.8,2350.0 736.3,2345.2 745.0,2343.0 C753.7,2340.8 759.8,2337.5 768.0,2337.0 C776.2,2336.5 788.0,2333.5 794.0,2340.0 C800.0,2346.5 798.5,2366.2 804.0,2376.0 C809.5,2385.8 817.7,2392.5 827.0,2399.0 C836.3,2405.5 850.2,2410.7 860.0,2415.0 C869.8,2419.3 875.2,2423.8 886.0,2425.0 C896.8,2426.2 914.7,2423.8 925.0,2422.0 C935.3,2420.2 942.8,2412.3 948.0,2414.0 C953.2,2415.7 951.5,2424.7 956.0,2432.0 C960.5,2439.3 967.5,2451.5 975.0,2458.0 C982.5,2464.5 989.2,2463.8 1001.0,2471.0 C1012.8,2478.2 1033.0,2491.8 1046.0,2501.0 C1059.0,2510.2 1068.0,2519.5 1079.0,2526.0 C1090.0,2532.5 1101.2,2536.2 1112.0,2540.0 C1122.8,2543.8 1133.2,2545.8 1144.0,2549.0 C1154.8,2552.2 1166.0,2554.0 1177.0,2559.0 C1188.0,2564.0 1199.0,2573.5 1210.0,2579.0 C1221.0,2584.5 1232.2,2588.7 1243.0,2592.0 C1253.8,2595.3 1264.2,2596.8 1275.0,2599.0 C1285.8,2601.2 1299.7,2601.8 1308.0,2605.0 C1316.3,2608.2 1319.5,2613.0 1325.0,2618.0 C1330.5,2623.0 1332.8,2628.3 1341.0,2635.0 C1349.2,2641.7 1364.2,2652.3 1374.0,2658.0 C1383.8,2663.7 1389.2,2661.7 1400.0,2669.0 C1410.8,2676.3 1427.0,2694.3 1439.0,2702.0 C1451.0,2709.7 1462.7,2709.5 1472.0,2715.0 C1481.3,2720.5 1489.5,2730.7 1495.0,2735.0 C1500.5,2739.3 1499.2,2740.2 1505.0,2741.0 C1510.8,2741.8 1520.8,2739.2 1530.0,2740.0 C1539.2,2740.8 1549.5,2743.7 1560.0,2746.0 C1570.5,2748.3 1582.0,2751.5 1593.0,2754.0 C1604.0,2756.5 1615.2,2757.7 1626.0,2761.0 C1636.8,2764.3 1649.8,2769.7 1658.0,2774.0 C1666.2,2778.3 1667.3,2782.7 1675.0,2787.0 C1682.7,2791.3 1695.8,2795.2 1704.0,2800.0 C1712.2,2804.8 1715.2,2811.7 1724.0,2816.0 C1732.8,2820.3 1746.0,2822.0 1757.0,2826.0 C1768.0,2830.0 1779.2,2835.5 1790.0,2840.0 C1800.8,2844.5 1811.2,2849.3 1822.0,2853.0 C1832.8,2856.7 1844.0,2859.8 1855.0,2862.0 C1866.0,2864.2 1877.0,2863.2 1888.0,2866.0 C1899.0,2868.8 1910.2,2875.2 1921.0,2879.0 C1931.8,2882.8 1942.2,2885.8 1953.0,2889.0 C1963.8,2892.2 1975.0,2895.3 1986.0,2898.0 C1997.0,2900.7 2008.0,2902.7 2019.0,2905.0 C2030.0,2907.3 2042.8,2909.8 2052.0,2912.0 C2061.2,2914.2 2070.3,2917.0 2074.0,2918.0 L2074,2199 Z"/></clipPath>
<filter id="blur40" x="-20%" y="-20%" width="140%" height="140%"><feGaussianBlur stdDeviation="40"/></filter>
<filter id="blurG" x="-10%" y="-10%" width="120%" height="120%"><feGaussianBlur stdDeviation="55"/></filter>
<filter id="blur20" x="-20%" y="-20%" width="140%" height="140%"><feGaussianBlur stdDeviation="20"/></filter>
<filter id="blur10" x="-20%" y="-20%" width="140%" height="140%"><feGaussianBlur stdDeviation="10"/></filter>
<filter id="blur5" x="-20%" y="-20%" width="140%" height="140%"><feGaussianBlur stdDeviation="5"/></filter>
<filter id="blur2"><feGaussianBlur stdDeviation="2"/></filter>
<filter id="landtex" x="-12" y="2169" width="2116" height="1000" filterUnits="userSpaceOnUse" color-interpolation-filters="sRGB">
<feGaussianBlur in="SourceGraphic" stdDeviation="5" result="base"/>
<feTurbulence type="fractalNoise" baseFrequency="0.07 0.09" numOctaves="2" seed="5" result="t1"/>
<feColorMatrix in="t1" type="matrix" values="0 1 0 0 0  0 1 0 0 0  0 1 0 0 0  0 0 0 0 1" result="gg"/>
<feComponentTransfer in="gg" result="hue"><feFuncR type="discrete" tableValues="0.359 0.359 0.359 0.359 0.359 0.359 0.359 0.359 0.359 0.359 0.359 0.359 0.437 0.437 0.500 0.500 0.594 0.594 0.633 0.633 0.531 0.531 0.531 0.531 0.531 0.531 0.531 0.531 0.531 0.531 0.531 0.531"/><feFuncG type="discrete" tableValues="0.390 0.390 0.390 0.390 0.390 0.390 0.390 0.390 0.390 0.390 0.390 0.390 0.500 0.500 0.500 0.500 0.547 0.547 0.469 0.469 0.406 0.406 0.406 0.406 0.406 0.406 0.406 0.406 0.406 0.406 0.406 0.406"/><feFuncB type="discrete" tableValues="0.343 0.343 0.343 0.343 0.343 0.343 0.343 0.343 0.343 0.343 0.343 0.343 0.422 0.422 0.484 0.484 0.469 0.469 0.406 0.406 0.367 0.367 0.367 0.367 0.367 0.367 0.367 0.367 0.367 0.367 0.367 0.367"/></feComponentTransfer>
<feTurbulence type="fractalNoise" baseFrequency="0.09 0.07" numOctaves="2" seed="17" result="t3"/>
<feColorMatrix in="t3" type="matrix" values="1 0 0 0 0  1 0 0 0 0  1 0 0 0 0  0 0 0 0 1" result="ll"/>
<feComponentTransfer in="ll" result="lum"><feFuncR type="discrete" tableValues="0.343 0.343 0.343 0.343 0.343 0.343 0.343 0.343 0.343 0.343 0.343 0.343 0.429 0.429 0.476 0.476 0.524 0.524 0.571 0.571 0.657 0.657 0.657 0.657 0.657 0.657 0.657 0.657 0.657 0.657 0.657 0.657"/><feFuncG type="discrete" tableValues="0.343 0.343 0.343 0.343 0.343 0.343 0.343 0.343 0.343 0.343 0.343 0.343 0.429 0.429 0.476 0.476 0.524 0.524 0.571 0.571 0.657 0.657 0.657 0.657 0.657 0.657 0.657 0.657 0.657 0.657 0.657 0.657"/><feFuncB type="discrete" tableValues="0.343 0.343 0.343 0.343 0.343 0.343 0.343 0.343 0.343 0.343 0.343 0.343 0.429 0.429 0.476 0.476 0.524 0.524 0.571 0.571 0.657 0.657 0.657 0.657 0.657 0.657 0.657 0.657 0.657 0.657 0.657 0.657"/></feComponentTransfer>
<feTurbulence type="fractalNoise" baseFrequency="0.2" numOctaves="2" seed="11" result="t2"/>
<feColorMatrix in="t2" type="matrix" values="1 0 0 0 0  1 0 0 0 0  1 0 0 0 0  0 0 0 0 1" result="g2"/>
<feComposite in="base" in2="hue" operator="arithmetic" k1="0" k2="1" k3="0.5" k4="-0.25" result="b1"/>
<feComposite in="b1" in2="lum" operator="arithmetic" k1="0" k2="1" k3="0.5" k4="-0.25" result="b2"/>
<feComposite in="b2" in2="g2" operator="arithmetic" k1="0" k2="1" k3="0.22" k4="-0.11"/>
</filter>
<filter id="urbtex" x="-12" y="2169" width="2116" height="1000" filterUnits="userSpaceOnUse" color-interpolation-filters="sRGB">
<feTurbulence type="fractalNoise" baseFrequency="0.025" numOctaves="3" seed="8" result="dn"/>
<feDisplacementMap in="SourceGraphic" in2="dn" scale="90" xChannelSelector="R" yChannelSelector="G" result="disp"/>
<feGaussianBlur in="disp" stdDeviation="7" result="base"/>
<feTurbulence type="fractalNoise" baseFrequency="0.11" numOctaves="2" seed="3" result="t1"/>
<feComponentTransfer in="t1" result="p1">
<feFuncR type="discrete" tableValues="0.1 0.15 0.25 0.4 0.5 0.6 0.75 0.85 0.9"/>
<feFuncG type="discrete" tableValues="0.2 0.35 0.5 0.65 0.8"/>
</feComponentTransfer>
<feColorMatrix in="p1" type="matrix" values="1 0.1 0 0 -0.05  1 0 0 0 0  1 -0.2 0 0 0.1  0 0 0 0 1" result="cn"/>
<feComposite in="base" in2="cn" operator="arithmetic" k1="0" k2="1" k3="0.5" k4="-0.25" result="b2"/>
<feComposite in="b2" in2="base" operator="in"/>
</filter>
</defs>
<g clip-path="url(#mapclip)">
<g filter="url(#landtex)">
<rect x="-12.0" y="2169.0" width="2116.0" height="46.6" fill="url(#lg0)"/>
<rect x="-12.0" y="2214.4" width="2116.0" height="17.2" fill="url(#lg1)"/>
<rect x="-12.0" y="2230.4" width="2116.0" height="17.2" fill="url(#lg2)"/>
<rect x="-12.0" y="2246.4" width="2116.0" height="17.2" fill="url(#lg3)"/>
<rect x="-12.0" y="2262.4" width="2116.0" height="17.2" fill="url(#lg4)"/>
<rect x="-12.0" y="2278.4" width="2116.0" height="17.2" fill="url(#lg5)"/>
<rect x="-12.0" y="2294.4" width="2116.0" height="17.2" fill="url(#lg6)"/>
<rect x="-12.0" y="2310.4" width="2116.0" height="17.2" fill="url(#lg7)"/>
<rect x="-12.0" y="2326.4" width="2116.0" height="17.2" fill="url(#lg8)"/>
<rect x="-12.0" y="2342.4" width="2116.0" height="17.2" fill="url(#lg9)"/>
<rect x="-12.0" y="2358.4" width="2116.0" height="17.2" fill="url(#lg10)"/>
<rect x="-12.0" y="2374.4" width="2116.0" height="17.2" fill="url(#lg11)"/>
<rect x="-12.0" y="2390.4" width="2116.0" height="17.2" fill="url(#lg12)"/>
<rect x="-12.0" y="2406.4" width="2116.0" height="17.2" fill="url(#lg13)"/>
<rect x="-12.0" y="2422.4" width="2116.0" height="17.2" fill="url(#lg14)"/>
<rect x="-12.0" y="2438.4" width="2116.0" height="17.2" fill="url(#lg15)"/>
<rect x="-12.0" y="2454.4" width="2116.0" height="17.2" fill="url(#lg16)"/>
<rect x="-12.0" y="2470.4" width="2116.0" height="17.2" fill="url(#lg17)"/>
<rect x="-12.0" y="2486.4" width="2116.0" height="17.2" fill="url(#lg18)"/>
<rect x="-12.0" y="2502.4" width="2116.0" height="17.2" fill="url(#lg19)"/>
<rect x="-12.0" y="2518.4" width="2116.0" height="17.2" fill="url(#lg20)"/>
<rect x="-12.0" y="2534.4" width="2116.0" height="17.2" fill="url(#lg21)"/>
<rect x="-12.0" y="2550.4" width="2116.0" height="17.2" fill="url(#lg22)"/>
<rect x="-12.0" y="2566.4" width="2116.0" height="17.2" fill="url(#lg23)"/>
<rect x="-12.0" y="2582.4" width="2116.0" height="17.2" fill="url(#lg24)"/>
<rect x="-12.0" y="2598.4" width="2116.0" height="17.2" fill="url(#lg25)"/>
<rect x="-12.0" y="2614.4" width="2116.0" height="17.2" fill="url(#lg26)"/>
<rect x="-12.0" y="2630.4" width="2116.0" height="17.2" fill="url(#lg27)"/>
<rect x="-12.0" y="2646.4" width="2116.0" height="17.2" fill="url(#lg28)"/>
<rect x="-12.0" y="2662.4" width="2116.0" height="17.2" fill="url(#lg29)"/>
<rect x="-12.0" y="2678.4" width="2116.0" height="17.2" fill="url(#lg30)"/>
<rect x="-12.0" y="2694.4" width="2116.0" height="17.2" fill="url(#lg31)"/>
<rect x="-12.0" y="2710.4" width="2116.0" height="17.2" fill="url(#lg32)"/>
<rect x="-12.0" y="2726.4" width="2116.0" height="17.2" fill="url(#lg33)"/>
<rect x="-12.0" y="2742.4" width="2116.0" height="17.2" fill="url(#lg34)"/>
<rect x="-12.0" y="2758.4" width="2116.0" height="17.2" fill="url(#lg35)"/>
<rect x="-12.0" y="2774.4" width="2116.0" height="17.2" fill="url(#lg36)"/>
<rect x="-12.0" y="2790.4" width="2116.0" height="17.2" fill="url(#lg37)"/>
<rect x="-12.0" y="2806.4" width="2116.0" height="17.2" fill="url(#lg38)"/>
<rect x="-12.0" y="2822.4" width="2116.0" height="17.2" fill="url(#lg39)"/>
<rect x="-12.0" y="2838.4" width="2116.0" height="17.2" fill="url(#lg40)"/>
<rect x="-12.0" y="2854.4" width="2116.0" height="17.2" fill="url(#lg41)"/>
<rect x="-12.0" y="2870.4" width="2116.0" height="17.2" fill="url(#lg42)"/>
<rect x="-12.0" y="2886.4" width="2116.0" height="17.2" fill="url(#lg43)"/>
<rect x="-12.0" y="2902.4" width="2116.0" height="17.2" fill="url(#lg44)"/>
<rect x="-12.0" y="2918.4" width="2116.0" height="17.2" fill="url(#lg45)"/>
<rect x="-12.0" y="2934.4" width="2116.0" height="17.2" fill="url(#lg46)"/>
<rect x="-12.0" y="2950.4" width="2116.0" height="17.2" fill="url(#lg47)"/>
<rect x="-12.0" y="2966.4" width="2116.0" height="17.2" fill="url(#lg48)"/>
<rect x="-12.0" y="2982.4" width="2116.0" height="17.2" fill="url(#lg49)"/>
<rect x="-12.0" y="2998.4" width="2116.0" height="17.2" fill="url(#lg50)"/>
<rect x="-12.0" y="3014.4" width="2116.0" height="17.2" fill="url(#lg51)"/>
<rect x="-12.0" y="3030.4" width="2116.0" height="17.2" fill="url(#lg52)"/>
<rect x="-12.0" y="3046.4" width="2116.0" height="17.2" fill="url(#lg53)"/>
<rect x="-12.0" y="3062.4" width="2116.0" height="17.2" fill="url(#lg54)"/>
<rect x="-12.0" y="3078.4" width="2116.0" height="17.2" fill="url(#lg55)"/>
<rect x="-12.0" y="3094.4" width="2116.0" height="17.2" fill="url(#lg56)"/>
<rect x="-12.0" y="3110.4" width="2116.0" height="17.2" fill="url(#lg57)"/>
<rect x="-12.0" y="3126.4" width="2116.0" height="42.6" fill="url(#lg58)"/>
</g>
<g filter="url(#urbtex)" opacity="0.66">
<polygon points="346.0,2363.0 450.0,2350.0 532.0,2370.0 600.0,2395.0 640.0,2440.0 645.0,2600.0 600.0,2670.0 545.0,2725.0 450.0,2740.0 320.0,2712.0 215.0,2690.0 180.0,2620.0 201.0,2513.0 300.0,2505.0 346.0,2460.0" fill="#a6adb7"/>
<polygon points="300.0,2199.0 437.0,2199.0 500.0,2268.0 560.0,2300.0 640.0,2330.0 700.0,2345.0 660.0,2410.0 600.0,2395.0 532.0,2370.0 450.0,2350.0 346.0,2363.0 330.0,2300.0" fill="#a09fa0"/>
<polygon points="640.0,2330.0 700.0,2345.0 760.0,2340.0 800.0,2378.0 860.0,2416.0 925.0,2424.0 950.0,2414.0 975.0,2458.0 1046.0,2501.0 1132.0,2540.0 1198.0,2592.0 1172.0,2671.0 1106.0,2750.0 1046.0,2800.0 960.0,2810.0 870.0,2800.0 826.0,2700.0 810.0,2560.0 760.0,2530.0 680.0,2520.0 640.0,2480.0 620.0,2400.0" fill="#939aa3"/>
<polygon points="293.0,2710.0 372.0,2697.0 411.0,2750.0 398.0,2842.0 320.0,2855.0 280.0,2789.0" fill="#a4a4aa"/>
<polygon points="818.0,2842.0 936.0,2828.0 962.0,2933.0 910.0,2986.0 831.0,2973.0 805.0,2907.0" fill="#a2a4a8"/>
<polygon points="1159.0,2946.0 1303.0,2933.0 1329.0,2999.0 1251.0,3038.0 1159.0,3012.0" fill="#a0a2a4"/>
<polygon points="1696.0,2933.0 1762.0,2946.0 1762.0,2999.0 1703.0,2999.0" fill="#9a9c9e"/>
<polygon points="1198.0,2592.0 1300.0,2606.0 1380.0,2660.0 1440.0,2700.0 1500.0,2738.0 1560.0,2746.0 1700.0,2800.0 1760.0,2826.0 1900.0,2872.0 2074.0,2918.0 2074.0,2950.0 1900.0,2905.0 1750.0,2860.0 1600.0,2790.0 1450.0,2760.0 1330.0,2700.0 1240.0,2660.0" fill="#a09c96"/>
</g>
<g clip-path="url(#seaclip)">
<defs><linearGradient id="seaperp" gradientUnits="userSpaceOnUse" x1="1150" y1="2560" x2="2074" y2="2199">
<stop offset="0" stop-color="#0b2a50"/><stop offset="0.2" stop-color="#0f2f5c"/><stop offset="0.4" stop-color="#22417b"/>
<stop offset="0.6" stop-color="#32528e"/><stop offset="0.8" stop-color="#3a5a98"/><stop offset="1" stop-color="#3e5e9e"/>
</linearGradient>
<radialGradient id="seaNW" gradientUnits="userSpaceOnUse" cx="620" cy="2240" r="420">
<stop offset="0" stop-color="#175b72" stop-opacity="1"/><stop offset="0.55" stop-color="#145068" stop-opacity="0.85"/><stop offset="1" stop-color="#0e3558" stop-opacity="0"/>
</radialGradient>
<radialGradient id="seaDark" gradientUnits="userSpaceOnUse" cx="1430" cy="2570" r="160">
<stop offset="0" stop-color="#061d3c" stop-opacity="0.9"/><stop offset="1" stop-color="#061d3c" stop-opacity="0"/>
</radialGradient>
<radialGradient id="seaTR" gradientUnits="userSpaceOnUse" cx="2074" cy="2199" r="520">
<stop offset="0" stop-color="#3f60a2" stop-opacity="0.5"/><stop offset="1" stop-color="#3f60a2" stop-opacity="0"/>
</radialGradient></defs>
<rect x="18" y="2199" width="2056" height="940" fill="url(#seaperp)"/>
<rect x="18" y="2199" width="2056" height="940" fill="url(#seaTR)"/>
<rect x="18" y="2199" width="2056" height="940" fill="url(#seaNW)"/>
<rect x="18" y="2199" width="2056" height="940" fill="url(#seaDark)"/>
<path d="M437.0,2199.0 C440.0,2201.7 447.8,2207.3 455.0,2215.0 C462.2,2222.7 471.7,2236.2 480.0,2245.0 C488.3,2253.8 496.3,2261.0 505.0,2268.0 C513.7,2275.0 522.0,2280.5 532.0,2287.0 C542.0,2293.5 554.0,2302.0 565.0,2307.0 C576.0,2312.0 587.2,2313.7 598.0,2317.0 C608.8,2320.3 619.2,2324.3 630.0,2327.0 C640.8,2329.7 653.7,2330.3 663.0,2333.0 C672.3,2335.7 677.2,2340.2 686.0,2343.0 C694.8,2345.8 706.2,2350.0 716.0,2350.0 C725.8,2350.0 736.3,2345.2 745.0,2343.0 C753.7,2340.8 759.8,2337.5 768.0,2337.0 C776.2,2336.5 788.0,2333.5 794.0,2340.0 C800.0,2346.5 798.5,2366.2 804.0,2376.0 C809.5,2385.8 817.7,2392.5 827.0,2399.0 C836.3,2405.5 850.2,2410.7 860.0,2415.0 C869.8,2419.3 875.2,2423.8 886.0,2425.0 C896.8,2426.2 914.7,2423.8 925.0,2422.0 C935.3,2420.2 942.8,2412.3 948.0,2414.0 C953.2,2415.7 951.5,2424.7 956.0,2432.0 C960.5,2439.3 967.5,2451.5 975.0,2458.0 C982.5,2464.5 989.2,2463.8 1001.0,2471.0 C1012.8,2478.2 1033.0,2491.8 1046.0,2501.0 C1059.0,2510.2 1068.0,2519.5 1079.0,2526.0 C1090.0,2532.5 1101.2,2536.2 1112.0,2540.0 C1122.8,2543.8 1133.2,2545.8 1144.0,2549.0 C1154.8,2552.2 1166.0,2554.0 1177.0,2559.0 C1188.0,2564.0 1199.0,2573.5 1210.0,2579.0 C1221.0,2584.5 1232.2,2588.7 1243.0,2592.0 C1253.8,2595.3 1264.2,2596.8 1275.0,2599.0 C1285.8,2601.2 1299.7,2601.8 1308.0,2605.0 C1316.3,2608.2 1319.5,2613.0 1325.0,2618.0 C1330.5,2623.0 1332.8,2628.3 1341.0,2635.0 C1349.2,2641.7 1364.2,2652.3 1374.0,2658.0 C1383.8,2663.7 1389.2,2661.7 1400.0,2669.0 C1410.8,2676.3 1427.0,2694.3 1439.0,2702.0 C1451.0,2709.7 1462.7,2709.5 1472.0,2715.0 C1481.3,2720.5 1489.5,2730.7 1495.0,2735.0 C1500.5,2739.3 1499.2,2740.2 1505.0,2741.0 C1510.8,2741.8 1520.8,2739.2 1530.0,2740.0 C1539.2,2740.8 1549.5,2743.7 1560.0,2746.0 C1570.5,2748.3 1582.0,2751.5 1593.0,2754.0 C1604.0,2756.5 1615.2,2757.7 1626.0,2761.0 C1636.8,2764.3 1649.8,2769.7 1658.0,2774.0 C1666.2,2778.3 1667.3,2782.7 1675.0,2787.0 C1682.7,2791.3 1695.8,2795.2 1704.0,2800.0 C1712.2,2804.8 1715.2,2811.7 1724.0,2816.0 C1732.8,2820.3 1746.0,2822.0 1757.0,2826.0 C1768.0,2830.0 1779.2,2835.5 1790.0,2840.0 C1800.8,2844.5 1811.2,2849.3 1822.0,2853.0 C1832.8,2856.7 1844.0,2859.8 1855.0,2862.0 C1866.0,2864.2 1877.0,2863.2 1888.0,2866.0 C1899.0,2868.8 1910.2,2875.2 1921.0,2879.0 C1931.8,2882.8 1942.2,2885.8 1953.0,2889.0 C1963.8,2892.2 1975.0,2895.3 1986.0,2898.0 C1997.0,2900.7 2008.0,2902.7 2019.0,2905.0 C2030.0,2907.3 2042.8,2909.8 2052.0,2912.0 C2061.2,2914.2 2070.3,2917.0 2074.0,2918.0" fill="none" stroke="#08223f" stroke-width="260" filter="url(#blur40)" opacity="0.45"/>
<path d="M437.0,2199.0 C440.0,2201.7 447.8,2207.3 455.0,2215.0 C462.2,2222.7 471.7,2236.2 480.0,2245.0 C488.3,2253.8 496.3,2261.0 505.0,2268.0 C513.7,2275.0 522.0,2280.5 532.0,2287.0 C542.0,2293.5 554.0,2302.0 565.0,2307.0 C576.0,2312.0 587.2,2313.7 598.0,2317.0 C608.8,2320.3 619.2,2324.3 630.0,2327.0 C640.8,2329.7 653.7,2330.3 663.0,2333.0 C672.3,2335.7 677.2,2340.2 686.0,2343.0 C694.8,2345.8 706.2,2350.0 716.0,2350.0 C725.8,2350.0 736.3,2345.2 745.0,2343.0 C753.7,2340.8 759.8,2337.5 768.0,2337.0 C776.2,2336.5 788.0,2333.5 794.0,2340.0 C800.0,2346.5 798.5,2366.2 804.0,2376.0 C809.5,2385.8 817.7,2392.5 827.0,2399.0 C836.3,2405.5 850.2,2410.7 860.0,2415.0 C869.8,2419.3 875.2,2423.8 886.0,2425.0 C896.8,2426.2 914.7,2423.8 925.0,2422.0 C935.3,2420.2 942.8,2412.3 948.0,2414.0 C953.2,2415.7 951.5,2424.7 956.0,2432.0 C960.5,2439.3 967.5,2451.5 975.0,2458.0 C982.5,2464.5 989.2,2463.8 1001.0,2471.0 C1012.8,2478.2 1033.0,2491.8 1046.0,2501.0 C1059.0,2510.2 1068.0,2519.5 1079.0,2526.0 C1090.0,2532.5 1101.2,2536.2 1112.0,2540.0 C1122.8,2543.8 1133.2,2545.8 1144.0,2549.0 C1154.8,2552.2 1166.0,2554.0 1177.0,2559.0 C1188.0,2564.0 1199.0,2573.5 1210.0,2579.0 C1221.0,2584.5 1232.2,2588.7 1243.0,2592.0 C1253.8,2595.3 1264.2,2596.8 1275.0,2599.0 C1285.8,2601.2 1299.7,2601.8 1308.0,2605.0 C1316.3,2608.2 1319.5,2613.0 1325.0,2618.0 C1330.5,2623.0 1332.8,2628.3 1341.0,2635.0 C1349.2,2641.7 1364.2,2652.3 1374.0,2658.0 C1383.8,2663.7 1389.2,2661.7 1400.0,2669.0 C1410.8,2676.3 1427.0,2694.3 1439.0,2702.0 C1451.0,2709.7 1462.7,2709.5 1472.0,2715.0 C1481.3,2720.5 1489.5,2730.7 1495.0,2735.0 C1500.5,2739.3 1499.2,2740.2 1505.0,2741.0 C1510.8,2741.8 1520.8,2739.2 1530.0,2740.0 C1539.2,2740.8 1549.5,2743.7 1560.0,2746.0 C1570.5,2748.3 1582.0,2751.5 1593.0,2754.0 C1604.0,2756.5 1615.2,2757.7 1626.0,2761.0 C1636.8,2764.3 1649.8,2769.7 1658.0,2774.0 C1666.2,2778.3 1667.3,2782.7 1675.0,2787.0 C1682.7,2791.3 1695.8,2795.2 1704.0,2800.0 C1712.2,2804.8 1715.2,2811.7 1724.0,2816.0 C1732.8,2820.3 1746.0,2822.0 1757.0,2826.0 C1768.0,2830.0 1779.2,2835.5 1790.0,2840.0 C1800.8,2844.5 1811.2,2849.3 1822.0,2853.0 C1832.8,2856.7 1844.0,2859.8 1855.0,2862.0 C1866.0,2864.2 1877.0,2863.2 1888.0,2866.0 C1899.0,2868.8 1910.2,2875.2 1921.0,2879.0 C1931.8,2882.8 1942.2,2885.8 1953.0,2889.0 C1963.8,2892.2 1975.0,2895.3 1986.0,2898.0 C1997.0,2900.7 2008.0,2902.7 2019.0,2905.0 C2030.0,2907.3 2042.8,2909.8 2052.0,2912.0 C2061.2,2914.2 2070.3,2917.0 2074.0,2918.0" fill="none" stroke="#1a6676" stroke-width="70" filter="url(#blur20)" opacity="0.55"/>
<path d="M437.0,2199.0 C440.0,2201.7 447.8,2207.3 455.0,2215.0 C462.2,2222.7 471.7,2236.2 480.0,2245.0 C488.3,2253.8 496.3,2261.0 505.0,2268.0 C513.7,2275.0 522.0,2280.5 532.0,2287.0 C542.0,2293.5 554.0,2302.0 565.0,2307.0 C576.0,2312.0 587.2,2313.7 598.0,2317.0 C608.8,2320.3 619.2,2324.3 630.0,2327.0 C640.8,2329.7 653.7,2330.3 663.0,2333.0 C672.3,2335.7 677.2,2340.2 686.0,2343.0 C694.8,2345.8 706.2,2350.0 716.0,2350.0 C725.8,2350.0 736.3,2345.2 745.0,2343.0 C753.7,2340.8 759.8,2337.5 768.0,2337.0 C776.2,2336.5 788.0,2333.5 794.0,2340.0 C800.0,2346.5 798.5,2366.2 804.0,2376.0 C809.5,2385.8 817.7,2392.5 827.0,2399.0 C836.3,2405.5 850.2,2410.7 860.0,2415.0 C869.8,2419.3 875.2,2423.8 886.0,2425.0 C896.8,2426.2 914.7,2423.8 925.0,2422.0 C935.3,2420.2 942.8,2412.3 948.0,2414.0 C953.2,2415.7 951.5,2424.7 956.0,2432.0 C960.5,2439.3 967.5,2451.5 975.0,2458.0 C982.5,2464.5 989.2,2463.8 1001.0,2471.0 C1012.8,2478.2 1033.0,2491.8 1046.0,2501.0 C1059.0,2510.2 1068.0,2519.5 1079.0,2526.0 C1090.0,2532.5 1101.2,2536.2 1112.0,2540.0 C1122.8,2543.8 1133.2,2545.8 1144.0,2549.0 C1154.8,2552.2 1166.0,2554.0 1177.0,2559.0 C1188.0,2564.0 1199.0,2573.5 1210.0,2579.0 C1221.0,2584.5 1232.2,2588.7 1243.0,2592.0 C1253.8,2595.3 1264.2,2596.8 1275.0,2599.0 C1285.8,2601.2 1299.7,2601.8 1308.0,2605.0 C1316.3,2608.2 1319.5,2613.0 1325.0,2618.0 C1330.5,2623.0 1332.8,2628.3 1341.0,2635.0 C1349.2,2641.7 1364.2,2652.3 1374.0,2658.0 C1383.8,2663.7 1389.2,2661.7 1400.0,2669.0 C1410.8,2676.3 1427.0,2694.3 1439.0,2702.0 C1451.0,2709.7 1462.7,2709.5 1472.0,2715.0 C1481.3,2720.5 1489.5,2730.7 1495.0,2735.0 C1500.5,2739.3 1499.2,2740.2 1505.0,2741.0 C1510.8,2741.8 1520.8,2739.2 1530.0,2740.0 C1539.2,2740.8 1549.5,2743.7 1560.0,2746.0 C1570.5,2748.3 1582.0,2751.5 1593.0,2754.0 C1604.0,2756.5 1615.2,2757.7 1626.0,2761.0 C1636.8,2764.3 1649.8,2769.7 1658.0,2774.0 C1666.2,2778.3 1667.3,2782.7 1675.0,2787.0 C1682.7,2791.3 1695.8,2795.2 1704.0,2800.0 C1712.2,2804.8 1715.2,2811.7 1724.0,2816.0 C1732.8,2820.3 1746.0,2822.0 1757.0,2826.0 C1768.0,2830.0 1779.2,2835.5 1790.0,2840.0 C1800.8,2844.5 1811.2,2849.3 1822.0,2853.0 C1832.8,2856.7 1844.0,2859.8 1855.0,2862.0 C1866.0,2864.2 1877.0,2863.2 1888.0,2866.0 C1899.0,2868.8 1910.2,2875.2 1921.0,2879.0 C1931.8,2882.8 1942.2,2885.8 1953.0,2889.0 C1963.8,2892.2 1975.0,2895.3 1986.0,2898.0 C1997.0,2900.7 2008.0,2902.7 2019.0,2905.0 C2030.0,2907.3 2042.8,2909.8 2052.0,2912.0 C2061.2,2914.2 2070.3,2917.0 2074.0,2918.0" fill="none" stroke="#257a86" stroke-width="26" filter="url(#blur10)" opacity="0.65"/>
<polygon points="1590,2690 1709,2690 1709,2800 1590,2760" fill="#3c7d8c" opacity="0.5" filter="url(#blur10)"/>
<polygon points="1709,2700 1890,2740 1890,2790 1709,2790" fill="#051d3c" opacity="0.55" filter="url(#blur20)"/>
</g>
<path d="M437.0,2199.0 C440.0,2201.7 447.8,2207.3 455.0,2215.0 C462.2,2222.7 471.7,2236.2 480.0,2245.0 C488.3,2253.8 496.3,2261.0 505.0,2268.0 C513.7,2275.0 522.0,2280.5 532.0,2287.0 C542.0,2293.5 554.0,2302.0 565.0,2307.0 C576.0,2312.0 587.2,2313.7 598.0,2317.0 C608.8,2320.3 619.2,2324.3 630.0,2327.0 C640.8,2329.7 653.7,2330.3 663.0,2333.0 C672.3,2335.7 677.2,2340.2 686.0,2343.0 C694.8,2345.8 706.2,2350.0 716.0,2350.0 C725.8,2350.0 736.3,2345.2 745.0,2343.0 C753.7,2340.8 759.8,2337.5 768.0,2337.0 C776.2,2336.5 788.0,2333.5 794.0,2340.0 C800.0,2346.5 798.5,2366.2 804.0,2376.0 C809.5,2385.8 817.7,2392.5 827.0,2399.0 C836.3,2405.5 850.2,2410.7 860.0,2415.0 C869.8,2419.3 875.2,2423.8 886.0,2425.0 C896.8,2426.2 914.7,2423.8 925.0,2422.0 C935.3,2420.2 942.8,2412.3 948.0,2414.0 C953.2,2415.7 951.5,2424.7 956.0,2432.0 C960.5,2439.3 967.5,2451.5 975.0,2458.0 C982.5,2464.5 989.2,2463.8 1001.0,2471.0 C1012.8,2478.2 1033.0,2491.8 1046.0,2501.0 C1059.0,2510.2 1068.0,2519.5 1079.0,2526.0 C1090.0,2532.5 1101.2,2536.2 1112.0,2540.0 C1122.8,2543.8 1133.2,2545.8 1144.0,2549.0 C1154.8,2552.2 1166.0,2554.0 1177.0,2559.0 C1188.0,2564.0 1199.0,2573.5 1210.0,2579.0 C1221.0,2584.5 1232.2,2588.7 1243.0,2592.0 C1253.8,2595.3 1264.2,2596.8 1275.0,2599.0 C1285.8,2601.2 1299.7,2601.8 1308.0,2605.0 C1316.3,2608.2 1319.5,2613.0 1325.0,2618.0 C1330.5,2623.0 1332.8,2628.3 1341.0,2635.0 C1349.2,2641.7 1364.2,2652.3 1374.0,2658.0 C1383.8,2663.7 1389.2,2661.7 1400.0,2669.0 C1410.8,2676.3 1427.0,2694.3 1439.0,2702.0 C1451.0,2709.7 1462.7,2709.5 1472.0,2715.0 C1481.3,2720.5 1489.5,2730.7 1495.0,2735.0 C1500.5,2739.3 1499.2,2740.2 1505.0,2741.0 C1510.8,2741.8 1520.8,2739.2 1530.0,2740.0 C1539.2,2740.8 1549.5,2743.7 1560.0,2746.0 C1570.5,2748.3 1582.0,2751.5 1593.0,2754.0 C1604.0,2756.5 1615.2,2757.7 1626.0,2761.0 C1636.8,2764.3 1649.8,2769.7 1658.0,2774.0 C1666.2,2778.3 1667.3,2782.7 1675.0,2787.0 C1682.7,2791.3 1695.8,2795.2 1704.0,2800.0 C1712.2,2804.8 1715.2,2811.7 1724.0,2816.0 C1732.8,2820.3 1746.0,2822.0 1757.0,2826.0 C1768.0,2830.0 1779.2,2835.5 1790.0,2840.0 C1800.8,2844.5 1811.2,2849.3 1822.0,2853.0 C1832.8,2856.7 1844.0,2859.8 1855.0,2862.0 C1866.0,2864.2 1877.0,2863.2 1888.0,2866.0 C1899.0,2868.8 1910.2,2875.2 1921.0,2879.0 C1931.8,2882.8 1942.2,2885.8 1953.0,2889.0 C1963.8,2892.2 1975.0,2895.3 1986.0,2898.0 C1997.0,2900.7 2008.0,2902.7 2019.0,2905.0 C2030.0,2907.3 2042.8,2909.8 2052.0,2912.0 C2061.2,2914.2 2070.3,2917.0 2074.0,2918.0" fill="none" stroke="#b0aca4" stroke-width="6" opacity="0.55" filter="url(#blur2)"/>
<path d="M813,2261 C860,2275 910,2290 940,2315 C958,2335 962,2360 958,2391 L953,2413" fill="none" stroke="#c8c4ba" stroke-width="6" opacity="0.9"/>
<path d="M891,2333 L936,2338 M912,2335 L918,2404 M918,2404 L940,2420" fill="none" stroke="#bdb8ae" stroke-width="6"/>
<path d="M960,2445 C980,2440 990,2450 995,2465" fill="none" stroke="#b0b0a8" stroke-width="4"/>
<path d="M1000,2470 L1060,2500" fill="none" stroke="#d0d8d0" stroke-width="3" stroke-dasharray="8 6" opacity="0.7"/>
<polygon points="380,2258 400,2262 480,2325 470,2340 375,2285" fill="#a89468" opacity="0.8" filter="url(#blur2)"/>
<g opacity="0.85">
<path d="M125,2345 L355,2282 M130,2358 L355,2296 M132,2355 L125,2345 M355,2282 L355,2296" fill="none" stroke="#d8d8cc" stroke-width="5"/>
<polygon points="245,2338 340,2312 345,2330 250,2355" fill="#e2e0d6"/>
</g>
<path d="M90,2880 C200,2860 260,2860 300,2880 C400,2860 480,2830 560,2780 C600,2750 640,2690 690,2600" fill="none" stroke="#c8a890" stroke-width="5" opacity="0.7"/>
<path d="M18,2870 C100,2850 160,2840 200,2830" fill="none" stroke="#b09888" stroke-width="4" opacity="0.6"/>
<path d="M760,2690 C850,2720 950,2740 1060,2750 C1100,2752 1150,2740 1200,2720" fill="none" stroke="#5a6a80" stroke-width="5" opacity="0.6"/>
<path d="M300,2500 C400,2560 500,2620 560,2660" fill="none" stroke="#606a78" stroke-width="4" opacity="0.5"/>
<path d="M1725,2898 C1715,2930 1705,2950 1702,2980 C1700,3020 1708,3060 1706,3090 C1704,3110 1706,3125 1705,3139" fill="none" stroke="#10282a" stroke-width="9" opacity="0.9"/>
</g>
<path d="M780,2364 C776,2350 762.5,2335.125 762.5,2325.5 A17.5,17.5 0 1 1 797.5,2325.5 C797.5,2335.125 784,2350 780,2364 Z" fill="#EA4335"/><circle cx="780" cy="2325.5" r="5.5" fill="#7a0c0c"/>
<path d="M956,2504 C952,2490 938.5,2475.125 938.5,2465.5 A17.5,17.5 0 1 1 973.5,2465.5 C973.5,2475.125 960,2490 956,2504 Z" fill="#EA4335"/><circle cx="956" cy="2465.5" r="5.5" fill="#7a0c0c"/>
<text x="825.98" y="2325.00" font-family="'Liberation Serif','Times New Roman',serif" font-size="60" font-weight="bold" fill="#ffffff" textLength="336.93" lengthAdjust="spacingAndGlyphs" xml:space="preserve" >Rural station</text>
<text x="996.51" y="2465.70" font-family="'Liberation Serif','Times New Roman',serif" font-size="60" font-weight="bold" fill="#ffffff" textLength="353.89" lengthAdjust="spacingAndGlyphs" xml:space="preserve" >Urban station</text>
<text x="21.20" y="2282.00" font-family="'Liberation Serif','Times New Roman',serif" font-size="52" font-weight="bold" fill="#ffffff" textLength="70.59" lengthAdjust="spacingAndGlyphs" xml:space="preserve" >(c)</text>
<text x="1891.26" y="2385.00" font-family="'Liberation Serif','Times New Roman',serif" font-size="20" fill="#ffffff" textLength="107.34" lengthAdjust="spacingAndGlyphs" xml:space="preserve" opacity="0.08">© 2020 Google</text>
<text x="1829.99" y="3120.00" font-family="'Liberation Serif','Times New Roman',serif" font-size="48" font-weight="bold" fill="#ffffff" textLength="234.29" lengthAdjust="spacingAndGlyphs" xml:space="preserve" >Image 2024</text>
<rect x="131" y="3045" width="538" height="85" fill="#ffffff"/>
<rect x="203" y="3099.5" width="77.5" height="7" fill="#000"/>
<rect x="280.5" y="3090.5" width="78" height="9" fill="#f00000"/>
<rect x="358.5" y="3099.5" width="78" height="7" fill="#000"/>
<rect x="436.5" y="3090.5" width="79" height="9" fill="#f00000"/>
<rect x="515.5" y="3099.5" width="77.5" height="7" fill="#000"/>
<line x1="203" y1="3084.5" x2="203" y2="3116" stroke="#333" stroke-width="2"/>
<line x1="280.5" y1="3084.5" x2="280.5" y2="3116" stroke="#333" stroke-width="2"/>
<line x1="358.5" y1="3084.5" x2="358.5" y2="3116" stroke="#333" stroke-width="2"/>
<line x1="436.5" y1="3084.5" x2="436.5" y2="3116" stroke="#333" stroke-width="2"/>
<line x1="515.5" y1="3084.5" x2="515.5" y2="3116" stroke="#333" stroke-width="2"/>
<line x1="593" y1="3084.5" x2="593" y2="3116" stroke="#333" stroke-width="2"/>
<text x="196.51" y="3076.00" font-family="'Liberation Serif','Times New Roman',serif" font-size="26" fill="#000" textLength="12.98" lengthAdjust="spacingAndGlyphs" xml:space="preserve" >0</text>
<text x="275.13" y="3076.00" font-family="'Liberation Serif','Times New Roman',serif" font-size="26" fill="#000" textLength="10.65" lengthAdjust="spacingAndGlyphs" xml:space="preserve" >1</text>
<text x="563.09" y="3076.00" font-family="'Liberation Serif','Times New Roman',serif" font-size="26" fill="#000" textLength="62.34" lengthAdjust="spacingAndGlyphs" xml:space="preserve" >5 Km</text>
</svg>
</body></html>
